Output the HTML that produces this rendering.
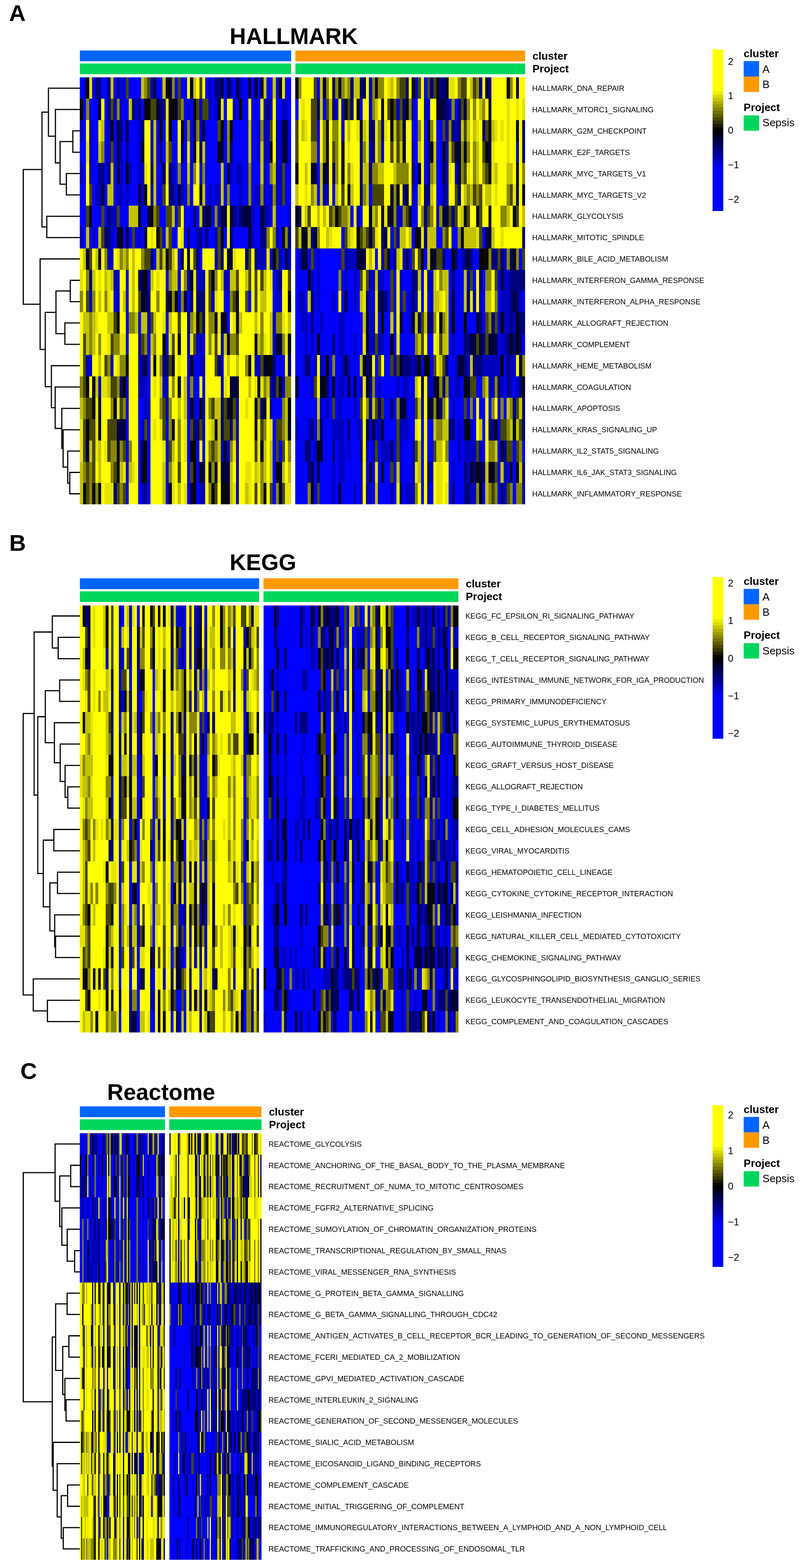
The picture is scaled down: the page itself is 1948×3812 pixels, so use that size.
<!DOCTYPE html>
<html lang="en"><head><meta charset="utf-8"><title>GSVA heatmaps: HALLMARK, KEGG, Reactome</title>
<style>
html,body{margin:0;padding:0;background:#fff}
body{width:1948px;height:3812px;overflow:hidden}
svg{display:block}
text{font-family:"Liberation Sans",Arial,Helvetica,sans-serif;fill:#000}
.big{font-size:55px;font-weight:700}
.let{font-size:56px;font-weight:700}
.ann{font-size:26px;font-weight:700}
.leg{font-size:26px}
.tick{font-size:24px}
.row{font-size:18.3px}
</style></head>
<body>
<svg width="1948" height="3812" viewBox="0 0 1948 3812">
<rect width="1948" height="3812" fill="#fff"/>
<text x="22" y="51.4" class="let">A</text>
<text x="558.5" y="107" class="big">HALLMARK</text>
<rect x="194.3" y="122.8" width="513.6" height="26.3" fill="#0066FF"/>
<rect x="194.3" y="154.3" width="513.6" height="26.1" fill="#00D65C"/>
<rect x="718.4" y="122.8" width="558.6" height="26.3" fill="#FF9900"/>
<rect x="718.4" y="154.3" width="558.6" height="26.1" fill="#00D65C"/>
<text x="1295" y="145.2" class="ann">cluster</text>
<text x="1295" y="176.2" class="ann">Project</text>
<g shape-rendering="crispEdges"><path fill="#0000FF" d="M194 188h8v52h-8zM224 188h8v52h-8zM246 188h15v52h-15zM276 188h8v52h-8zM291 188h8v52h-8zM313 188h30v52h-30zM380 188h15v52h-15zM425 188h7v52h-7zM440 188h15v52h-15zM499 188h8v52h-8zM514 188h8v52h-8zM544 188h8v52h-8zM566 188h8v52h-8zM589 188h15v52h-15zM611 188h8v52h-8zM626 188h7v52h-7zM648 188h15v52h-15zM671 188h7v52h-7zM693 188h15v52h-15zM771 188h7v52h-7zM1031 188h8v52h-8zM202 240h7v52h-7zM217 240h22v52h-22zM254 240h7v52h-7zM299 240h14v52h-14zM343 240h8v52h-8zM447 240h8v52h-8zM462 240h8v52h-8zM514 240h8v52h-8zM544 240h8v52h-8zM574 240h7v52h-7zM589 240h15v52h-15zM611 240h22v52h-22zM671 240h15v52h-15zM700 240h8v52h-8zM718 240h8v52h-8zM785 240h8v52h-8zM875 240h7v52h-7zM1009 240h7v52h-7zM1106 240h7v52h-7zM202 292h7v52h-7zM224 292h15v52h-15zM254 292h7v52h-7zM276 292h8v52h-8zM299 292h7v52h-7zM313 292h23v52h-23zM380 292h8v52h-8zM395 292h8v52h-8zM418 292h14v52h-14zM447 292h8v52h-8zM462 292h8v52h-8zM499 292h30v52h-30zM544 292h8v52h-8zM566 292h38v52h-38zM611 292h15v52h-15zM700 292h8v52h-8zM771 292h7v52h-7zM1001 292h15v52h-15zM1031 292h8v52h-8zM1061 292h15v52h-15zM194 344h15v52h-15zM224 344h15v52h-15zM254 344h7v52h-7zM276 344h8v52h-8zM299 344h7v52h-7zM313 344h23v52h-23zM380 344h8v52h-8zM395 344h8v52h-8zM418 344h14v52h-14zM447 344h8v52h-8zM462 344h8v52h-8zM499 344h30v52h-30zM544 344h8v52h-8zM566 344h38v52h-38zM611 344h15v52h-15zM700 344h8v52h-8zM771 344h7v52h-7zM1009 344h7v52h-7zM1031 344h8v52h-8zM1061 344h15v52h-15zM202 396h7v52h-7zM224 396h15v52h-15zM254 396h7v52h-7zM276 396h8v52h-8zM299 396h7v52h-7zM321 396h15v52h-15zM380 396h15v52h-15zM425 396h7v52h-7zM440 396h15v52h-15zM462 396h8v52h-8zM485 396h7v52h-7zM499 396h38v52h-38zM544 396h8v52h-8zM566 396h8v52h-8zM589 396h15v52h-15zM611 396h22v52h-22zM648 396h8v52h-8zM693 396h15v52h-15zM771 396h7v52h-7zM1009 396h7v52h-7zM1031 396h8v52h-8zM1061 396h15v52h-15zM194 448h15v52h-15zM224 448h8v52h-8zM254 448h7v52h-7zM276 448h8v52h-8zM299 448h7v52h-7zM313 448h23v52h-23zM380 448h15v52h-15zM425 448h7v52h-7zM447 448h8v52h-8zM462 448h8v52h-8zM499 448h8v52h-8zM514 448h8v52h-8zM544 448h8v52h-8zM559 448h22v52h-22zM589 448h15v52h-15zM611 448h8v52h-8zM648 448h8v52h-8zM693 448h15v52h-15zM771 448h7v52h-7zM808 448h7v52h-7zM897 448h8v52h-8zM1009 448h7v52h-7zM1061 448h15v52h-15zM194 500h15v52h-15zM224 500h22v52h-22zM254 500h7v52h-7zM291 500h22v52h-22zM343 500h15v52h-15zM388 500h15v52h-15zM425 500h7v52h-7zM447 500h23v52h-23zM477 500h8v52h-8zM514 500h8v52h-8zM619 500h14v52h-14zM656 500h7v52h-7zM671 500h29v52h-29zM852 500h8v52h-8zM875 500h7v52h-7zM1001 500h15v52h-15zM202 552h7v52h-7zM217 552h7v52h-7zM232 552h7v52h-7zM276 552h8v52h-8zM299 552h7v52h-7zM313 552h8v52h-8zM328 552h8v52h-8zM343 552h8v52h-8zM395 552h8v52h-8zM418 552h14v52h-14zM447 552h8v52h-8zM462 552h15v52h-15zM492 552h7v52h-7zM507 552h15v52h-15zM544 552h8v52h-8zM566 552h38v52h-38zM619 552h14v52h-14zM678 552h8v52h-8zM830 552h8v52h-8zM949 552h8v52h-8zM1001 552h8v52h-8zM1061 552h15v52h-15zM1098 552h15v52h-15zM1173 552h7v52h-7zM373 604h7v52h-7zM432 604h8v52h-8zM485 604h7v52h-7zM656 604h7v52h-7zM686 604h7v52h-7zM718 604h8v52h-8zM748 604h8v52h-8zM763 604h8v52h-8zM778 604h52v52h-52zM912 604h7v52h-7zM949 604h8v52h-8zM994 604h7v52h-7zM1031 604h8v52h-8zM1083 604h15v52h-15zM1113 604h8v52h-8zM1150 604h15v52h-15zM1262 604h8v52h-8zM306 656h7v51h-7zM403 656h7v51h-7zM432 656h8v51h-8zM663 656h8v51h-8zM718 656h30v51h-30zM763 656h8v51h-8zM778 656h45v51h-45zM830 656h8v51h-8zM845 656h15v51h-15zM867 656h8v51h-8zM934 656h15v51h-15zM957 656h7v51h-7zM979 656h22v51h-22zM1024 656h7v51h-7zM1091 656h7v51h-7zM1106 656h22v51h-22zM1150 656h8v51h-8zM1173 656h7v51h-7zM1210 656h7v51h-7zM276 707h8v52h-8zM306 707h7v52h-7zM432 707h8v52h-8zM455 707h7v52h-7zM544 707h8v52h-8zM604 707h7v52h-7zM663 707h8v52h-8zM718 707h8v52h-8zM741 707h7v52h-7zM763 707h8v52h-8zM778 707h30v52h-30zM815 707h8v52h-8zM830 707h8v52h-8zM845 707h15v52h-15zM867 707h8v52h-8zM905 707h7v52h-7zM942 707h7v52h-7zM957 707h7v52h-7zM972 707h7v52h-7zM987 707h7v52h-7zM1024 707h7v52h-7zM1039 707h7v52h-7zM1091 707h7v52h-7zM1106 707h22v52h-22zM1173 707h7v52h-7zM1210 707h7v52h-7zM1270 707h7v52h-7zM306 759h7v52h-7zM336 759h7v52h-7zM403 759h7v52h-7zM552 759h7v52h-7zM718 759h15v52h-15zM748 759h8v52h-8zM763 759h15v52h-15zM785 759h38v52h-38zM838 759h44v52h-44zM919 759h8v52h-8zM934 759h15v52h-15zM957 759h7v52h-7zM979 759h15v52h-15zM1091 759h7v52h-7zM1106 759h22v52h-22zM1135 759h23v52h-23zM1173 759h7v52h-7zM1210 759h7v52h-7zM306 811h7v52h-7zM358 811h8v52h-8zM403 811h7v52h-7zM492 811h7v52h-7zM718 811h23v52h-23zM748 811h8v52h-8zM763 811h8v52h-8zM778 811h30v52h-30zM815 811h8v52h-8zM838 811h22v52h-22zM867 811h15v52h-15zM934 811h15v52h-15zM957 811h7v52h-7zM972 811h37v52h-37zM1039 811h15v52h-15zM1091 811h7v52h-7zM1106 811h22v52h-22zM1210 811h7v52h-7zM1270 811h7v52h-7zM358 863h8v52h-8zM455 863h7v52h-7zM470 863h15v52h-15zM671 863h22v52h-22zM718 863h23v52h-23zM756 863h7v52h-7zM800 863h8v52h-8zM815 863h15v52h-15zM852 863h23v52h-23zM912 863h7v52h-7zM934 863h15v52h-15zM1024 863h7v52h-7zM1046 863h8v52h-8zM1091 863h15v52h-15zM1225 863h7v52h-7zM358 915h8v52h-8zM455 915h7v52h-7zM470 915h15v52h-15zM492 915h7v52h-7zM726 915h30v52h-30zM800 915h8v52h-8zM815 915h8v52h-8zM838 915h7v52h-7zM852 915h8v52h-8zM867 915h8v52h-8zM912 915h7v52h-7zM927 915h37v52h-37zM972 915h7v52h-7zM994 915h15v52h-15zM1098 915h8v52h-8zM1121 915h7v52h-7zM1158 915h15v52h-15zM1225 915h7v52h-7zM1247 915h8v52h-8zM306 967h7v52h-7zM336 967h15v52h-15zM455 967h7v52h-7zM477 967h8v52h-8zM663 967h23v52h-23zM718 967h53v52h-53zM785 967h8v52h-8zM800 967h8v52h-8zM815 967h8v52h-8zM830 967h30v52h-30zM867 967h8v52h-8zM934 967h15v52h-15zM957 967h7v52h-7zM994 967h15v52h-15zM1091 967h7v52h-7zM1106 967h22v52h-22zM1135 967h8v52h-8zM1150 967h8v52h-8zM1165 967h15v52h-15zM1188 967h7v52h-7zM1210 967h7v52h-7zM1225 967h7v52h-7zM306 1019h7v52h-7zM336 1019h7v52h-7zM358 1019h8v52h-8zM403 1019h7v52h-7zM455 1019h7v52h-7zM663 1019h8v52h-8zM726 1019h22v52h-22zM763 1019h8v52h-8zM785 1019h23v52h-23zM838 1019h7v52h-7zM852 1019h15v52h-15zM934 1019h30v52h-30zM994 1019h15v52h-15zM1024 1019h7v52h-7zM1039 1019h15v52h-15zM1106 1019h7v52h-7zM1121 1019h7v52h-7zM1150 1019h8v52h-8zM1173 1019h7v52h-7zM1210 1019h7v52h-7zM306 1071h7v52h-7zM336 1071h7v52h-7zM358 1071h8v52h-8zM403 1071h7v52h-7zM455 1071h7v52h-7zM477 1071h8v52h-8zM492 1071h7v52h-7zM663 1071h8v52h-8zM678 1071h8v52h-8zM718 1071h23v52h-23zM756 1071h7v52h-7zM785 1071h23v52h-23zM815 1071h8v52h-8zM838 1071h7v52h-7zM852 1071h23v52h-23zM897 1071h8v52h-8zM919 1071h8v52h-8zM957 1071h7v52h-7zM979 1071h22v52h-22zM1024 1071h7v52h-7zM1039 1071h15v52h-15zM1091 1071h22v52h-22zM1121 1071h7v52h-7zM1173 1071h7v52h-7zM1210 1071h7v52h-7zM1247 1071h8v52h-8zM1270 1071h7v52h-7zM306 1123h7v51h-7zM336 1123h7v51h-7zM358 1123h8v51h-8zM403 1123h7v51h-7zM455 1123h7v51h-7zM477 1123h8v51h-8zM663 1123h8v51h-8zM718 1123h30v51h-30zM763 1123h8v51h-8zM778 1123h30v51h-30zM815 1123h8v51h-8zM838 1123h37v51h-37zM890 1123h7v51h-7zM905 1123h7v51h-7zM919 1123h8v51h-8zM934 1123h15v51h-15zM957 1123h7v51h-7zM979 1123h22v51h-22zM1024 1123h7v51h-7zM1091 1123h7v51h-7zM1106 1123h22v51h-22zM1210 1123h7v51h-7zM1247 1123h8v51h-8zM306 1174h7v52h-7zM336 1174h7v52h-7zM358 1174h8v52h-8zM403 1174h7v52h-7zM455 1174h7v52h-7zM477 1174h8v52h-8zM663 1174h8v52h-8zM718 1174h30v52h-30zM763 1174h8v52h-8zM778 1174h30v52h-30zM815 1174h8v52h-8zM830 1174h30v52h-30zM867 1174h8v52h-8zM905 1174h7v52h-7zM919 1174h30v52h-30zM957 1174h7v52h-7zM979 1174h8v52h-8zM1024 1174h7v52h-7zM1046 1174h8v52h-8zM1091 1174h7v52h-7zM1106 1174h22v52h-22zM1173 1174h7v52h-7zM1210 1174h7v52h-7zM1247 1174h8v52h-8z"/>
<path fill="#0000BE" d="M202 188h7v52h-7zM299 188h7v52h-7zM366 188h7v52h-7zM507 188h7v52h-7zM559 188h7v52h-7zM581 188h8v52h-8zM897 188h8v52h-8zM1009 188h7v52h-7zM276 240h8v52h-8zM291 240h8v52h-8zM328 240h8v52h-8zM455 240h7v52h-7zM485 240h7v52h-7zM507 240h7v52h-7zM522 240h7v52h-7zM566 240h8v52h-8zM641 240h7v52h-7zM656 240h7v52h-7zM686 240h14v52h-14zM815 240h8v52h-8zM830 240h8v52h-8zM897 240h8v52h-8zM964 240h8v52h-8zM1001 240h8v52h-8zM1031 240h15v52h-15zM1091 240h7v52h-7zM194 292h8v52h-8zM217 292h7v52h-7zM261 292h8v52h-8zM336 292h7v52h-7zM366 292h7v52h-7zM485 292h7v52h-7zM626 292h7v52h-7zM641 292h15v52h-15zM671 292h15v52h-15zM830 292h8v52h-8zM1083 292h8v52h-8zM1106 292h7v52h-7zM217 344h7v52h-7zM261 344h8v52h-8zM291 344h8v52h-8zM336 344h7v52h-7zM366 344h7v52h-7zM626 344h7v52h-7zM641 344h15v52h-15zM671 344h15v52h-15zM897 344h8v52h-8zM927 344h7v52h-7zM1001 344h8v52h-8zM1083 344h8v52h-8zM1255 344h7v52h-7zM194 396h8v52h-8zM217 396h7v52h-7zM291 396h8v52h-8zM313 396h8v52h-8zM336 396h15v52h-15zM418 396h7v52h-7zM559 396h7v52h-7zM574 396h15v52h-15zM641 396h7v52h-7zM671 396h15v52h-15zM1083 396h8v52h-8zM1106 396h7v52h-7zM232 448h14v52h-14zM284 448h15v52h-15zM306 448h7v52h-7zM343 448h8v52h-8zM366 448h7v52h-7zM440 448h7v52h-7zM507 448h7v52h-7zM522 448h15v52h-15zM581 448h8v52h-8zM619 448h14v52h-14zM641 448h7v52h-7zM656 448h7v52h-7zM671 448h15v52h-15zM785 448h15v52h-15zM1001 448h8v52h-8zM1083 448h8v52h-8zM269 500h15v52h-15zM529 500h8v52h-8zM574 500h7v52h-7zM611 500h8v52h-8zM648 500h8v52h-8zM700 500h8v52h-8zM867 500h8v52h-8zM964 500h15v52h-15zM1061 500h7v52h-7zM194 552h8v52h-8zM224 552h8v52h-8zM269 552h7v52h-7zM336 552h7v52h-7zM477 552h8v52h-8zM522 552h7v52h-7zM611 552h8v52h-8zM671 552h7v52h-7zM964 552h8v52h-8zM261 604h15v52h-15zM522 604h7v52h-7zM626 604h22v52h-22zM678 604h8v52h-8zM700 604h8v52h-8zM726 604h7v52h-7zM771 604h7v52h-7zM838 604h29v52h-29zM927 604h7v52h-7zM979 604h8v52h-8zM1121 604h7v52h-7zM1225 604h7v52h-7zM276 656h15v51h-15zM358 656h8v51h-8zM455 656h7v51h-7zM477 656h22v51h-22zM544 656h15v51h-15zM671 656h7v51h-7zM756 656h7v51h-7zM771 656h7v51h-7zM838 656h7v51h-7zM860 656h7v51h-7zM897 656h15v51h-15zM919 656h15v51h-15zM972 656h7v51h-7zM1039 656h15v51h-15zM1135 656h8v51h-8zM1225 656h15v51h-15zM217 707h7v52h-7zM284 707h7v52h-7zM514 707h8v52h-8zM552 707h7v52h-7zM671 707h15v52h-15zM726 707h15v52h-15zM771 707h7v52h-7zM808 707h7v52h-7zM860 707h7v52h-7zM897 707h8v52h-8zM994 707h7v52h-7zM1009 707h7v52h-7zM1046 707h8v52h-8zM1150 707h8v52h-8zM1165 707h8v52h-8zM1217 707h23v52h-23zM1262 707h8v52h-8zM358 759h8v52h-8zM663 759h8v52h-8zM733 759h15v52h-15zM778 759h7v52h-7zM823 759h15v52h-15zM897 759h15v52h-15zM994 759h7v52h-7zM1225 759h15v52h-15zM1247 759h8v52h-8zM336 811h7v52h-7zM455 811h7v52h-7zM477 811h15v52h-15zM537 811h7v52h-7zM663 811h8v52h-8zM741 811h7v52h-7zM756 811h7v52h-7zM823 811h15v52h-15zM860 811h7v52h-7zM897 811h15v52h-15zM919 811h15v52h-15zM1098 811h8v52h-8zM1217 811h15v52h-15zM209 863h15v52h-15zM269 863h7v52h-7zM336 863h7v52h-7zM485 863h14v52h-14zM537 863h7v52h-7zM619 863h14v52h-14zM763 863h8v52h-8zM778 863h15v52h-15zM830 863h8v52h-8zM845 863h7v52h-7zM957 863h7v52h-7zM1001 863h8v52h-8zM1106 863h7v52h-7zM1135 863h8v52h-8zM1173 863h44v52h-44zM1240 863h15v52h-15zM239 915h7v52h-7zM306 915h7v52h-7zM336 915h22v52h-22zM395 915h15v52h-15zM537 915h7v52h-7zM656 915h7v52h-7zM686 915h7v52h-7zM756 915h7v52h-7zM823 915h15v52h-15zM875 915h7v52h-7zM919 915h8v52h-8zM964 915h8v52h-8zM979 915h15v52h-15zM1039 915h15v52h-15zM1091 915h7v52h-7zM1106 915h15v52h-15zM1188 915h15v52h-15zM1217 915h8v52h-8zM1240 915h7v52h-7zM1255 915h7v52h-7zM351 967h15v52h-15zM403 967h7v52h-7zM470 967h7v52h-7zM492 967h7v52h-7zM574 967h7v52h-7zM656 967h7v52h-7zM778 967h7v52h-7zM793 967h7v52h-7zM823 967h7v52h-7zM860 967h7v52h-7zM987 967h7v52h-7zM1024 967h7v52h-7zM1098 967h8v52h-8zM343 1019h8v52h-8zM492 1019h7v52h-7zM574 1019h7v52h-7zM718 1019h8v52h-8zM748 1019h8v52h-8zM808 1019h30v52h-30zM867 1019h15v52h-15zM897 1019h8v52h-8zM912 1019h15v52h-15zM972 1019h22v52h-22zM1113 1019h8v52h-8zM1143 1019h7v52h-7zM537 1071h7v52h-7zM552 1071h7v52h-7zM574 1071h7v52h-7zM763 1071h8v52h-8zM823 1071h15v52h-15zM845 1071h7v52h-7zM890 1071h7v52h-7zM905 1071h7v52h-7zM927 1071h22v52h-22zM972 1071h7v52h-7zM1001 1071h8v52h-8zM1113 1071h8v52h-8zM1128 1071h30v52h-30zM1165 1071h8v52h-8zM574 1123h7v51h-7zM808 1123h7v51h-7zM823 1123h15v51h-15zM875 1123h7v51h-7zM972 1123h7v51h-7zM1001 1123h8v51h-8zM1046 1123h8v51h-8zM1098 1123h8v51h-8zM1135 1123h8v51h-8zM1225 1123h15v51h-15zM343 1174h8v52h-8zM485 1174h14v52h-14zM574 1174h7v52h-7zM808 1174h7v52h-7zM860 1174h7v52h-7zM875 1174h7v52h-7zM890 1174h15v52h-15zM949 1174h8v52h-8zM987 1174h22v52h-22zM1039 1174h7v52h-7zM1143 1174h15v52h-15zM1225 1174h7v52h-7zM1270 1174h7v52h-7z"/>
<path fill="#080804" d="M209 188h8v52h-8zM403 188h7v52h-7zM619 188h7v52h-7zM678 188h8v52h-8zM718 188h8v52h-8zM912 188h7v52h-7zM1001 188h8v52h-8zM1061 188h7v52h-7zM1232 188h8v52h-8zM194 240h8v52h-8zM351 240h15v52h-15zM410 240h15v52h-15zM470 240h7v52h-7zM581 240h8v52h-8zM838 240h7v52h-7zM867 240h8v52h-8zM949 240h8v52h-8zM987 240h7v52h-7zM1188 240h7v52h-7zM269 292h7v52h-7zM388 292h7v52h-7zM410 292h8v52h-8zM440 292h7v52h-7zM537 292h7v52h-7zM559 292h7v52h-7zM793 292h7v52h-7zM949 292h8v52h-8zM1188 292h7v52h-7zM470 344h7v52h-7zM529 344h8v52h-8zM656 344h7v52h-7zM793 344h7v52h-7zM1046 344h8v52h-8zM1076 344h7v52h-7zM1128 344h7v52h-7zM1180 344h8v52h-8zM306 396h7v52h-7zM718 396h8v52h-8zM1188 396h7v52h-7zM1255 396h7v52h-7zM351 448h7v52h-7zM845 448h7v52h-7zM366 500h7v52h-7zM718 500h8v52h-8zM815 500h8v52h-8zM942 500h7v52h-7zM1128 500h7v52h-7zM1188 500h7v52h-7zM1247 500h8v52h-8zM291 552h8v52h-8zM380 552h8v52h-8zM686 552h7v52h-7zM741 552h7v52h-7zM867 552h8v52h-8zM1009 552h15v52h-15zM552 604h7v52h-7zM663 604h8v52h-8zM1046 604h8v52h-8zM1098 604h8v52h-8zM1165 604h23v52h-23zM1247 604h8v52h-8zM351 656h7v51h-7zM462 656h8v51h-8zM514 656h8v51h-8zM410 707h8v52h-8zM425 707h7v52h-7zM700 707h8v52h-8zM284 759h7v52h-7zM477 759h8v52h-8zM927 759h7v52h-7zM1068 759h8v52h-8zM1098 759h8v52h-8zM1128 759h7v52h-7zM1217 759h8v52h-8zM1255 759h7v52h-7zM395 811h8v52h-8zM432 811h8v52h-8zM619 811h7v52h-7zM700 811h8v52h-8zM771 811h7v52h-7zM949 811h8v52h-8zM1240 811h7v52h-7zM1255 811h7v52h-7zM373 863h7v52h-7zM462 863h8v52h-8zM604 863h7v52h-7zM648 863h15v52h-15zM793 863h7v52h-7zM882 863h8v52h-8zM897 863h8v52h-8zM1016 863h8v52h-8zM1031 863h15v52h-15zM1217 863h8v52h-8zM1262 863h8v52h-8zM209 915h8v52h-8zM224 915h8v52h-8zM299 915h7v52h-7zM432 915h8v52h-8zM785 915h8v52h-8zM808 915h7v52h-7zM1061 915h7v52h-7zM1128 915h7v52h-7zM1270 915h7v52h-7zM224 967h8v52h-8zM462 967h8v52h-8zM485 967h7v52h-7zM559 967h7v52h-7zM641 967h7v52h-7zM700 967h8v52h-8zM1061 967h7v52h-7zM209 1019h8v52h-8zM522 1019h7v52h-7zM619 1019h7v52h-7zM1135 1019h8v52h-8zM1203 1019h7v52h-7zM1247 1019h8v52h-8zM351 1071h7v52h-7zM462 1071h15v52h-15zM771 1071h7v52h-7zM284 1123h7v51h-7zM343 1123h15v51h-15zM470 1123h7v51h-7zM485 1123h7v51h-7zM507 1123h7v51h-7zM671 1123h7v51h-7zM1143 1123h7v51h-7zM1158 1123h7v51h-7zM1188 1123h7v51h-7zM1255 1123h7v51h-7zM202 1174h7v52h-7zM224 1174h8v52h-8zM239 1174h7v52h-7zM410 1174h8v52h-8zM470 1174h7v52h-7zM514 1174h8v52h-8zM537 1174h15v52h-15zM641 1174h7v52h-7zM1165 1174h8v52h-8z"/>
<path fill="#E4E400" d="M217 188h7v52h-7zM686 188h7v52h-7zM942 188h7v52h-7zM1091 188h15v52h-15zM403 240h7v52h-7zM537 240h7v52h-7zM633 240h8v52h-8zM733 240h8v52h-8zM1232 240h8v52h-8zM1255 240h7v52h-7zM1270 240h7v52h-7zM239 292h7v52h-7zM403 292h7v52h-7zM741 292h7v52h-7zM867 292h8v52h-8zM890 292h7v52h-7zM912 292h7v52h-7zM934 292h8v52h-8zM1158 292h7v52h-7zM1203 292h7v52h-7zM1217 292h8v52h-8zM1232 292h8v52h-8zM209 344h8v52h-8zM455 344h7v52h-7zM477 344h8v52h-8zM845 344h7v52h-7zM890 344h7v52h-7zM912 344h7v52h-7zM957 344h7v52h-7zM1195 344h8v52h-8zM1232 344h8v52h-8zM351 396h7v52h-7zM403 396h7v52h-7zM852 396h8v52h-8zM1091 396h7v52h-7zM1135 396h8v52h-8zM1195 396h8v52h-8zM741 448h7v52h-7zM1203 448h7v52h-7zM1247 448h8v52h-8zM934 500h8v52h-8zM1113 500h8v52h-8zM366 552h7v52h-7zM440 552h7v52h-7zM800 552h8v52h-8zM852 552h8v52h-8zM912 552h7v52h-7zM1024 552h7v52h-7zM1158 552h7v52h-7zM1217 552h8v52h-8zM284 604h7v52h-7zM566 604h8v52h-8zM648 604h8v52h-8zM972 604h7v52h-7zM194 656h8v51h-8zM239 656h7v51h-7zM261 656h8v51h-8zM380 656h8v51h-8zM470 656h7v51h-7zM656 656h7v51h-7zM882 656h8v51h-8zM261 707h8v52h-8zM522 707h7v52h-7zM882 707h8v52h-8zM912 707h7v52h-7zM1068 707h8v52h-8zM1143 707h7v52h-7zM232 759h7v52h-7zM395 759h8v52h-8zM529 759h8v52h-8zM566 759h8v52h-8zM686 759h7v52h-7zM912 759h7v52h-7zM261 811h8v52h-8zM291 811h15v52h-15zM410 811h8v52h-8zM462 811h8v52h-8zM514 811h8v52h-8zM641 811h7v52h-7zM693 811h7v52h-7zM882 811h8v52h-8zM964 811h8v52h-8zM1061 811h7v52h-7zM284 863h7v52h-7zM366 863h7v52h-7zM432 863h8v52h-8zM1061 863h7v52h-7zM246 915h15v52h-15zM373 915h7v52h-7zM544 915h8v52h-8zM619 915h7v52h-7zM633 915h8v52h-8zM882 915h8v52h-8zM232 967h7v52h-7zM284 967h7v52h-7zM596 967h8v52h-8zM1083 967h8v52h-8zM194 1019h8v52h-8zM232 1019h7v52h-7zM373 1019h7v52h-7zM388 1019h7v52h-7zM447 1019h8v52h-8zM507 1019h7v52h-7zM626 1019h7v52h-7zM656 1019h7v52h-7zM1009 1019h7v52h-7zM194 1071h8v52h-8zM232 1071h7v52h-7zM254 1071h7v52h-7zM395 1071h8v52h-8zM447 1071h8v52h-8zM566 1071h8v52h-8zM626 1071h7v52h-7zM299 1123h7v51h-7zM321 1123h7v51h-7zM418 1123h7v51h-7zM529 1123h8v51h-8zM596 1123h15v51h-15zM626 1123h7v51h-7zM912 1123h7v51h-7zM1009 1123h7v51h-7zM1061 1123h15v51h-15zM254 1174h22v52h-22zM418 1174h7v52h-7zM447 1174h8v52h-8zM566 1174h8v52h-8zM604 1174h7v52h-7zM693 1174h15v52h-15zM964 1174h8v52h-8zM1061 1174h15v52h-15zM1083 1174h8v52h-8z"/>
<path fill="#00007D" d="M232 188h14v52h-14zM261 188h8v52h-8zM284 188h7v52h-7zM522 188h15v52h-15zM808 188h7v52h-7zM852 188h8v52h-8zM875 188h7v52h-7zM987 188h7v52h-7zM1046 188h8v52h-8zM1068 188h15v52h-15zM1165 188h8v52h-8zM1188 188h7v52h-7zM1255 188h7v52h-7zM261 240h8v52h-8zM321 240h7v52h-7zM336 240h7v52h-7zM388 240h15v52h-15zM648 240h8v52h-8zM771 240h7v52h-7zM808 240h7v52h-7zM852 240h8v52h-8zM979 240h8v52h-8zM1083 240h8v52h-8zM1113 240h8v52h-8zM291 292h8v52h-8zM343 292h8v52h-8zM897 292h15v52h-15zM927 292h7v52h-7zM1098 292h8v52h-8zM1113 292h8v52h-8zM1173 292h7v52h-7zM1270 292h7v52h-7zM306 344h7v52h-7zM388 344h7v52h-7zM440 344h7v52h-7zM485 344h7v52h-7zM559 344h7v52h-7zM875 344h7v52h-7zM905 344h7v52h-7zM1039 344h7v52h-7zM1270 344h7v52h-7zM239 396h15v52h-15zM261 396h8v52h-8zM366 396h7v52h-7zM410 396h8v52h-8zM808 396h7v52h-7zM875 396h7v52h-7zM897 396h8v52h-8zM1001 396h8v52h-8zM1039 396h7v52h-7zM410 448h15v52h-15zM875 448h7v52h-7zM979 448h8v52h-8zM1031 448h15v52h-15zM1076 448h7v52h-7zM1113 448h8v52h-8zM1255 448h7v52h-7zM261 500h8v52h-8zM470 500h7v52h-7zM492 500h7v52h-7zM566 500h8v52h-8zM581 500h8v52h-8zM641 500h7v52h-7zM726 500h7v52h-7zM1031 500h8v52h-8zM1098 500h8v52h-8zM254 552h15v52h-15zM455 552h7v52h-7zM485 552h7v52h-7zM499 552h8v52h-8zM559 552h7v52h-7zM633 552h15v52h-15zM700 552h8v52h-8zM756 552h7v52h-7zM927 552h7v52h-7zM1031 552h8v52h-8zM1270 552h7v52h-7zM366 604h7v52h-7zM477 604h8v52h-8zM537 604h7v52h-7zM596 604h8v52h-8zM619 604h7v52h-7zM957 604h7v52h-7zM1076 604h7v52h-7zM1106 604h7v52h-7zM1128 604h7v52h-7zM1143 604h7v52h-7zM1195 604h15v52h-15zM1217 604h8v52h-8zM1240 604h7v52h-7zM217 656h7v51h-7zM336 656h7v51h-7zM678 656h8v51h-8zM1001 656h15v51h-15zM1098 656h8v51h-8zM1165 656h8v51h-8zM1240 656h37v51h-37zM358 707h8v52h-8zM403 707h7v52h-7zM462 707h8v52h-8zM477 707h22v52h-22zM756 707h7v52h-7zM890 707h7v52h-7zM919 707h8v52h-8zM934 707h8v52h-8zM1001 707h8v52h-8zM1135 707h8v52h-8zM1240 707h7v52h-7zM1255 707h7v52h-7zM455 759h7v52h-7zM492 759h7v52h-7zM756 759h7v52h-7zM1016 759h8v52h-8zM1039 759h15v52h-15zM1165 759h8v52h-8zM1195 759h8v52h-8zM1240 759h7v52h-7zM1262 759h15v52h-15zM808 811h7v52h-7zM1128 811h15v52h-15zM1173 811h7v52h-7zM1232 811h8v52h-8zM1247 811h8v52h-8zM1262 811h8v52h-8zM343 863h8v52h-8zM395 863h15v52h-15zM529 863h8v52h-8zM663 863h8v52h-8zM700 863h8v52h-8zM741 863h15v52h-15zM890 863h7v52h-7zM979 863h22v52h-22zM1009 863h7v52h-7zM1083 863h8v52h-8zM1128 863h7v52h-7zM1150 863h23v52h-23zM1232 863h8v52h-8zM291 915h8v52h-8zM663 915h8v52h-8zM793 915h7v52h-7zM897 915h8v52h-8zM1024 915h7v52h-7zM1076 915h7v52h-7zM1210 915h7v52h-7zM1232 915h8v52h-8zM1262 915h8v52h-8zM537 967h7v52h-7zM633 967h8v52h-8zM897 967h8v52h-8zM919 967h8v52h-8zM949 967h8v52h-8zM1068 967h8v52h-8zM1247 967h8v52h-8zM1270 967h7v52h-7zM470 1019h15v52h-15zM537 1019h7v52h-7zM559 1019h7v52h-7zM756 1019h7v52h-7zM778 1019h7v52h-7zM845 1019h7v52h-7zM1091 1019h15v52h-15zM1188 1019h15v52h-15zM1270 1019h7v52h-7zM741 1071h15v52h-15zM808 1071h7v52h-7zM875 1071h7v52h-7zM949 1071h8v52h-8zM1225 1071h7v52h-7zM492 1123h7v51h-7zM748 1123h8v51h-8zM1039 1123h7v51h-7zM1128 1123h7v51h-7zM1150 1123h8v51h-8zM1173 1123h7v51h-7zM1270 1123h7v51h-7zM276 1174h8v52h-8zM351 1174h7v52h-7zM972 1174h7v52h-7zM1098 1174h8v52h-8zM1128 1174h15v52h-15zM1217 1174h8v52h-8z"/>
<path fill="#C3C300" d="M269 188h7v52h-7zM343 188h8v52h-8zM395 188h8v52h-8zM470 188h7v52h-7zM641 188h7v52h-7zM663 188h8v52h-8zM778 188h7v52h-7zM838 188h7v52h-7zM860 188h15v52h-15zM949 188h8v52h-8zM1143 188h7v52h-7zM313 240h8v52h-8zM778 240h7v52h-7zM800 240h8v52h-8zM912 240h7v52h-7zM1165 240h8v52h-8zM246 292h8v52h-8zM373 292h7v52h-7zM604 292h7v52h-7zM733 292h8v52h-8zM845 292h7v52h-7zM882 292h8v52h-8zM957 292h7v52h-7zM1121 292h7v52h-7zM1135 292h8v52h-8zM1150 292h8v52h-8zM1195 292h8v52h-8zM239 344h7v52h-7zM373 344h7v52h-7zM403 344h7v52h-7zM492 344h7v52h-7zM604 344h7v52h-7zM633 344h8v52h-8zM972 344h7v52h-7zM1016 344h8v52h-8zM1054 344h7v52h-7zM1091 344h7v52h-7zM1158 344h7v52h-7zM269 396h7v52h-7zM373 396h7v52h-7zM455 396h7v52h-7zM537 396h7v52h-7zM633 396h8v52h-8zM663 396h8v52h-8zM741 396h7v52h-7zM778 396h7v52h-7zM882 396h15v52h-15zM919 396h15v52h-15zM957 396h7v52h-7zM1054 396h7v52h-7zM1158 396h7v52h-7zM1203 396h7v52h-7zM1232 396h15v52h-15zM261 448h15v52h-15zM373 448h7v52h-7zM492 448h7v52h-7zM537 448h7v52h-7zM718 448h8v52h-8zM763 448h8v52h-8zM778 448h7v52h-7zM815 448h8v52h-8zM852 448h8v52h-8zM890 448h7v52h-7zM1016 448h8v52h-8zM1046 448h8v52h-8zM1128 448h7v52h-7zM1143 448h7v52h-7zM1180 448h15v52h-15zM313 500h23v52h-23zM418 500h7v52h-7zM485 500h7v52h-7zM663 500h8v52h-8zM741 500h7v52h-7zM771 500h7v52h-7zM785 500h8v52h-8zM845 500h7v52h-7zM905 500h7v52h-7zM1121 500h7v52h-7zM1232 500h8v52h-8zM1270 500h7v52h-7zM209 552h8v52h-8zM239 552h7v52h-7zM403 552h7v52h-7zM726 552h7v52h-7zM748 552h8v52h-8zM793 552h7v52h-7zM845 552h7v52h-7zM972 552h15v52h-15zM994 552h7v52h-7zM1039 552h22v52h-22zM1128 552h30v52h-30zM1195 552h8v52h-8zM202 604h7v52h-7zM232 604h7v52h-7zM299 604h7v52h-7zM321 604h7v52h-7zM380 604h8v52h-8zM395 604h8v52h-8zM418 604h7v52h-7zM897 604h8v52h-8zM964 604h8v52h-8zM1039 604h7v52h-7zM224 656h8v51h-8zM254 656h7v51h-7zM269 656h7v51h-7zM321 656h7v51h-7zM366 656h7v51h-7zM418 656h14v51h-14zM537 656h7v51h-7zM559 656h15v51h-15zM596 656h8v51h-8zM641 656h7v51h-7zM912 656h7v51h-7zM1016 656h8v51h-8zM1054 656h7v51h-7zM1076 656h15v51h-15zM1128 656h7v51h-7zM239 707h7v52h-7zM299 707h7v52h-7zM321 707h7v52h-7zM633 707h15v52h-15zM748 707h8v52h-8zM875 707h7v52h-7zM1054 707h14v52h-14zM1083 707h8v52h-8zM1128 707h7v52h-7zM1180 707h15v52h-15zM202 759h15v52h-15zM224 759h8v52h-8zM261 759h15v52h-15zM328 759h8v52h-8zM343 759h15v52h-15zM373 759h7v52h-7zM410 759h8v52h-8zM470 759h7v52h-7zM581 759h8v52h-8zM619 759h7v52h-7zM656 759h7v52h-7zM700 759h8v52h-8zM882 759h8v52h-8zM949 759h8v52h-8zM1009 759h7v52h-7zM1031 759h8v52h-8zM1083 759h8v52h-8zM209 811h8v52h-8zM224 811h8v52h-8zM366 811h7v52h-7zM544 811h8v52h-8zM626 811h7v52h-7zM656 811h7v52h-7zM1016 811h8v52h-8zM1076 811h15v52h-15zM239 863h7v52h-7zM552 863h7v52h-7zM574 863h7v52h-7zM875 863h7v52h-7zM1068 863h8v52h-8zM1143 863h7v52h-7zM232 915h7v52h-7zM261 915h8v52h-8zM388 915h7v52h-7zM447 915h8v52h-8zM604 915h7v52h-7zM648 915h8v52h-8zM1009 915h7v52h-7zM1180 915h8v52h-8zM194 967h8v52h-8zM432 967h8v52h-8zM447 967h8v52h-8zM522 967h15v52h-15zM693 967h7v52h-7zM771 967h7v52h-7zM905 967h7v52h-7zM1016 967h8v52h-8zM1232 967h8v52h-8zM1262 967h8v52h-8zM514 1019h8v52h-8zM529 1019h8v52h-8zM693 1019h7v52h-7zM1054 1019h7v52h-7zM1076 1019h15v52h-15zM1165 1019h8v52h-8zM1240 1019h7v52h-7zM1255 1019h7v52h-7zM217 1071h7v52h-7zM239 1071h7v52h-7zM418 1071h7v52h-7zM529 1071h8v52h-8zM641 1071h7v52h-7zM656 1071h7v52h-7zM1016 1071h8v52h-8zM1061 1071h15v52h-15zM1203 1071h7v52h-7zM194 1123h8v51h-8zM239 1123h7v51h-7zM291 1123h8v51h-8zM313 1123h8v51h-8zM395 1123h8v51h-8zM559 1123h7v51h-7zM619 1123h7v51h-7zM641 1123h7v51h-7zM656 1123h7v51h-7zM686 1123h7v51h-7zM700 1123h8v51h-8zM964 1123h8v51h-8zM1016 1123h8v51h-8zM1180 1123h8v51h-8zM1217 1123h8v51h-8zM1262 1123h8v51h-8zM194 1174h8v52h-8zM395 1174h8v52h-8zM432 1174h8v52h-8zM559 1174h7v52h-7zM596 1174h8v52h-8zM912 1174h7v52h-7zM1180 1174h8v52h-8z"/>
<path fill="#464600" d="M306 188h7v52h-7zM358 188h8v52h-8zM432 188h8v52h-8zM485 188h7v52h-7zM763 188h8v52h-8zM972 188h15v52h-15zM1016 188h8v52h-8zM1039 188h7v52h-7zM1054 188h7v52h-7zM1121 188h14v52h-14zM1150 188h8v52h-8zM269 240h7v52h-7zM366 240h14v52h-14zM432 240h8v52h-8zM477 240h8v52h-8zM492 240h15v52h-15zM756 240h15v52h-15zM793 240h7v52h-7zM845 240h7v52h-7zM942 240h7v52h-7zM957 240h7v52h-7zM972 240h7v52h-7zM1121 240h7v52h-7zM529 292h8v52h-8zM656 292h7v52h-7zM718 292h8v52h-8zM756 292h15v52h-15zM964 292h8v52h-8zM1076 292h7v52h-7zM1128 292h7v52h-7zM1180 292h8v52h-8zM269 344h7v52h-7zM410 344h8v52h-8zM718 344h8v52h-8zM808 344h7v52h-7zM949 344h8v52h-8zM964 344h8v52h-8zM1098 344h8v52h-8zM1173 344h7v52h-7zM686 396h7v52h-7zM1128 396h7v52h-7zM1180 396h8v52h-8zM217 448h7v52h-7zM395 448h8v52h-8zM686 448h7v52h-7zM830 448h8v52h-8zM905 448h29v52h-29zM1106 448h7v52h-7zM1150 448h8v52h-8zM1165 448h8v52h-8zM1240 448h7v52h-7zM209 500h8v52h-8zM246 500h8v52h-8zM284 500h7v52h-7zM380 500h8v52h-8zM403 500h15v52h-15zM432 500h8v52h-8zM748 500h8v52h-8zM800 500h8v52h-8zM823 500h7v52h-7zM987 500h7v52h-7zM1039 500h7v52h-7zM1091 500h7v52h-7zM1106 500h7v52h-7zM1135 500h8v52h-8zM1165 500h8v52h-8zM1255 500h7v52h-7zM246 552h8v52h-8zM321 552h7v52h-7zM388 552h7v52h-7zM410 552h8v52h-8zM529 552h8v52h-8zM718 552h8v52h-8zM838 552h7v52h-7zM875 552h7v52h-7zM890 552h7v52h-7zM905 552h7v52h-7zM957 552h7v52h-7zM1083 552h8v52h-8zM1165 552h8v52h-8zM217 604h7v52h-7zM351 604h15v52h-15zM388 604h7v52h-7zM410 604h8v52h-8zM470 604h7v52h-7zM529 604h8v52h-8zM604 604h7v52h-7zM671 604h7v52h-7zM756 604h7v52h-7zM830 604h8v52h-8zM934 604h8v52h-8zM1001 604h8v52h-8zM1016 604h8v52h-8zM1061 604h15v52h-15zM1210 604h7v52h-7zM1270 604h7v52h-7zM507 656h7v51h-7zM574 656h7v51h-7zM604 656h7v51h-7zM619 656h7v51h-7zM633 656h8v51h-8zM700 656h8v51h-8zM875 656h7v51h-7zM890 656h7v51h-7zM949 656h8v51h-8zM1143 656h7v51h-7zM1203 656h7v51h-7zM209 707h8v52h-8zM336 707h7v52h-7zM507 707h7v52h-7zM566 707h8v52h-8zM596 707h8v52h-8zM619 707h7v52h-7zM949 707h8v52h-8zM979 707h8v52h-8zM276 759h8v52h-8zM366 759h7v52h-7zM432 759h8v52h-8zM485 759h7v52h-7zM1024 759h7v52h-7zM1180 759h8v52h-8zM1203 759h7v52h-7zM202 811h7v52h-7zM269 811h7v52h-7zM343 811h8v52h-8zM418 811h7v52h-7zM470 811h7v52h-7zM522 811h7v52h-7zM574 811h7v52h-7zM912 811h7v52h-7zM1024 811h7v52h-7zM1068 811h8v52h-8zM1158 811h7v52h-7zM1180 811h8v52h-8zM202 863h7v52h-7zM254 863h7v52h-7zM410 863h8v52h-8zM522 863h7v52h-7zM633 863h8v52h-8zM919 863h8v52h-8zM949 863h8v52h-8zM964 863h8v52h-8zM1054 863h7v52h-7zM1076 863h7v52h-7zM202 915h7v52h-7zM269 915h15v52h-15zM671 915h7v52h-7zM763 915h8v52h-8zM1143 915h15v52h-15zM209 967h15v52h-15zM291 967h8v52h-8zM395 967h8v52h-8zM514 967h8v52h-8zM544 967h8v52h-8zM566 967h8v52h-8zM808 967h7v52h-7zM875 967h7v52h-7zM912 967h7v52h-7zM927 967h7v52h-7zM1009 967h7v52h-7zM1128 967h7v52h-7zM1255 967h7v52h-7zM202 1019h7v52h-7zM217 1019h15v52h-15zM261 1019h23v52h-23zM351 1019h7v52h-7zM395 1019h8v52h-8zM462 1019h8v52h-8zM485 1019h7v52h-7zM544 1019h15v52h-15zM633 1019h8v52h-8zM671 1019h15v52h-15zM964 1019h8v52h-8zM1217 1019h15v52h-15zM1262 1019h8v52h-8zM202 1071h7v52h-7zM224 1071h8v52h-8zM261 1071h8v52h-8zM299 1071h7v52h-7zM410 1071h8v52h-8zM514 1071h8v52h-8zM619 1071h7v52h-7zM671 1071h7v52h-7zM686 1071h7v52h-7zM912 1071h7v52h-7zM964 1071h8v52h-8zM1009 1071h7v52h-7zM1054 1071h7v52h-7zM1158 1071h7v52h-7zM1232 1071h15v52h-15zM1255 1071h7v52h-7zM209 1123h8v51h-8zM224 1123h8v51h-8zM276 1123h8v51h-8zM432 1123h8v51h-8zM462 1123h8v51h-8zM949 1123h8v51h-8zM1203 1123h7v51h-7zM209 1174h8v52h-8zM284 1174h7v52h-7zM299 1174h7v52h-7zM522 1174h7v52h-7zM619 1174h7v52h-7zM656 1174h7v52h-7zM686 1174h7v52h-7zM771 1174h7v52h-7zM1195 1174h8v52h-8zM1232 1174h8v52h-8z"/>
<path fill="#878700" d="M351 188h7v52h-7zM418 188h7v52h-7zM726 188h7v52h-7zM793 188h7v52h-7zM815 188h8v52h-8zM830 188h8v52h-8zM845 188h7v52h-7zM905 188h7v52h-7zM919 188h15v52h-15zM964 188h8v52h-8zM1113 188h8v52h-8zM1158 188h7v52h-7zM1240 188h7v52h-7zM209 240h8v52h-8zM284 240h7v52h-7zM440 240h7v52h-7zM905 240h7v52h-7zM994 240h7v52h-7zM1098 240h8v52h-8zM1135 240h8v52h-8zM1150 240h8v52h-8zM1173 240h7v52h-7zM455 292h7v52h-7zM477 292h8v52h-8zM552 292h7v52h-7zM633 292h8v52h-8zM785 292h8v52h-8zM808 292h15v52h-15zM919 292h8v52h-8zM972 292h7v52h-7zM1016 292h8v52h-8zM1046 292h8v52h-8zM1091 292h7v52h-7zM246 344h8v52h-8zM552 344h7v52h-7zM756 344h15v52h-15zM785 344h8v52h-8zM815 344h8v52h-8zM882 344h8v52h-8zM919 344h8v52h-8zM1121 344h7v52h-7zM1135 344h8v52h-8zM1150 344h8v52h-8zM432 396h8v52h-8zM470 396h7v52h-7zM492 396h7v52h-7zM604 396h7v52h-7zM656 396h7v52h-7zM815 396h8v52h-8zM845 396h7v52h-7zM905 396h14v52h-14zM964 396h30v52h-30zM1046 396h8v52h-8zM1121 396h7v52h-7zM1150 396h8v52h-8zM1173 396h7v52h-7zM1270 396h7v52h-7zM455 448h7v52h-7zM552 448h7v52h-7zM604 448h7v52h-7zM633 448h8v52h-8zM663 448h8v52h-8zM756 448h7v52h-7zM882 448h8v52h-8zM957 448h7v52h-7zM1135 448h8v52h-8zM1158 448h7v52h-7zM1232 448h8v52h-8zM373 500h7v52h-7zM522 500h7v52h-7zM808 500h7v52h-7zM830 500h15v52h-15zM912 500h7v52h-7zM957 500h7v52h-7zM979 500h8v52h-8zM1024 500h7v52h-7zM1046 500h8v52h-8zM1068 500h8v52h-8zM1217 500h15v52h-15zM648 552h8v52h-8zM663 552h8v52h-8zM693 552h7v52h-7zM771 552h7v52h-7zM882 552h8v52h-8zM1076 552h7v52h-7zM1113 552h8v52h-8zM254 604h7v52h-7zM291 604h8v52h-8zM306 604h7v52h-7zM343 604h8v52h-8zM1188 604h7v52h-7zM1232 604h8v52h-8zM1255 604h7v52h-7zM209 656h8v51h-8zM410 656h8v51h-8zM447 656h8v51h-8zM522 656h7v51h-7zM823 656h7v51h-7zM1068 656h8v51h-8zM1180 656h15v51h-15zM194 707h8v52h-8zM224 707h8v52h-8zM254 707h7v52h-7zM380 707h8v52h-8zM418 707h7v52h-7zM440 707h7v52h-7zM559 707h7v52h-7zM1203 707h7v52h-7zM217 759h7v52h-7zM313 759h15v52h-15zM462 759h8v52h-8zM507 759h15v52h-15zM633 759h8v52h-8zM671 759h15v52h-15zM1054 759h7v52h-7zM1076 759h7v52h-7zM1188 759h7v52h-7zM217 811h7v52h-7zM239 811h7v52h-7zM276 811h15v52h-15zM351 811h7v52h-7zM373 811h7v52h-7zM507 811h7v52h-7zM559 811h15v52h-15zM633 811h8v52h-8zM686 811h7v52h-7zM1009 811h7v52h-7zM261 863h8v52h-8zM291 863h15v52h-15zM388 863h7v52h-7zM596 863h8v52h-8zM808 863h7v52h-7zM1270 863h7v52h-7zM194 915h8v52h-8zM284 915h7v52h-7zM418 915h7v52h-7zM462 915h8v52h-8zM641 915h7v52h-7zM693 915h15v52h-15zM905 915h7v52h-7zM1068 915h8v52h-8zM1083 915h8v52h-8zM1173 915h7v52h-7zM1203 915h7v52h-7zM202 967h7v52h-7zM269 967h7v52h-7zM299 967h7v52h-7zM388 967h7v52h-7zM410 967h8v52h-8zM507 967h7v52h-7zM626 967h7v52h-7zM686 967h7v52h-7zM890 967h7v52h-7zM964 967h8v52h-8zM1054 967h7v52h-7zM1076 967h7v52h-7zM1143 967h7v52h-7zM1195 967h8v52h-8zM1217 967h8v52h-8zM1240 967h7v52h-7zM410 1019h8v52h-8zM432 1019h8v52h-8zM566 1019h8v52h-8zM641 1019h7v52h-7zM686 1019h7v52h-7zM771 1019h7v52h-7zM1061 1019h15v52h-15zM1232 1019h8v52h-8zM269 1071h15v52h-15zM291 1071h8v52h-8zM313 1071h8v52h-8zM432 1071h8v52h-8zM507 1071h7v52h-7zM522 1071h7v52h-7zM559 1071h7v52h-7zM700 1071h8v52h-8zM1083 1071h8v52h-8zM1188 1071h15v52h-15zM1262 1071h8v52h-8zM202 1123h7v51h-7zM217 1123h7v51h-7zM269 1123h7v51h-7zM410 1123h8v51h-8zM514 1123h8v51h-8zM633 1123h8v51h-8zM217 1174h7v52h-7zM232 1174h7v52h-7zM291 1174h8v52h-8zM507 1174h7v52h-7zM633 1174h8v52h-8zM671 1174h7v52h-7zM748 1174h8v52h-8zM1009 1174h7v52h-7zM1158 1174h7v52h-7zM1188 1174h7v52h-7zM1203 1174h7v52h-7zM1240 1174h7v52h-7zM1255 1174h15v52h-15z"/>
<path fill="#00003C" d="M373 188h7v52h-7zM410 188h8v52h-8zM462 188h8v52h-8zM537 188h7v52h-7zM552 188h7v52h-7zM574 188h7v52h-7zM604 188h7v52h-7zM633 188h8v52h-8zM785 188h8v52h-8zM823 188h7v52h-7zM882 188h8v52h-8zM1083 188h8v52h-8zM1180 188h8v52h-8zM239 240h7v52h-7zM380 240h8v52h-8zM425 240h7v52h-7zM529 240h8v52h-8zM927 240h7v52h-7zM1061 240h22v52h-22zM1128 240h7v52h-7zM284 292h7v52h-7zM306 292h7v52h-7zM470 292h7v52h-7zM492 292h7v52h-7zM686 292h14v52h-14zM875 292h7v52h-7zM979 292h8v52h-8zM1039 292h7v52h-7zM1255 292h7v52h-7zM284 344h7v52h-7zM343 344h8v52h-8zM537 344h7v52h-7zM686 344h14v52h-14zM830 344h8v52h-8zM979 344h8v52h-8zM1106 344h15v52h-15zM1188 344h7v52h-7zM284 396h7v52h-7zM395 396h8v52h-8zM552 396h7v52h-7zM756 396h15v52h-15zM785 396h15v52h-15zM830 396h8v52h-8zM1016 396h8v52h-8zM1076 396h7v52h-7zM1113 396h8v52h-8zM246 448h8v52h-8zM336 448h7v52h-7zM432 448h8v52h-8zM485 448h7v52h-7zM949 448h8v52h-8zM964 448h8v52h-8zM987 448h7v52h-7zM1270 448h7v52h-7zM217 500h7v52h-7zM336 500h7v52h-7zM358 500h8v52h-8zM499 500h15v52h-15zM537 500h15v52h-15zM559 500h7v52h-7zM589 500h22v52h-22zM633 500h8v52h-8zM897 500h8v52h-8zM927 500h7v52h-7zM949 500h8v52h-8zM994 500h7v52h-7zM1076 500h15v52h-15zM1158 500h7v52h-7zM284 552h7v52h-7zM306 552h7v52h-7zM351 552h7v52h-7zM537 552h7v52h-7zM604 552h7v52h-7zM733 552h8v52h-8zM763 552h8v52h-8zM897 552h8v52h-8zM934 552h8v52h-8zM1121 552h7v52h-7zM1180 552h15v52h-15zM209 604h8v52h-8zM239 604h7v52h-7zM403 604h7v52h-7zM440 604h7v52h-7zM455 604h7v52h-7zM559 604h7v52h-7zM693 604h7v52h-7zM733 604h15v52h-15zM867 604h23v52h-23zM942 604h7v52h-7zM987 604h7v52h-7zM1024 604h7v52h-7zM1054 604h7v52h-7zM1135 604h8v52h-8zM343 656h8v51h-8zM748 656h8v51h-8zM1217 656h8v51h-8zM343 707h15v52h-15zM447 707h8v52h-8zM574 707h7v52h-7zM838 707h7v52h-7zM927 707h7v52h-7zM1098 707h8v52h-8zM1247 707h8v52h-8zM522 759h7v52h-7zM537 759h15v52h-15zM574 759h7v52h-7zM890 759h7v52h-7zM972 759h7v52h-7zM1001 759h8v52h-8zM1158 759h7v52h-7zM552 811h7v52h-7zM671 811h15v52h-15zM890 811h7v52h-7zM1143 811h15v52h-15zM1165 811h8v52h-8zM1188 811h22v52h-22zM306 863h7v52h-7zM351 863h7v52h-7zM418 863h7v52h-7zM641 863h7v52h-7zM838 863h7v52h-7zM972 863h7v52h-7zM1113 863h15v52h-15zM559 915h22v52h-22zM626 915h7v52h-7zM678 915h8v52h-8zM718 915h8v52h-8zM778 915h7v52h-7zM845 915h7v52h-7zM860 915h7v52h-7zM890 915h7v52h-7zM1054 915h7v52h-7zM1135 915h8v52h-8zM239 967h7v52h-7zM276 967h8v52h-8zM552 967h7v52h-7zM619 967h7v52h-7zM972 967h15v52h-15zM1039 967h15v52h-15zM239 1019h7v52h-7zM284 1019h22v52h-22zM418 1019h7v52h-7zM700 1019h8v52h-8zM890 1019h7v52h-7zM905 1019h7v52h-7zM927 1019h7v52h-7zM1128 1019h7v52h-7zM209 1071h8v52h-8zM284 1071h7v52h-7zM343 1071h8v52h-8zM544 1071h8v52h-8zM633 1071h8v52h-8zM778 1071h7v52h-7zM1217 1071h8v52h-8zM522 1123h7v51h-7zM537 1123h22v51h-22zM678 1123h8v51h-8zM756 1123h7v51h-7zM771 1123h7v51h-7zM897 1123h8v51h-8zM927 1123h7v51h-7zM1165 1123h8v51h-8zM1195 1123h8v51h-8zM1240 1123h7v51h-7zM462 1174h8v52h-8zM552 1174h7v52h-7zM678 1174h8v52h-8zM756 1174h7v52h-7zM823 1174h7v52h-7z"/>
<path fill="#FFFF00" d="M455 188h7v52h-7zM477 188h8v52h-8zM492 188h7v52h-7zM733 188h30v52h-30zM800 188h8v52h-8zM890 188h7v52h-7zM934 188h8v52h-8zM957 188h7v52h-7zM994 188h7v52h-7zM1024 188h7v52h-7zM1106 188h7v52h-7zM1135 188h8v52h-8zM1173 188h7v52h-7zM1195 188h37v52h-37zM1247 188h8v52h-8zM1262 188h15v52h-15zM246 240h8v52h-8zM552 240h14v52h-14zM604 240h7v52h-7zM663 240h8v52h-8zM726 240h7v52h-7zM741 240h15v52h-15zM823 240h7v52h-7zM860 240h7v52h-7zM882 240h15v52h-15zM919 240h8v52h-8zM934 240h8v52h-8zM1016 240h15v52h-15zM1046 240h15v52h-15zM1143 240h7v52h-7zM1158 240h7v52h-7zM1180 240h8v52h-8zM1195 240h37v52h-37zM1240 240h15v52h-15zM1262 240h8v52h-8zM209 292h8v52h-8zM351 292h15v52h-15zM432 292h8v52h-8zM663 292h8v52h-8zM726 292h7v52h-7zM748 292h8v52h-8zM778 292h7v52h-7zM800 292h8v52h-8zM823 292h7v52h-7zM838 292h7v52h-7zM852 292h15v52h-15zM942 292h7v52h-7zM987 292h14v52h-14zM1024 292h7v52h-7zM1054 292h7v52h-7zM1143 292h7v52h-7zM1165 292h8v52h-8zM1210 292h7v52h-7zM1225 292h7v52h-7zM1240 292h15v52h-15zM1262 292h8v52h-8zM351 344h15v52h-15zM432 344h8v52h-8zM663 344h8v52h-8zM726 344h30v52h-30zM778 344h7v52h-7zM800 344h8v52h-8zM823 344h7v52h-7zM838 344h7v52h-7zM852 344h23v52h-23zM934 344h15v52h-15zM987 344h14v52h-14zM1024 344h7v52h-7zM1143 344h7v52h-7zM1165 344h8v52h-8zM1203 344h29v52h-29zM1240 344h15v52h-15zM1262 344h8v52h-8zM209 396h8v52h-8zM358 396h8v52h-8zM477 396h8v52h-8zM726 396h15v52h-15zM748 396h8v52h-8zM800 396h8v52h-8zM823 396h7v52h-7zM838 396h7v52h-7zM860 396h15v52h-15zM934 396h23v52h-23zM994 396h7v52h-7zM1024 396h7v52h-7zM1098 396h8v52h-8zM1143 396h7v52h-7zM1165 396h8v52h-8zM1210 396h22v52h-22zM1247 396h8v52h-8zM1262 396h8v52h-8zM209 448h8v52h-8zM358 448h8v52h-8zM403 448h7v52h-7zM470 448h15v52h-15zM726 448h15v52h-15zM748 448h8v52h-8zM800 448h8v52h-8zM823 448h7v52h-7zM838 448h7v52h-7zM860 448h15v52h-15zM934 448h15v52h-15zM972 448h7v52h-7zM994 448h7v52h-7zM1024 448h7v52h-7zM1054 448h7v52h-7zM1091 448h15v52h-15zM1121 448h7v52h-7zM1173 448h7v52h-7zM1195 448h8v52h-8zM1210 448h22v52h-22zM1262 448h8v52h-8zM440 500h7v52h-7zM552 500h7v52h-7zM733 500h8v52h-8zM756 500h15v52h-15zM778 500h7v52h-7zM793 500h7v52h-7zM860 500h7v52h-7zM882 500h15v52h-15zM919 500h8v52h-8zM1016 500h8v52h-8zM1054 500h7v52h-7zM1143 500h15v52h-15zM1173 500h15v52h-15zM1195 500h22v52h-22zM1240 500h7v52h-7zM1262 500h8v52h-8zM358 552h8v52h-8zM373 552h7v52h-7zM432 552h8v52h-8zM552 552h7v52h-7zM656 552h7v52h-7zM778 552h15v52h-15zM808 552h22v52h-22zM860 552h7v52h-7zM919 552h8v52h-8zM942 552h7v52h-7zM987 552h7v52h-7zM1091 552h7v52h-7zM1203 552h14v52h-14zM1225 552h45v52h-45zM194 604h8v52h-8zM224 604h8v52h-8zM246 604h8v52h-8zM276 604h8v52h-8zM313 604h8v52h-8zM328 604h15v52h-15zM425 604h7v52h-7zM447 604h8v52h-8zM462 604h8v52h-8zM492 604h30v52h-30zM544 604h8v52h-8zM574 604h22v52h-22zM611 604h8v52h-8zM890 604h7v52h-7zM905 604h7v52h-7zM919 604h8v52h-8zM1009 604h7v52h-7zM202 656h7v51h-7zM232 656h7v51h-7zM246 656h8v51h-8zM291 656h15v51h-15zM313 656h8v51h-8zM328 656h8v51h-8zM373 656h7v51h-7zM388 656h15v51h-15zM440 656h7v51h-7zM499 656h8v51h-8zM529 656h8v51h-8zM581 656h15v51h-15zM611 656h8v51h-8zM626 656h7v51h-7zM648 656h8v51h-8zM686 656h14v51h-14zM964 656h8v51h-8zM1031 656h8v51h-8zM1061 656h7v51h-7zM1158 656h7v51h-7zM1195 656h8v51h-8zM202 707h7v52h-7zM232 707h7v52h-7zM246 707h8v52h-8zM269 707h7v52h-7zM291 707h8v52h-8zM313 707h8v52h-8zM328 707h8v52h-8zM366 707h14v52h-14zM388 707h15v52h-15zM470 707h7v52h-7zM499 707h8v52h-8zM529 707h15v52h-15zM581 707h15v52h-15zM611 707h8v52h-8zM626 707h7v52h-7zM648 707h15v52h-15zM686 707h14v52h-14zM823 707h7v52h-7zM964 707h8v52h-8zM1016 707h8v52h-8zM1031 707h8v52h-8zM1076 707h7v52h-7zM1158 707h7v52h-7zM1195 707h8v52h-8zM194 759h8v52h-8zM239 759h22v52h-22zM291 759h15v52h-15zM380 759h15v52h-15zM418 759h14v52h-14zM440 759h15v52h-15zM499 759h8v52h-8zM559 759h7v52h-7zM589 759h30v52h-30zM626 759h7v52h-7zM641 759h15v52h-15zM693 759h7v52h-7zM964 759h8v52h-8zM1061 759h7v52h-7zM194 811h8v52h-8zM232 811h7v52h-7zM246 811h15v52h-15zM313 811h23v52h-23zM380 811h15v52h-15zM425 811h7v52h-7zM440 811h15v52h-15zM499 811h8v52h-8zM529 811h8v52h-8zM581 811h38v52h-38zM648 811h8v52h-8zM1031 811h8v52h-8zM1054 811h7v52h-7zM194 863h8v52h-8zM224 863h15v52h-15zM246 863h8v52h-8zM276 863h8v52h-8zM313 863h23v52h-23zM380 863h8v52h-8zM425 863h7v52h-7zM440 863h15v52h-15zM499 863h23v52h-23zM544 863h8v52h-8zM559 863h15v52h-15zM581 863h15v52h-15zM611 863h8v52h-8zM693 863h7v52h-7zM771 863h7v52h-7zM905 863h7v52h-7zM927 863h7v52h-7zM1255 863h7v52h-7zM217 915h7v52h-7zM313 915h23v52h-23zM366 915h7v52h-7zM380 915h8v52h-8zM410 915h8v52h-8zM425 915h7v52h-7zM440 915h7v52h-7zM485 915h7v52h-7zM499 915h38v52h-38zM552 915h7v52h-7zM581 915h23v52h-23zM611 915h8v52h-8zM771 915h7v52h-7zM1016 915h8v52h-8zM1031 915h8v52h-8zM246 967h23v52h-23zM313 967h23v52h-23zM366 967h22v52h-22zM418 967h14v52h-14zM440 967h7v52h-7zM499 967h8v52h-8zM581 967h15v52h-15zM604 967h15v52h-15zM648 967h8v52h-8zM882 967h8v52h-8zM1031 967h8v52h-8zM1158 967h7v52h-7zM1180 967h8v52h-8zM1203 967h7v52h-7zM246 1019h15v52h-15zM313 1019h23v52h-23zM366 1019h7v52h-7zM380 1019h8v52h-8zM425 1019h7v52h-7zM440 1019h7v52h-7zM499 1019h8v52h-8zM581 1019h38v52h-38zM648 1019h8v52h-8zM882 1019h8v52h-8zM1016 1019h8v52h-8zM1031 1019h8v52h-8zM1158 1019h7v52h-7zM1180 1019h8v52h-8zM246 1071h8v52h-8zM321 1071h15v52h-15zM366 1071h29v52h-29zM425 1071h7v52h-7zM440 1071h7v52h-7zM485 1071h7v52h-7zM499 1071h8v52h-8zM581 1071h38v52h-38zM648 1071h8v52h-8zM693 1071h7v52h-7zM882 1071h8v52h-8zM1031 1071h8v52h-8zM1076 1071h7v52h-7zM1180 1071h8v52h-8zM232 1123h7v51h-7zM246 1123h23v51h-23zM328 1123h8v51h-8zM366 1123h29v51h-29zM425 1123h7v51h-7zM440 1123h15v51h-15zM499 1123h8v51h-8zM566 1123h8v51h-8zM581 1123h15v51h-15zM611 1123h8v51h-8zM648 1123h8v51h-8zM693 1123h7v51h-7zM882 1123h8v51h-8zM1031 1123h8v51h-8zM1054 1123h7v51h-7zM1076 1123h15v51h-15zM246 1174h8v52h-8zM313 1174h23v52h-23zM366 1174h29v52h-29zM425 1174h7v52h-7zM440 1174h7v52h-7zM499 1174h8v52h-8zM529 1174h8v52h-8zM581 1174h15v52h-15zM611 1174h8v52h-8zM626 1174h7v52h-7zM648 1174h8v52h-8zM882 1174h8v52h-8zM1016 1174h8v52h-8zM1031 1174h8v52h-8zM1054 1174h7v52h-7zM1076 1174h7v52h-7z"/></g>
<text x="1294.2" y="220.9" class="row">HALLMARK_DNA_REPAIR</text>
<text x="1294.2" y="272.9" class="row">HALLMARK_MTORC1_SIGNALING</text>
<text x="1294.2" y="324.8" class="row">HALLMARK_G2M_CHECKPOINT</text>
<text x="1294.2" y="376.7" class="row">HALLMARK_E2F_TARGETS</text>
<text x="1294.2" y="428.6" class="row">HALLMARK_MYC_TARGETS_V1</text>
<text x="1294.2" y="480.5" class="row">HALLMARK_MYC_TARGETS_V2</text>
<text x="1294.2" y="532.4" class="row">HALLMARK_GLYCOLYSIS</text>
<text x="1294.2" y="584.2" class="row">HALLMARK_MITOTIC_SPINDLE</text>
<text x="1294.2" y="636.1" class="row">HALLMARK_BILE_ACID_METABOLISM</text>
<text x="1294.2" y="688.1" class="row">HALLMARK_INTERFERON_GAMMA_RESPONSE</text>
<text x="1294.2" y="739.9" class="row">HALLMARK_INTERFERON_ALPHA_RESPONSE</text>
<text x="1294.2" y="791.9" class="row">HALLMARK_ALLOGRAFT_REJECTION</text>
<text x="1294.2" y="843.8" class="row">HALLMARK_COMPLEMENT</text>
<text x="1294.2" y="895.6" class="row">HALLMARK_HEME_METABOLISM</text>
<text x="1294.2" y="947.5" class="row">HALLMARK_COAGULATION</text>
<text x="1294.2" y="999.4" class="row">HALLMARK_APOPTOSIS</text>
<text x="1294.2" y="1051.3" class="row">HALLMARK_KRAS_SIGNALING_UP</text>
<text x="1294.2" y="1103.2" class="row">HALLMARK_IL2_STAT5_SIGNALING</text>
<text x="1294.2" y="1155.1" class="row">HALLMARK_IL6_JAK_STAT3_SIGNALING</text>
<text x="1294.2" y="1207" class="row">HALLMARK_INFLAMMATORY_RESPONSE</text>
<path d="M194.3 318.1H177.1V370.1H194.3M194.3 421.9H161.4V473.9H194.3M177.1 344.1H146.1V447.9H161.4M194.3 266.2H134.8V396H146.1M194.3 214.3H117.8V331.1H134.8M194.3 525.8H113.8V577.6H194.3M117.8 272.7H102.1V551.7H113.8M194.3 681.5H170.9V733.3H194.3M194.3 785.2H157.8V837.1H194.3M170.9 707.4H136.1V811.2H157.8M194.3 1148.5H169.7V1200.5H194.3M194.3 1096.7H164.7V1174.5H169.7M194.3 1044.8H153.5V1135.6H164.7M194.3 992.8H150.3V1090.2H153.5M194.3 940.9H134.2V1041.5H150.3M194.3 889H125V991.2H134.2M136.1 759.3H110.1V940.1H125M194.3 629.5H97.6V849.7H110.1M102.1 412.2H56.6V739.6H97.6" fill="none" stroke="#000" stroke-width="2.8" stroke-linejoin="miter" stroke-linecap="butt"/>
<g shape-rendering="crispEdges"><rect x="1733" y="505" width="26" height="8" fill="#0000FF"/><rect x="1733" y="497" width="26" height="8" fill="#0000FF"/><rect x="1733" y="489" width="26" height="8" fill="#0000FF"/><rect x="1733" y="482" width="26" height="7" fill="#0000FF"/><rect x="1733" y="474" width="26" height="8" fill="#0000FF"/><rect x="1733" y="466" width="26" height="8" fill="#0000FF"/><rect x="1733" y="458" width="26" height="8" fill="#0000FF"/><rect x="1733" y="450" width="26" height="8" fill="#0000FF"/><rect x="1733" y="442" width="26" height="8" fill="#0000FF"/><rect x="1733" y="434" width="26" height="8" fill="#0000FF"/><rect x="1733" y="426" width="26" height="8" fill="#0000FF"/><rect x="1733" y="419" width="26" height="7" fill="#0000FF"/><rect x="1733" y="411" width="26" height="8" fill="#0000FF"/><rect x="1733" y="403" width="26" height="8" fill="#0000EF"/><rect x="1733" y="395" width="26" height="8" fill="#0000DB"/><rect x="1733" y="387" width="26" height="8" fill="#0000C6"/><rect x="1733" y="379" width="26" height="8" fill="#0000B1"/><rect x="1733" y="371" width="26" height="8" fill="#00009C"/><rect x="1733" y="364" width="26" height="7" fill="#000087"/><rect x="1733" y="356" width="26" height="8" fill="#000072"/><rect x="1733" y="348" width="26" height="8" fill="#00005E"/><rect x="1733" y="340" width="26" height="8" fill="#000049"/><rect x="1733" y="332" width="26" height="8" fill="#000034"/><rect x="1733" y="324" width="26" height="8" fill="#00001F"/><rect x="1733" y="316" width="26" height="8" fill="#00000A"/><rect x="1733" y="309" width="26" height="7" fill="#0A0A00"/><rect x="1733" y="301" width="26" height="8" fill="#1F1F00"/><rect x="1733" y="293" width="26" height="8" fill="#343400"/><rect x="1733" y="285" width="26" height="8" fill="#494900"/><rect x="1733" y="277" width="26" height="8" fill="#5E5E00"/><rect x="1733" y="269" width="26" height="8" fill="#727200"/><rect x="1733" y="261" width="26" height="8" fill="#878700"/><rect x="1733" y="253" width="26" height="8" fill="#9C9C00"/><rect x="1733" y="246" width="26" height="7" fill="#B1B100"/><rect x="1733" y="238" width="26" height="8" fill="#C6C600"/><rect x="1733" y="230" width="26" height="8" fill="#DBDB00"/><rect x="1733" y="222" width="26" height="8" fill="#EFEF00"/><rect x="1733" y="214" width="26" height="8" fill="#FFFF00"/><rect x="1733" y="206" width="26" height="8" fill="#FFFF00"/><rect x="1733" y="198" width="26" height="8" fill="#FFFF00"/><rect x="1733" y="191" width="26" height="7" fill="#FFFF00"/><rect x="1733" y="183" width="26" height="8" fill="#FFFF00"/><rect x="1733" y="175" width="26" height="8" fill="#FFFF00"/><rect x="1733" y="167" width="26" height="8" fill="#FFFF00"/><rect x="1733" y="159" width="26" height="8" fill="#FFFF00"/><rect x="1733" y="151" width="26" height="8" fill="#FFFF00"/><rect x="1733" y="143" width="26" height="8" fill="#FFFF00"/><rect x="1733" y="136" width="26" height="7" fill="#FFFF00"/><rect x="1733" y="128" width="26" height="8" fill="#FFFF00"/><rect x="1733" y="120" width="26" height="8" fill="#FFFF00"/></g>
<text x="1770.3" y="157.5" class="tick">2</text>
<text x="1770.3" y="241.4" class="tick">1</text>
<text x="1770.3" y="325.3" class="tick">0</text>
<text x="1770.3" y="409.2" class="tick">−1</text>
<text x="1770.3" y="493.1" class="tick">−2</text>
<text x="1808.6" y="138.6" class="ann">cluster</text>
<rect x="1808.6" y="148.5" width="37.5" height="37.5" fill="#0066FF"/>
<rect x="1808.6" y="186" width="37.5" height="37.5" fill="#FF9900"/>
<text x="1854.3" y="176.6" class="leg">A</text>
<text x="1854.3" y="214" class="leg">B</text>
<text x="1808.6" y="269.6" class="ann">Project</text>
<rect x="1808.6" y="280.5" width="37.5" height="37.2" fill="#00D65C"/>
<text x="1854.3" y="307.4" class="leg">Sepsis</text>
<text x="22.6" y="1339.4" class="let">B</text>
<text x="558.5" y="1386" class="big">KEGG</text>
<rect x="194.3" y="1406" width="435.8" height="26.3" fill="#0066FF"/>
<rect x="194.3" y="1437.5" width="435.8" height="26.1" fill="#00D65C"/>
<rect x="640.8" y="1406" width="473.9" height="26.3" fill="#FF9900"/>
<rect x="640.8" y="1437.5" width="473.9" height="26.1" fill="#00D65C"/>
<text x="1132.7" y="1428.4" class="ann">cluster</text>
<text x="1132.7" y="1459.4" class="ann">Project</text>
<g shape-rendering="crispEdges"><path fill="#FFFF00" d="M194 1472h7v52h-7zM220 1472h6v52h-6zM232 1472h19v52h-19zM264 1472h6v52h-6zM276 1472h13v52h-13zM302 1472h6v52h-6zM327 1472h6v52h-6zM340 1472h6v52h-6zM352 1472h13v52h-13zM377 1472h7v52h-7zM390 1472h6v52h-6zM403 1472h6v52h-6zM453 1472h7v52h-7zM466 1472h6v52h-6zM491 1472h6v52h-6zM504 1472h12v52h-12zM523 1472h12v52h-12zM548 1472h6v52h-6zM573 1472h13v52h-13zM599 1472h6v52h-6zM887 1472h7v52h-7zM925 1472h6v52h-6zM194 1524h13v51h-13zM220 1524h6v51h-6zM232 1524h19v51h-19zM264 1524h6v51h-6zM276 1524h13v51h-13zM302 1524h6v51h-6zM321 1524h12v51h-12zM352 1524h13v51h-13zM377 1524h7v51h-7zM390 1524h6v51h-6zM403 1524h12v51h-12zM453 1524h7v51h-7zM466 1524h6v51h-6zM491 1524h6v51h-6zM504 1524h6v51h-6zM523 1524h12v51h-12zM548 1524h6v51h-6zM561 1524h6v51h-6zM573 1524h19v51h-19zM849 1524h7v51h-7zM931 1524h7v51h-7zM194 1575h7v52h-7zM220 1575h31v52h-31zM264 1575h6v52h-6zM276 1575h13v52h-13zM302 1575h6v52h-6zM321 1575h12v52h-12zM352 1575h13v52h-13zM377 1575h7v52h-7zM390 1575h6v52h-6zM403 1575h12v52h-12zM453 1575h7v52h-7zM466 1575h6v52h-6zM504 1575h6v52h-6zM523 1575h12v52h-12zM548 1575h6v52h-6zM573 1575h19v52h-19zM617 1575h7v52h-7zM849 1575h7v52h-7zM931 1575h7v52h-7zM1096 1575h6v52h-6zM194 1627h7v52h-7zM220 1627h6v52h-6zM232 1627h25v52h-25zM276 1627h13v52h-13zM308 1627h6v52h-6zM321 1627h12v52h-12zM352 1627h19v52h-19zM390 1627h6v52h-6zM403 1627h12v52h-12zM453 1627h7v52h-7zM466 1627h6v52h-6zM510 1627h6v52h-6zM523 1627h31v52h-31zM573 1627h13v52h-13zM605 1627h6v52h-6zM849 1627h7v52h-7zM931 1627h7v52h-7zM194 1679h13v52h-13zM220 1679h6v52h-6zM232 1679h7v52h-7zM245 1679h6v52h-6zM264 1679h6v52h-6zM276 1679h13v52h-13zM321 1679h12v52h-12zM359 1679h12v52h-12zM377 1679h13v52h-13zM403 1679h12v52h-12zM422 1679h6v52h-6zM466 1679h6v52h-6zM485 1679h6v52h-6zM504 1679h12v52h-12zM523 1679h12v52h-12zM548 1679h6v52h-6zM561 1679h6v52h-6zM573 1679h13v52h-13zM611 1679h13v52h-13zM837 1679h6v52h-6zM849 1679h7v52h-7zM931 1679h7v52h-7zM194 1731h7v52h-7zM226 1731h31v52h-31zM276 1731h13v52h-13zM308 1731h6v52h-6zM352 1731h13v52h-13zM390 1731h6v52h-6zM403 1731h12v52h-12zM422 1731h6v52h-6zM453 1731h7v52h-7zM479 1731h6v52h-6zM510 1731h6v52h-6zM523 1731h38v52h-38zM573 1731h19v52h-19zM617 1731h7v52h-7zM805 1731h6v52h-6zM849 1731h7v52h-7zM906 1731h7v52h-7zM931 1731h7v52h-7zM194 1783h13v52h-13zM226 1783h31v52h-31zM276 1783h13v52h-13zM308 1783h6v52h-6zM321 1783h12v52h-12zM352 1783h19v52h-19zM390 1783h6v52h-6zM403 1783h12v52h-12zM428 1783h6v52h-6zM453 1783h7v52h-7zM466 1783h6v52h-6zM479 1783h6v52h-6zM510 1783h6v52h-6zM529 1783h6v52h-6zM542 1783h12v52h-12zM580 1783h12v52h-12zM617 1783h7v52h-7zM805 1783h6v52h-6zM849 1783h7v52h-7zM931 1783h7v52h-7zM988 1783h7v52h-7zM226 1835h31v52h-31zM276 1835h13v52h-13zM352 1835h19v52h-19zM384 1835h12v52h-12zM403 1835h12v52h-12zM428 1835h6v52h-6zM453 1835h7v52h-7zM510 1835h6v52h-6zM535 1835h26v52h-26zM573 1835h13v52h-13zM611 1835h13v52h-13zM805 1835h6v52h-6zM849 1835h7v52h-7zM931 1835h7v52h-7zM1039 1835h6v52h-6zM226 1887h31v52h-31zM276 1887h13v52h-13zM352 1887h19v52h-19zM390 1887h6v52h-6zM403 1887h12v52h-12zM422 1887h12v52h-12zM453 1887h7v52h-7zM510 1887h6v52h-6zM529 1887h25v52h-25zM573 1887h19v52h-19zM805 1887h6v52h-6zM849 1887h7v52h-7zM931 1887h7v52h-7zM988 1887h7v52h-7zM1039 1887h6v52h-6zM194 1939h7v52h-7zM226 1939h31v52h-31zM276 1939h13v52h-13zM308 1939h6v52h-6zM352 1939h19v52h-19zM390 1939h6v52h-6zM403 1939h12v52h-12zM428 1939h6v52h-6zM453 1939h7v52h-7zM479 1939h6v52h-6zM510 1939h6v52h-6zM523 1939h31v52h-31zM561 1939h6v52h-6zM573 1939h13v52h-13zM805 1939h6v52h-6zM931 1939h7v52h-7zM194 1991h7v51h-7zM220 1991h6v51h-6zM239 1991h6v51h-6zM251 1991h6v51h-6zM302 1991h12v51h-12zM340 1991h6v51h-6zM352 1991h13v51h-13zM390 1991h6v51h-6zM403 1991h12v51h-12zM453 1991h19v51h-19zM510 1991h6v51h-6zM523 1991h19v51h-19zM548 1991h6v51h-6zM561 1991h6v51h-6zM573 1991h13v51h-13zM605 1991h6v51h-6zM617 1991h7v51h-7zM887 1991h7v51h-7zM931 1991h7v51h-7zM1033 1991h6v51h-6zM194 2042h7v52h-7zM220 2042h6v52h-6zM232 2042h32v52h-32zM276 2042h13v52h-13zM302 2042h6v52h-6zM346 2042h19v52h-19zM390 2042h6v52h-6zM403 2042h6v52h-6zM453 2042h7v52h-7zM529 2042h25v52h-25zM573 2042h13v52h-13zM617 2042h7v52h-7zM950 2042h7v52h-7zM988 2042h7v52h-7zM194 2094h7v52h-7zM213 2094h38v52h-38zM264 2094h6v52h-6zM283 2094h6v52h-6zM302 2094h12v52h-12zM352 2094h13v52h-13zM384 2094h12v52h-12zM403 2094h12v52h-12zM453 2094h7v52h-7zM466 2094h6v52h-6zM523 2094h31v52h-31zM580 2094h6v52h-6zM605 2094h6v52h-6zM194 2146h7v52h-7zM226 2146h6v52h-6zM239 2146h18v52h-18zM283 2146h6v52h-6zM302 2146h12v52h-12zM340 2146h19v52h-19zM384 2146h12v52h-12zM403 2146h6v52h-6zM453 2146h7v52h-7zM479 2146h6v52h-6zM510 2146h6v52h-6zM523 2146h44v52h-44zM580 2146h6v52h-6zM617 2146h7v52h-7zM780 2146h6v52h-6zM906 2146h7v52h-7zM925 2146h6v52h-6zM194 2198h7v52h-7zM220 2198h6v52h-6zM232 2198h25v52h-25zM276 2198h13v52h-13zM308 2198h6v52h-6zM340 2198h6v52h-6zM352 2198h13v52h-13zM390 2198h6v52h-6zM403 2198h12v52h-12zM453 2198h7v52h-7zM510 2198h6v52h-6zM523 2198h19v52h-19zM548 2198h6v52h-6zM561 2198h6v52h-6zM573 2198h13v52h-13zM617 2198h7v52h-7zM906 2198h7v52h-7zM931 2198h7v52h-7zM944 2198h6v52h-6zM220 2250h37v52h-37zM276 2250h13v52h-13zM302 2250h6v52h-6zM352 2250h13v52h-13zM384 2250h12v52h-12zM403 2250h12v52h-12zM422 2250h6v52h-6zM453 2250h7v52h-7zM466 2250h6v52h-6zM504 2250h12v52h-12zM529 2250h6v52h-6zM542 2250h12v52h-12zM580 2250h12v52h-12zM617 2250h7v52h-7zM849 2250h7v52h-7zM931 2250h7v52h-7zM194 2302h7v52h-7zM220 2302h31v52h-31zM276 2302h13v52h-13zM302 2302h12v52h-12zM352 2302h13v52h-13zM377 2302h7v52h-7zM390 2302h6v52h-6zM403 2302h6v52h-6zM453 2302h7v52h-7zM466 2302h6v52h-6zM491 2302h6v52h-6zM504 2302h6v52h-6zM523 2302h12v52h-12zM542 2302h12v52h-12zM573 2302h13v52h-13zM617 2302h7v52h-7zM849 2302h7v52h-7zM906 2302h7v52h-7zM194 2354h7v52h-7zM220 2354h6v52h-6zM245 2354h6v52h-6zM264 2354h6v52h-6zM276 2354h13v52h-13zM295 2354h19v52h-19zM321 2354h12v52h-12zM352 2354h13v52h-13zM377 2354h7v52h-7zM390 2354h6v52h-6zM403 2354h12v52h-12zM453 2354h7v52h-7zM466 2354h19v52h-19zM504 2354h6v52h-6zM529 2354h25v52h-25zM561 2354h6v52h-6zM573 2354h19v52h-19zM617 2354h7v52h-7zM1096 2354h6v52h-6zM194 2406h13v52h-13zM220 2406h19v52h-19zM245 2406h6v52h-6zM264 2406h6v52h-6zM276 2406h13v52h-13zM295 2406h19v52h-19zM340 2406h25v52h-25zM377 2406h7v52h-7zM390 2406h6v52h-6zM403 2406h6v52h-6zM453 2406h7v52h-7zM466 2406h6v52h-6zM491 2406h6v52h-6zM523 2406h19v52h-19zM548 2406h6v52h-6zM580 2406h6v52h-6zM617 2406h7v52h-7zM887 2406h7v52h-7zM194 2458h7v52h-7zM226 2458h6v52h-6zM239 2458h18v52h-18zM295 2458h19v52h-19zM352 2458h7v52h-7zM377 2458h7v52h-7zM390 2458h6v52h-6zM403 2458h12v52h-12zM422 2458h6v52h-6zM453 2458h7v52h-7zM466 2458h19v52h-19zM491 2458h6v52h-6zM523 2458h19v52h-19zM548 2458h13v52h-13zM894 2458h6v52h-6zM906 2458h7v52h-7z"/>
<path fill="#080804" d="M201 1472h6v52h-6zM257 1472h7v52h-7zM346 1472h6v52h-6zM365 1472h6v52h-6zM384 1472h6v52h-6zM396 1472h7v52h-7zM535 1472h7v52h-7zM773 1472h7v52h-7zM792 1472h7v52h-7zM818 1472h6v52h-6zM919 1472h6v52h-6zM938 1472h6v52h-6zM1102 1472h13v52h-13zM257 1524h7v51h-7zM371 1524h6v51h-6zM415 1524h7v51h-7zM428 1524h6v51h-6zM485 1524h6v51h-6zM535 1524h7v51h-7zM599 1524h6v51h-6zM938 1524h12v51h-12zM207 1575h6v52h-6zM479 1575h12v52h-12zM605 1575h6v52h-6zM773 1575h7v52h-7zM805 1575h6v52h-6zM919 1575h6v52h-6zM988 1575h7v52h-7zM1039 1575h6v52h-6zM1083 1575h6v52h-6zM1102 1575h13v52h-13zM270 1627h6v52h-6zM340 1627h6v52h-6zM396 1627h7v52h-7zM567 1627h6v52h-6zM786 1627h6v52h-6zM950 1627h7v52h-7zM963 1627h6v52h-6zM1014 1627h6v52h-6zM1039 1627h6v52h-6zM1064 1627h6v52h-6zM1083 1627h6v52h-6zM302 1679h6v52h-6zM396 1679h7v52h-7zM447 1679h6v52h-6zM672 1679h7v52h-7zM818 1679h6v52h-6zM856 1679h6v52h-6zM913 1679h6v52h-6zM950 1679h7v52h-7zM1064 1679h6v52h-6zM201 1731h6v52h-6zM624 1731h6v52h-6zM786 1731h6v52h-6zM894 1731h12v52h-12zM938 1731h6v52h-6zM988 1731h7v52h-7zM1026 1731h13v52h-13zM302 1783h6v52h-6zM340 1783h6v52h-6zM396 1783h7v52h-7zM472 1783h7v52h-7zM605 1783h12v52h-12zM653 1783h7v52h-7zM773 1783h7v52h-7zM900 1783h6v52h-6zM950 1783h7v52h-7zM1020 1783h6v52h-6zM1033 1783h6v52h-6zM264 1835h6v52h-6zM377 1835h7v52h-7zM460 1835h6v52h-6zM516 1835h7v52h-7zM780 1835h6v52h-6zM792 1835h7v52h-7zM1014 1835h6v52h-6zM1064 1835h6v52h-6zM1102 1835h6v52h-6zM302 1887h6v52h-6zM441 1887h6v52h-6zM472 1887h7v52h-7zM653 1887h7v52h-7zM780 1887h6v52h-6zM1033 1887h6v52h-6zM1052 1887h6v52h-6zM264 1939h6v52h-6zM447 1939h6v52h-6zM504 1939h6v52h-6zM672 1939h7v52h-7zM786 1939h6v52h-6zM913 1939h6v52h-6zM963 1939h6v52h-6zM1102 1939h13v52h-13zM270 1991h6v51h-6zM327 1991h6v51h-6zM396 1991h7v51h-7zM428 1991h13v51h-13zM780 1991h6v51h-6zM849 1991h7v51h-7zM913 1991h6v51h-6zM314 2042h7v52h-7zM396 2042h7v52h-7zM415 2042h7v52h-7zM434 2042h13v52h-13zM691 2042h7v52h-7zM786 2042h6v52h-6zM811 2042h7v52h-7zM837 2042h6v52h-6zM938 2042h6v52h-6zM1052 2042h6v52h-6zM434 2094h7v52h-7zM460 2094h6v52h-6zM611 2094h6v52h-6zM818 2094h6v52h-6zM1083 2094h6v52h-6zM327 2146h6v52h-6zM422 2146h6v52h-6zM491 2146h6v52h-6zM786 2146h6v52h-6zM1014 2146h6v52h-6zM1045 2146h13v52h-13zM1064 2146h6v52h-6zM1083 2146h6v52h-6zM213 2198h7v52h-7zM270 2198h6v52h-6zM491 2198h6v52h-6zM672 2198h7v52h-7zM691 2198h7v52h-7zM818 2198h6v52h-6zM1039 2198h6v52h-6zM1102 2198h6v52h-6zM257 2250h7v52h-7zM346 2250h6v52h-6zM592 2250h7v52h-7zM773 2250h7v52h-7zM925 2250h6v52h-6zM944 2250h6v52h-6zM988 2250h7v52h-7zM1014 2250h6v52h-6zM257 2302h7v52h-7zM270 2302h6v52h-6zM365 2302h6v52h-6zM428 2302h6v52h-6zM818 2302h6v52h-6zM837 2302h6v52h-6zM900 2302h6v52h-6zM950 2302h7v52h-7zM1033 2302h6v52h-6zM1045 2302h7v52h-7zM1083 2302h6v52h-6zM201 2354h12v52h-12zM226 2354h6v52h-6zM523 2354h6v52h-6zM641 2354h6v52h-6zM805 2354h6v52h-6zM894 2354h6v52h-6zM913 2354h6v52h-6zM213 2406h7v52h-7zM257 2406h7v52h-7zM270 2406h6v52h-6zM497 2406h7v52h-7zM586 2406h6v52h-6zM624 2406h6v52h-6zM691 2406h7v52h-7zM1033 2406h6v52h-6zM396 2458h7v52h-7zM573 2458h7v52h-7zM900 2458h6v52h-6zM950 2458h7v52h-7zM1020 2458h6v52h-6zM1052 2458h6v52h-6z"/>
<path fill="#00007D" d="M207 1472h6v52h-6zM415 1472h7v52h-7zM479 1472h6v52h-6zM672 1472h7v52h-7zM729 1472h7v52h-7zM761 1472h6v52h-6zM786 1472h6v52h-6zM799 1472h19v52h-19zM913 1472h6v52h-6zM1033 1472h6v52h-6zM1064 1472h6v52h-6zM1077 1472h6v52h-6zM460 1524h6v51h-6zM479 1524h6v51h-6zM666 1524h6v51h-6zM729 1524h7v51h-7zM755 1524h6v51h-6zM780 1524h12v51h-12zM988 1524h7v51h-7zM1033 1524h6v51h-6zM1064 1524h6v51h-6zM1083 1524h6v51h-6zM333 1575h7v52h-7zM415 1575h7v52h-7zM441 1575h6v52h-6zM460 1575h6v52h-6zM567 1575h6v52h-6zM691 1575h7v52h-7zM786 1575h6v52h-6zM799 1575h6v52h-6zM868 1575h13v52h-13zM963 1575h6v52h-6zM1033 1575h6v52h-6zM1064 1575h6v52h-6zM1077 1575h6v52h-6zM472 1627h7v52h-7zM736 1627h6v52h-6zM856 1627h6v52h-6zM894 1627h6v52h-6zM913 1627h12v52h-12zM1045 1627h13v52h-13zM270 1679h6v52h-6zM289 1679h6v52h-6zM314 1679h7v52h-7zM460 1679h6v52h-6zM567 1679h6v52h-6zM691 1679h7v52h-7zM786 1679h6v52h-6zM919 1679h6v52h-6zM938 1679h6v52h-6zM963 1679h13v52h-13zM1020 1679h6v52h-6zM1083 1679h6v52h-6zM270 1731h6v52h-6zM314 1731h7v52h-7zM415 1731h7v52h-7zM447 1731h6v52h-6zM516 1731h7v52h-7zM641 1731h6v52h-6zM653 1731h13v52h-13zM717 1731h6v52h-6zM729 1731h19v52h-19zM837 1731h6v52h-6zM913 1731h6v52h-6zM925 1731h6v52h-6zM1001 1731h6v52h-6zM1014 1731h6v52h-6zM1045 1731h7v52h-7zM270 1783h6v52h-6zM289 1783h6v52h-6zM314 1783h7v52h-7zM415 1783h7v52h-7zM447 1783h6v52h-6zM599 1783h6v52h-6zM691 1783h7v52h-7zM894 1783h6v52h-6zM963 1783h6v52h-6zM1007 1783h7v52h-7zM1039 1783h19v52h-19zM314 1835h7v52h-7zM340 1835h6v52h-6zM441 1835h6v52h-6zM472 1835h7v52h-7zM894 1835h6v52h-6zM963 1835h6v52h-6zM1020 1835h6v52h-6zM289 1887h6v52h-6zM415 1887h7v52h-7zM660 1887h6v52h-6zM672 1887h7v52h-7zM736 1887h6v52h-6zM811 1887h7v52h-7zM894 1887h6v52h-6zM938 1887h6v52h-6zM1102 1887h13v52h-13zM289 1939h6v52h-6zM415 1939h7v52h-7zM660 1939h6v52h-6zM691 1939h7v52h-7zM767 1939h6v52h-6zM818 1939h6v52h-6zM881 1939h6v52h-6zM1020 1939h6v52h-6zM1045 1939h7v52h-7zM384 1991h6v51h-6zM672 1991h7v51h-7zM736 1991h6v51h-6zM748 1991h7v51h-7zM799 1991h6v51h-6zM818 1991h6v51h-6zM868 1991h7v51h-7zM881 1991h6v51h-6zM976 1991h6v51h-6zM1064 1991h6v51h-6zM1077 1991h6v51h-6zM1108 1991h7v51h-7zM264 2042h12v52h-12zM365 2042h6v52h-6zM497 2042h7v52h-7zM653 2042h7v52h-7zM729 2042h7v52h-7zM856 2042h6v52h-6zM919 2042h6v52h-6zM1045 2042h7v52h-7zM1077 2042h6v52h-6zM1102 2042h6v52h-6zM472 2094h7v52h-7zM691 2094h7v52h-7zM786 2094h13v52h-13zM881 2094h6v52h-6zM1014 2094h6v52h-6zM1064 2094h6v52h-6zM1108 2094h7v52h-7zM485 2146h6v52h-6zM497 2146h7v52h-7zM516 2146h7v52h-7zM672 2146h7v52h-7zM685 2146h13v52h-13zM773 2146h7v52h-7zM856 2146h6v52h-6zM881 2146h6v52h-6zM976 2146h6v52h-6zM1070 2146h7v52h-7zM415 2198h7v52h-7zM447 2198h6v52h-6zM516 2198h7v52h-7zM666 2198h6v52h-6zM729 2198h7v52h-7zM742 2198h6v52h-6zM786 2198h6v52h-6zM811 2198h7v52h-7zM824 2198h6v52h-6zM868 2198h7v52h-7zM1020 2198h6v52h-6zM1033 2198h6v52h-6zM1089 2198h7v52h-7zM314 2250h7v52h-7zM434 2250h7v52h-7zM460 2250h6v52h-6zM666 2250h13v52h-13zM881 2250h6v52h-6zM900 2250h6v52h-6zM1001 2250h6v52h-6zM1033 2250h12v52h-12zM1064 2250h6v52h-6zM371 2302h6v52h-6zM434 2302h7v52h-7zM485 2302h6v52h-6zM761 2302h6v52h-6zM773 2302h7v52h-7zM894 2302h6v52h-6zM1039 2302h6v52h-6zM1070 2302h7v52h-7zM1108 2302h7v52h-7zM257 2354h7v52h-7zM415 2354h7v52h-7zM460 2354h6v52h-6zM516 2354h7v52h-7zM624 2354h6v52h-6zM736 2354h6v52h-6zM811 2354h13v52h-13zM837 2354h19v52h-19zM862 2354h13v52h-13zM906 2354h7v52h-7zM919 2354h6v52h-6zM969 2354h13v52h-13zM988 2354h7v52h-7zM1045 2354h7v52h-7zM485 2406h6v52h-6zM611 2406h6v52h-6zM666 2406h13v52h-13zM792 2406h7v52h-7zM811 2406h7v52h-7zM856 2406h6v52h-6zM913 2406h12v52h-12zM1064 2406h19v52h-19zM1089 2406h7v52h-7zM314 2458h7v52h-7zM428 2458h6v52h-6zM485 2458h6v52h-6zM611 2458h6v52h-6zM691 2458h7v52h-7zM729 2458h7v52h-7zM995 2458h19v52h-19zM1089 2458h7v52h-7zM1102 2458h6v52h-6z"/>
<path fill="#00003C" d="M213 1472h7v52h-7zM485 1472h6v52h-6zM611 1472h6v52h-6zM666 1472h6v52h-6zM755 1472h6v52h-6zM988 1472h7v52h-7zM1014 1472h6v52h-6zM1052 1472h6v52h-6zM213 1524h7v51h-7zM333 1524h7v51h-7zM799 1524h12v51h-12zM913 1524h6v51h-6zM1077 1524h6v51h-6zM213 1575h7v52h-7zM371 1575h6v52h-6zM592 1575h7v52h-7zM672 1575h7v52h-7zM792 1575h7v52h-7zM818 1575h6v52h-6zM856 1575h6v52h-6zM881 1575h6v52h-6zM913 1575h6v52h-6zM944 1575h6v52h-6zM1014 1575h6v52h-6zM1052 1575h6v52h-6zM346 1627h6v52h-6zM415 1627h7v52h-7zM447 1627h6v52h-6zM660 1627h6v52h-6zM925 1627h6v52h-6zM1020 1627h6v52h-6zM773 1679h7v52h-7zM925 1679h6v52h-6zM1014 1679h6v52h-6zM1045 1679h13v52h-13zM1096 1679h6v52h-6zM340 1731h6v52h-6zM434 1731h7v52h-7zM504 1731h6v52h-6zM599 1731h6v52h-6zM881 1731h6v52h-6zM1083 1731h13v52h-13zM1102 1731h6v52h-6zM491 1783h6v52h-6zM672 1783h7v52h-7zM811 1783h7v52h-7zM270 1835h6v52h-6zM396 1835h7v52h-7zM447 1835h6v52h-6zM653 1835h7v52h-7zM314 1887h7v52h-7zM447 1887h6v52h-6zM963 1887h6v52h-6zM1064 1887h6v52h-6zM314 1939h7v52h-7zM340 1939h6v52h-6zM441 1939h6v52h-6zM811 1939h7v52h-7zM894 1939h6v52h-6zM919 1939h6v52h-6zM685 1991h13v51h-13zM837 1991h6v51h-6zM900 1991h6v51h-6zM919 1991h6v51h-6zM599 2042h6v52h-6zM672 2042h7v52h-7zM773 2042h7v52h-7zM868 2042h7v52h-7zM257 2094h7v52h-7zM856 2094h6v52h-6zM894 2094h12v52h-12zM963 2094h6v52h-6zM988 2094h7v52h-7zM1020 2094h6v52h-6zM321 2146h6v52h-6zM434 2146h7v52h-7zM472 2146h7v52h-7zM963 2146h6v52h-6zM1039 2146h6v52h-6zM1077 2146h6v52h-6zM1096 2146h6v52h-6zM460 2198h6v52h-6zM472 2198h7v52h-7zM792 2198h7v52h-7zM894 2198h12v52h-12zM938 2198h6v52h-6zM1014 2198h6v52h-6zM1045 2198h7v52h-7zM1083 2198h6v52h-6zM472 2250h7v52h-7zM485 2250h6v52h-6zM516 2250h7v52h-7zM567 2250h6v52h-6zM605 2250h6v52h-6zM856 2250h6v52h-6zM938 2250h6v52h-6zM1045 2250h7v52h-7zM592 2302h7v52h-7zM666 2302h13v52h-13zM786 2302h6v52h-6zM856 2302h6v52h-6zM938 2302h6v52h-6zM988 2302h7v52h-7zM1007 2302h19v52h-19zM1052 2302h6v52h-6zM1064 2302h6v52h-6zM239 2354h6v52h-6zM340 2354h12v52h-12zM428 2354h13v52h-13zM592 2354h7v52h-7zM672 2354h13v52h-13zM995 2354h6v52h-6zM1083 2354h6v52h-6zM289 2406h6v52h-6zM384 2406h6v52h-6zM415 2406h7v52h-7zM460 2406h6v52h-6zM472 2406h7v52h-7zM761 2406h6v52h-6zM805 2406h6v52h-6zM818 2406h6v52h-6zM849 2406h7v52h-7zM868 2406h7v52h-7zM931 2406h7v52h-7zM1026 2406h7v52h-7zM1096 2406h19v52h-19zM232 2458h7v52h-7zM321 2458h12v52h-12zM384 2458h6v52h-6zM504 2458h6v52h-6zM586 2458h6v52h-6zM717 2458h6v52h-6zM773 2458h7v52h-7zM786 2458h6v52h-6zM811 2458h7v52h-7zM944 2458h6v52h-6zM1039 2458h6v52h-6z"/>
<path fill="#E4E400" d="M226 1472h6v52h-6zM321 1472h6v52h-6zM409 1472h6v52h-6zM617 1472h13v52h-13zM931 1472h7v52h-7zM226 1524h6v51h-6zM308 1524h6v51h-6zM384 1524h6v51h-6zM422 1524h6v51h-6zM617 1524h7v51h-7zM1096 1524h6v51h-6zM251 1575h6v52h-6zM384 1575h6v52h-6zM510 1575h6v52h-6zM900 1575h13v52h-13zM925 1575h6v52h-6zM201 1627h6v52h-6zM226 1627h6v52h-6zM264 1627h6v52h-6zM384 1627h6v52h-6zM422 1627h6v52h-6zM561 1627h6v52h-6zM611 1627h6v52h-6zM1033 1627h6v52h-6zM207 1679h6v52h-6zM226 1679h6v52h-6zM352 1679h7v52h-7zM390 1679h6v52h-6zM542 1679h6v52h-6zM586 1679h6v52h-6zM605 1679h6v52h-6zM887 1679h7v52h-7zM220 1731h6v52h-6zM321 1731h6v52h-6zM944 1731h6v52h-6zM220 1783h6v52h-6zM295 1783h7v52h-7zM346 1783h6v52h-6zM384 1783h6v52h-6zM422 1783h6v52h-6zM535 1783h7v52h-7zM561 1783h6v52h-6zM906 1783h7v52h-7zM194 1835h7v52h-7zM257 1835h7v52h-7zM308 1835h6v52h-6zM529 1835h6v52h-6zM561 1835h6v52h-6zM887 1835h7v52h-7zM988 1835h7v52h-7zM194 1887h7v52h-7zM220 1887h6v52h-6zM321 1887h12v52h-12zM384 1887h6v52h-6zM466 1887h6v52h-6zM561 1887h6v52h-6zM611 1887h13v52h-13zM201 1939h6v52h-6zM346 1939h6v52h-6zM586 1939h6v52h-6zM611 1939h13v52h-13zM988 1939h7v52h-7zM232 1991h7v51h-7zM245 1991h6v51h-6zM276 1991h13v51h-13zM542 1991h6v51h-6zM624 1991h6v51h-6zM938 1991h6v51h-6zM295 2042h7v52h-7zM340 2042h6v52h-6zM409 2042h6v52h-6zM422 2042h6v52h-6zM466 2042h6v52h-6zM479 2042h6v52h-6zM523 2042h6v52h-6zM561 2042h6v52h-6zM605 2042h6v52h-6zM849 2042h7v52h-7zM906 2042h7v52h-7zM251 2094h6v52h-6zM270 2094h13v52h-13zM321 2094h12v52h-12zM377 2094h7v52h-7zM479 2094h6v52h-6zM510 2094h6v52h-6zM561 2094h6v52h-6zM573 2094h7v52h-7zM887 2094h7v52h-7zM925 2094h6v52h-6zM213 2146h7v52h-7zM359 2146h12v52h-12zM409 2146h6v52h-6zM441 2146h6v52h-6zM849 2146h7v52h-7zM302 2198h6v52h-6zM567 2198h6v52h-6zM586 2198h6v52h-6zM194 2250h13v52h-13zM377 2250h7v52h-7zM554 2250h7v52h-7zM573 2250h7v52h-7zM611 2250h6v52h-6zM805 2250h6v52h-6zM251 2302h6v52h-6zM327 2302h6v52h-6zM340 2302h12v52h-12zM409 2302h6v52h-6zM479 2302h6v52h-6zM510 2302h6v52h-6zM554 2302h7v52h-7zM586 2302h6v52h-6zM624 2302h6v52h-6zM887 2302h7v52h-7zM931 2302h7v52h-7zM232 2354h7v52h-7zM384 2354h6v52h-6zM422 2354h6v52h-6zM491 2354h6v52h-6zM510 2354h6v52h-6zM605 2354h6v52h-6zM1026 2354h7v52h-7zM239 2406h6v52h-6zM251 2406h6v52h-6zM504 2406h6v52h-6zM573 2406h7v52h-7zM894 2406h6v52h-6zM950 2406h7v52h-7zM207 2458h13v52h-13zM283 2458h6v52h-6zM359 2458h6v52h-6zM567 2458h6v52h-6zM1033 2458h6v52h-6z"/>
<path fill="#C3C300" d="M251 1472h6v52h-6zM308 1472h6v52h-6zM422 1472h6v52h-6zM561 1472h6v52h-6zM849 1472h13v52h-13zM900 1472h6v52h-6zM251 1524h6v51h-6zM295 1524h7v51h-7zM340 1524h6v51h-6zM396 1524h7v51h-7zM510 1524h13v51h-13zM611 1524h6v51h-6zM906 1524h7v51h-7zM201 1575h6v52h-6zM422 1575h6v52h-6zM491 1575h6v52h-6zM561 1575h6v52h-6zM599 1575h6v52h-6zM837 1575h6v52h-6zM257 1627h7v52h-7zM377 1627h7v52h-7zM434 1627h7v52h-7zM479 1627h6v52h-6zM504 1627h6v52h-6zM516 1627h7v52h-7zM554 1627h7v52h-7zM617 1627h7v52h-7zM805 1627h6v52h-6zM906 1627h7v52h-7zM988 1627h7v52h-7zM251 1679h13v52h-13zM308 1679h6v52h-6zM415 1679h7v52h-7zM428 1679h13v52h-13zM453 1679h7v52h-7zM491 1679h6v52h-6zM599 1679h6v52h-6zM624 1679h6v52h-6zM881 1679h6v52h-6zM207 1731h13v52h-13zM257 1731h7v52h-7zM295 1731h7v52h-7zM327 1731h6v52h-6zM377 1731h7v52h-7zM561 1731h12v52h-12zM611 1731h6v52h-6zM1064 1731h6v52h-6zM207 1783h6v52h-6zM257 1783h7v52h-7zM377 1783h7v52h-7zM523 1783h6v52h-6zM1064 1783h6v52h-6zM207 1835h19v52h-19zM295 1835h13v52h-13zM321 1835h12v52h-12zM346 1835h6v52h-6zM422 1835h6v52h-6zM479 1835h6v52h-6zM504 1835h6v52h-6zM567 1835h6v52h-6zM586 1835h6v52h-6zM624 1835h6v52h-6zM906 1835h7v52h-7zM944 1835h6v52h-6zM201 1887h12v52h-12zM308 1887h6v52h-6zM479 1887h6v52h-6zM523 1887h6v52h-6zM605 1887h6v52h-6zM837 1887h6v52h-6zM887 1887h7v52h-7zM906 1887h7v52h-7zM950 1887h7v52h-7zM213 1939h13v52h-13zM257 1939h7v52h-7zM321 1939h12v52h-12zM384 1939h6v52h-6zM434 1939h7v52h-7zM466 1939h6v52h-6zM554 1939h7v52h-7zM605 1939h6v52h-6zM849 1939h7v52h-7zM906 1939h7v52h-7zM944 1939h6v52h-6zM264 1991h6v51h-6zM377 1991h7v51h-7zM441 1991h6v51h-6zM479 1991h6v51h-6zM554 1991h7v51h-7zM894 1991h6v51h-6zM906 1991h7v51h-7zM950 1991h7v51h-7zM201 2042h6v52h-6zM226 2042h6v52h-6zM308 2042h6v52h-6zM377 2042h7v52h-7zM460 2042h6v52h-6zM472 2042h7v52h-7zM504 2042h12v52h-12zM567 2042h6v52h-6zM611 2042h6v52h-6zM624 2042h6v52h-6zM887 2042h7v52h-7zM931 2042h7v52h-7zM944 2042h6v52h-6zM1033 2042h6v52h-6zM201 2094h6v52h-6zM340 2094h6v52h-6zM491 2094h6v52h-6zM504 2094h6v52h-6zM554 2094h7v52h-7zM599 2094h6v52h-6zM617 2094h7v52h-7zM780 2094h6v52h-6zM849 2094h7v52h-7zM931 2094h7v52h-7zM950 2094h7v52h-7zM1033 2094h6v52h-6zM201 2146h6v52h-6zM295 2146h7v52h-7zM428 2146h6v52h-6zM460 2146h12v52h-12zM504 2146h6v52h-6zM805 2146h6v52h-6zM887 2146h7v52h-7zM931 2146h7v52h-7zM1033 2146h6v52h-6zM1102 2146h6v52h-6zM226 2198h6v52h-6zM321 2198h6v52h-6zM365 2198h6v52h-6zM377 2198h13v52h-13zM504 2198h6v52h-6zM542 2198h6v52h-6zM624 2198h6v52h-6zM780 2198h6v52h-6zM849 2198h7v52h-7zM887 2198h7v52h-7zM925 2198h6v52h-6zM950 2198h7v52h-7zM1064 2198h6v52h-6zM270 2250h6v52h-6zM308 2250h6v52h-6zM321 2250h12v52h-12zM535 2250h7v52h-7zM561 2250h6v52h-6zM887 2250h7v52h-7zM906 2250h7v52h-7zM264 2302h6v52h-6zM535 2302h7v52h-7zM561 2302h6v52h-6zM611 2302h6v52h-6zM780 2302h6v52h-6zM925 2302h6v52h-6zM497 2354h7v52h-7zM931 2354h13v52h-13zM1033 2354h6v52h-6zM409 2406h6v52h-6zM479 2406h6v52h-6zM510 2406h6v52h-6zM567 2406h6v52h-6zM906 2406h7v52h-7zM201 2458h6v52h-6zM264 2458h6v52h-6zM340 2458h12v52h-12zM441 2458h6v52h-6zM460 2458h6v52h-6zM497 2458h7v52h-7zM542 2458h6v52h-6zM580 2458h6v52h-6zM617 2458h7v52h-7zM685 2458h6v52h-6zM938 2458h6v52h-6z"/>
<path fill="#464600" d="M270 1472h6v52h-6zM371 1472h6v52h-6zM460 1472h6v52h-6zM567 1472h6v52h-6zM586 1472h13v52h-13zM837 1472h6v52h-6zM868 1472h7v52h-7zM950 1472h7v52h-7zM1083 1472h6v52h-6zM207 1524h6v51h-6zM270 1524h6v51h-6zM346 1524h6v51h-6zM434 1524h7v51h-7zM554 1524h7v51h-7zM605 1524h6v51h-6zM624 1524h6v51h-6zM837 1524h6v51h-6zM887 1524h7v51h-7zM950 1524h7v51h-7zM1052 1524h6v51h-6zM270 1575h6v52h-6zM308 1575h6v52h-6zM365 1575h6v52h-6zM428 1575h6v52h-6zM780 1575h6v52h-6zM950 1575h7v52h-7zM213 1627h7v52h-7zM295 1627h13v52h-13zM599 1627h6v52h-6zM780 1627h6v52h-6zM818 1627h6v52h-6zM213 1679h7v52h-7zM346 1679h6v52h-6zM535 1679h7v52h-7zM660 1679h6v52h-6zM944 1679h6v52h-6zM988 1679h7v52h-7zM1039 1679h6v52h-6zM264 1731h6v52h-6zM346 1731h6v52h-6zM491 1731h6v52h-6zM887 1731h7v52h-7zM1039 1731h6v52h-6zM1070 1731h7v52h-7zM434 1783h13v52h-13zM567 1783h13v52h-13zM624 1783h6v52h-6zM780 1783h12v52h-12zM913 1783h12v52h-12zM1108 1783h7v52h-7zM523 1835h6v52h-6zM881 1835h6v52h-6zM919 1835h6v52h-6zM1052 1835h6v52h-6zM1108 1835h7v52h-7zM295 1887h7v52h-7zM346 1887h6v52h-6zM786 1887h6v52h-6zM881 1887h6v52h-6zM919 1887h6v52h-6zM1014 1887h6v52h-6zM295 1939h13v52h-13zM377 1939h7v52h-7zM472 1939h7v52h-7zM516 1939h7v52h-7zM599 1939h6v52h-6zM653 1939h7v52h-7zM837 1939h6v52h-6zM1014 1939h6v52h-6zM1064 1939h6v52h-6zM207 1991h6v51h-6zM321 1991h6v51h-6zM365 1991h6v51h-6zM944 1991h6v51h-6zM1052 1991h6v51h-6zM213 2042h7v52h-7zM321 2042h6v52h-6zM384 2042h6v52h-6zM428 2042h6v52h-6zM491 2042h6v52h-6zM516 2042h7v52h-7zM805 2042h6v52h-6zM894 2042h6v52h-6zM1039 2042h6v52h-6zM1064 2042h6v52h-6zM207 2094h6v52h-6zM295 2094h7v52h-7zM516 2094h7v52h-7zM567 2094h6v52h-6zM586 2094h6v52h-6zM938 2094h6v52h-6zM1039 2094h6v52h-6zM1052 2094h6v52h-6zM1096 2094h12v52h-12zM207 2146h6v52h-6zM264 2146h12v52h-12zM573 2146h7v52h-7zM599 2146h6v52h-6zM611 2146h6v52h-6zM837 2146h6v52h-6zM988 2146h7v52h-7zM1020 2146h6v52h-6zM207 2198h6v52h-6zM257 2198h13v52h-13zM346 2198h6v52h-6zM599 2198h12v52h-12zM988 2198h7v52h-7zM1096 2198h6v52h-6zM213 2250h7v52h-7zM340 2250h6v52h-6zM396 2250h7v52h-7zM441 2250h6v52h-6zM599 2250h6v52h-6zM624 2250h6v52h-6zM780 2250h6v52h-6zM913 2250h6v52h-6zM1052 2250h6v52h-6zM1102 2250h6v52h-6zM201 2302h6v52h-6zM213 2302h7v52h-7zM295 2302h7v52h-7zM321 2302h6v52h-6zM384 2302h6v52h-6zM396 2302h7v52h-7zM460 2302h6v52h-6zM516 2302h7v52h-7zM567 2302h6v52h-6zM605 2302h6v52h-6zM805 2302h6v52h-6zM1096 2302h12v52h-12zM251 2354h6v52h-6zM441 2354h6v52h-6zM611 2354h6v52h-6zM685 2354h6v52h-6zM856 2354h6v52h-6zM900 2354h6v52h-6zM944 2354h13v52h-13zM207 2406h6v52h-6zM422 2406h6v52h-6zM441 2406h6v52h-6zM561 2406h6v52h-6zM685 2406h6v52h-6zM780 2406h6v52h-6zM799 2406h6v52h-6zM988 2406h7v52h-7zM1083 2406h6v52h-6zM510 2458h13v52h-13zM624 2458h6v52h-6zM792 2458h7v52h-7zM925 2458h13v52h-13zM988 2458h7v52h-7zM1026 2458h7v52h-7z"/>
<path fill="#0000BE" d="M289 1472h6v52h-6zM314 1472h7v52h-7zM434 1472h13v52h-13zM472 1472h7v52h-7zM736 1472h6v52h-6zM875 1472h6v52h-6zM894 1472h6v52h-6zM1001 1472h13v52h-13zM1020 1472h13v52h-13zM1039 1472h13v52h-13zM1089 1472h7v52h-7zM289 1524h6v51h-6zM314 1524h7v51h-7zM441 1524h6v51h-6zM472 1524h7v51h-7zM497 1524h7v51h-7zM567 1524h6v51h-6zM592 1524h7v51h-7zM672 1524h7v51h-7zM742 1524h6v51h-6zM761 1524h6v51h-6zM811 1524h7v51h-7zM824 1524h6v51h-6zM868 1524h19v51h-19zM919 1524h6v51h-6zM1020 1524h13v51h-13zM1039 1524h13v51h-13zM1070 1524h7v51h-7zM1102 1524h13v51h-13zM257 1575h7v52h-7zM289 1575h13v52h-13zM314 1575h7v52h-7zM472 1575h7v52h-7zM497 1575h7v52h-7zM755 1575h12v52h-12zM1045 1575h7v52h-7zM333 1627h7v52h-7zM485 1627h6v52h-6zM653 1627h7v52h-7zM672 1627h7v52h-7zM742 1627h6v52h-6zM811 1627h7v52h-7zM969 1627h13v52h-13zM995 1627h6v52h-6zM1058 1627h6v52h-6zM1070 1627h7v52h-7zM1089 1627h26v52h-26zM295 1679h7v52h-7zM333 1679h7v52h-7zM472 1679h7v52h-7zM592 1679h7v52h-7zM792 1679h13v52h-13zM976 1679h6v52h-6zM995 1679h6v52h-6zM1026 1679h7v52h-7zM1058 1679h6v52h-6zM1070 1679h13v52h-13zM1089 1679h7v52h-7zM1102 1679h13v52h-13zM333 1731h7v52h-7zM672 1731h7v52h-7zM811 1731h19v52h-19zM862 1731h6v52h-6zM919 1731h6v52h-6zM963 1731h6v52h-6zM995 1731h6v52h-6zM1007 1731h7v52h-7zM1020 1731h6v52h-6zM1108 1731h7v52h-7zM333 1783h7v52h-7zM485 1783h6v52h-6zM592 1783h7v52h-7zM660 1783h6v52h-6zM736 1783h6v52h-6zM767 1783h6v52h-6zM818 1783h6v52h-6zM868 1783h7v52h-7zM925 1783h6v52h-6zM1001 1783h6v52h-6zM1014 1783h6v52h-6zM1026 1783h7v52h-7zM1058 1783h6v52h-6zM1070 1783h13v52h-13zM1089 1783h13v52h-13zM289 1835h6v52h-6zM415 1835h7v52h-7zM485 1835h12v52h-12zM592 1835h7v52h-7zM660 1835h6v52h-6zM672 1835h7v52h-7zM691 1835h7v52h-7zM729 1835h7v52h-7zM767 1835h13v52h-13zM811 1835h13v52h-13zM868 1835h7v52h-7zM995 1835h12v52h-12zM1045 1835h7v52h-7zM1083 1835h6v52h-6zM270 1887h6v52h-6zM340 1887h6v52h-6zM396 1887h7v52h-7zM485 1887h12v52h-12zM691 1887h7v52h-7zM773 1887h7v52h-7zM818 1887h6v52h-6zM925 1887h6v52h-6zM995 1887h6v52h-6zM1020 1887h6v52h-6zM1045 1887h7v52h-7zM1083 1887h6v52h-6zM1096 1887h6v52h-6zM270 1939h6v52h-6zM396 1939h7v52h-7zM485 1939h12v52h-12zM729 1939h13v52h-13zM773 1939h7v52h-7zM856 1939h6v52h-6zM938 1939h6v52h-6zM995 1939h12v52h-12zM1083 1939h6v52h-6zM1096 1939h6v52h-6zM415 1991h7v51h-7zM447 1991h6v51h-6zM485 1991h6v51h-6zM660 1991h6v51h-6zM717 1991h12v51h-12zM805 1991h13v51h-13zM856 1991h12v51h-12zM1001 1991h6v51h-6zM1020 1991h6v51h-6zM1096 1991h12v51h-12zM647 2042h6v52h-6zM660 2042h6v52h-6zM685 2042h6v52h-6zM717 2042h6v52h-6zM925 2042h6v52h-6zM976 2042h6v52h-6zM1001 2042h6v52h-6zM1014 2042h6v52h-6zM1070 2042h7v52h-7zM1083 2042h19v52h-19zM333 2094h7v52h-7zM447 2094h6v52h-6zM497 2094h7v52h-7zM660 2094h6v52h-6zM685 2094h6v52h-6zM875 2094h6v52h-6zM919 2094h6v52h-6zM969 2094h7v52h-7zM995 2094h12v52h-12zM1026 2094h7v52h-7zM447 2146h6v52h-6zM666 2146h6v52h-6zM818 2146h6v52h-6zM875 2146h6v52h-6zM900 2146h6v52h-6zM913 2146h6v52h-6zM969 2146h7v52h-7zM995 2146h19v52h-19zM1026 2146h7v52h-7zM1108 2146h7v52h-7zM434 2198h13v52h-13zM485 2198h6v52h-6zM497 2198h7v52h-7zM592 2198h7v52h-7zM660 2198h6v52h-6zM995 2198h6v52h-6zM1026 2198h7v52h-7zM1070 2198h13v52h-13zM1108 2198h7v52h-7zM289 2250h6v52h-6zM333 2250h7v52h-7zM415 2250h7v52h-7zM497 2250h7v52h-7zM729 2250h7v52h-7zM818 2250h6v52h-6zM875 2250h6v52h-6zM894 2250h6v52h-6zM919 2250h6v52h-6zM963 2250h13v52h-13zM1020 2250h6v52h-6zM1077 2250h12v52h-12zM314 2302h7v52h-7zM441 2302h6v52h-6zM472 2302h7v52h-7zM497 2302h7v52h-7zM685 2302h13v52h-13zM704 2302h6v52h-6zM717 2302h6v52h-6zM875 2302h6v52h-6zM976 2302h6v52h-6zM1026 2302h7v52h-7zM1077 2302h6v52h-6zM365 2354h6v52h-6zM396 2354h7v52h-7zM567 2354h6v52h-6zM717 2354h12v52h-12zM748 2354h7v52h-7zM786 2354h19v52h-19zM830 2354h7v52h-7zM925 2354h6v52h-6zM957 2354h6v52h-6zM1014 2354h12v52h-12zM1077 2354h6v52h-6zM1108 2354h7v52h-7zM314 2406h7v52h-7zM365 2406h12v52h-12zM698 2406h6v52h-6zM976 2406h6v52h-6zM1007 2406h7v52h-7zM434 2458h7v52h-7zM641 2458h6v52h-6zM748 2458h7v52h-7zM976 2458h6v52h-6zM1014 2458h6v52h-6zM1045 2458h7v52h-7zM1064 2458h6v52h-6z"/>
<path fill="#0000FF" d="M295 1472h7v52h-7zM333 1472h7v52h-7zM428 1472h6v52h-6zM447 1472h6v52h-6zM497 1472h7v52h-7zM641 1472h25v52h-25zM679 1472h50v52h-50zM742 1472h13v52h-13zM767 1472h6v52h-6zM824 1472h13v52h-13zM843 1472h6v52h-6zM862 1472h6v52h-6zM881 1472h6v52h-6zM957 1472h31v52h-31zM995 1472h6v52h-6zM1058 1472h6v52h-6zM1070 1472h7v52h-7zM447 1524h6v51h-6zM641 1524h25v51h-25zM679 1524h50v51h-50zM736 1524h6v51h-6zM748 1524h7v51h-7zM767 1524h6v51h-6zM792 1524h7v51h-7zM830 1524h7v51h-7zM843 1524h6v51h-6zM856 1524h12v51h-12zM894 1524h6v51h-6zM957 1524h31v51h-31zM995 1524h19v51h-19zM1058 1524h6v51h-6zM1089 1524h7v51h-7zM434 1575h7v52h-7zM447 1575h6v52h-6zM641 1575h31v52h-31zM679 1575h12v52h-12zM698 1575h57v52h-57zM767 1575h6v52h-6zM811 1575h7v52h-7zM824 1575h13v52h-13zM843 1575h6v52h-6zM862 1575h6v52h-6zM894 1575h6v52h-6zM957 1575h6v52h-6zM969 1575h19v52h-19zM995 1575h19v52h-19zM1020 1575h13v52h-13zM1058 1575h6v52h-6zM1070 1575h7v52h-7zM1089 1575h7v52h-7zM289 1627h6v52h-6zM314 1627h7v52h-7zM371 1627h6v52h-6zM497 1627h7v52h-7zM592 1627h7v52h-7zM641 1627h12v52h-12zM666 1627h6v52h-6zM679 1627h57v52h-57zM748 1627h32v52h-32zM792 1627h13v52h-13zM824 1627h13v52h-13zM843 1627h6v52h-6zM862 1627h19v52h-19zM938 1627h6v52h-6zM957 1627h6v52h-6zM982 1627h6v52h-6zM1001 1627h13v52h-13zM1026 1627h7v52h-7zM1077 1627h6v52h-6zM340 1679h6v52h-6zM371 1679h6v52h-6zM497 1679h7v52h-7zM641 1679h19v52h-19zM666 1679h6v52h-6zM679 1679h12v52h-12zM698 1679h75v52h-75zM780 1679h6v52h-6zM811 1679h7v52h-7zM824 1679h13v52h-13zM843 1679h6v52h-6zM862 1679h19v52h-19zM894 1679h6v52h-6zM957 1679h6v52h-6zM982 1679h6v52h-6zM1001 1679h13v52h-13zM289 1731h6v52h-6zM371 1731h6v52h-6zM485 1731h6v52h-6zM497 1731h7v52h-7zM592 1731h7v52h-7zM647 1731h6v52h-6zM666 1731h6v52h-6zM679 1731h38v52h-38zM723 1731h6v52h-6zM748 1731h32v52h-32zM792 1731h13v52h-13zM830 1731h7v52h-7zM843 1731h6v52h-6zM856 1731h6v52h-6zM868 1731h13v52h-13zM957 1731h6v52h-6zM969 1731h19v52h-19zM1058 1731h6v52h-6zM1077 1731h6v52h-6zM1096 1731h6v52h-6zM371 1783h6v52h-6zM497 1783h7v52h-7zM641 1783h12v52h-12zM666 1783h6v52h-6zM679 1783h12v52h-12zM698 1783h38v52h-38zM742 1783h25v52h-25zM792 1783h13v52h-13zM824 1783h13v52h-13zM843 1783h6v52h-6zM856 1783h12v52h-12zM875 1783h6v52h-6zM938 1783h6v52h-6zM957 1783h6v52h-6zM969 1783h19v52h-19zM995 1783h6v52h-6zM1083 1783h6v52h-6zM333 1835h7v52h-7zM371 1835h6v52h-6zM497 1835h7v52h-7zM641 1835h12v52h-12zM666 1835h6v52h-6zM679 1835h12v52h-12zM698 1835h31v52h-31zM736 1835h31v52h-31zM799 1835h6v52h-6zM824 1835h13v52h-13zM843 1835h6v52h-6zM856 1835h12v52h-12zM875 1835h6v52h-6zM925 1835h6v52h-6zM938 1835h6v52h-6zM957 1835h6v52h-6zM969 1835h19v52h-19zM1007 1835h7v52h-7zM1026 1835h7v52h-7zM1058 1835h6v52h-6zM1070 1835h13v52h-13zM1089 1835h13v52h-13zM333 1887h7v52h-7zM371 1887h6v52h-6zM497 1887h7v52h-7zM592 1887h7v52h-7zM641 1887h12v52h-12zM666 1887h6v52h-6zM679 1887h12v52h-12zM698 1887h38v52h-38zM742 1887h31v52h-31zM792 1887h13v52h-13zM824 1887h13v52h-13zM843 1887h6v52h-6zM856 1887h25v52h-25zM957 1887h6v52h-6zM969 1887h19v52h-19zM1001 1887h13v52h-13zM1026 1887h7v52h-7zM1058 1887h6v52h-6zM1070 1887h13v52h-13zM1089 1887h7v52h-7zM333 1939h7v52h-7zM371 1939h6v52h-6zM497 1939h7v52h-7zM592 1939h7v52h-7zM641 1939h12v52h-12zM666 1939h6v52h-6zM679 1939h12v52h-12zM698 1939h31v52h-31zM742 1939h25v52h-25zM792 1939h13v52h-13zM824 1939h13v52h-13zM843 1939h6v52h-6zM862 1939h19v52h-19zM925 1939h6v52h-6zM957 1939h6v52h-6zM969 1939h19v52h-19zM1007 1939h7v52h-7zM1026 1939h7v52h-7zM1058 1939h6v52h-6zM1070 1939h13v52h-13zM1089 1939h7v52h-7zM289 1991h6v51h-6zM314 1991h7v51h-7zM333 1991h7v51h-7zM371 1991h6v51h-6zM497 1991h7v51h-7zM592 1991h7v51h-7zM641 1991h19v51h-19zM666 1991h6v51h-6zM679 1991h6v51h-6zM698 1991h19v51h-19zM729 1991h7v51h-7zM742 1991h6v51h-6zM755 1991h25v51h-25zM792 1991h7v51h-7zM824 1991h13v51h-13zM843 1991h6v51h-6zM875 1991h6v51h-6zM925 1991h6v51h-6zM957 1991h19v51h-19zM982 1991h6v51h-6zM995 1991h6v51h-6zM1007 1991h13v51h-13zM1026 1991h7v51h-7zM1045 1991h7v51h-7zM1058 1991h6v51h-6zM1070 1991h7v51h-7zM1089 1991h7v51h-7zM289 2042h6v52h-6zM333 2042h7v52h-7zM371 2042h6v52h-6zM447 2042h6v52h-6zM485 2042h6v52h-6zM592 2042h7v52h-7zM641 2042h6v52h-6zM666 2042h6v52h-6zM679 2042h6v52h-6zM698 2042h19v52h-19zM723 2042h6v52h-6zM736 2042h37v52h-37zM792 2042h13v52h-13zM818 2042h19v52h-19zM843 2042h6v52h-6zM862 2042h6v52h-6zM875 2042h12v52h-12zM957 2042h19v52h-19zM982 2042h6v52h-6zM995 2042h6v52h-6zM1007 2042h7v52h-7zM1020 2042h13v52h-13zM1058 2042h6v52h-6zM1108 2042h7v52h-7zM289 2094h6v52h-6zM314 2094h7v52h-7zM371 2094h6v52h-6zM415 2094h7v52h-7zM485 2094h6v52h-6zM592 2094h7v52h-7zM641 2094h19v52h-19zM666 2094h19v52h-19zM698 2094h82v52h-82zM799 2094h6v52h-6zM811 2094h7v52h-7zM824 2094h13v52h-13zM843 2094h6v52h-6zM862 2094h13v52h-13zM913 2094h6v52h-6zM957 2094h6v52h-6zM976 2094h12v52h-12zM1007 2094h7v52h-7zM1045 2094h7v52h-7zM1058 2094h6v52h-6zM1070 2094h13v52h-13zM1089 2094h7v52h-7zM289 2146h6v52h-6zM314 2146h7v52h-7zM333 2146h7v52h-7zM371 2146h6v52h-6zM415 2146h7v52h-7zM592 2146h7v52h-7zM641 2146h25v52h-25zM679 2146h6v52h-6zM698 2146h75v52h-75zM792 2146h13v52h-13zM811 2146h7v52h-7zM824 2146h13v52h-13zM843 2146h6v52h-6zM862 2146h13v52h-13zM919 2146h6v52h-6zM957 2146h6v52h-6zM982 2146h6v52h-6zM1058 2146h6v52h-6zM1089 2146h7v52h-7zM289 2198h6v52h-6zM314 2198h7v52h-7zM333 2198h7v52h-7zM371 2198h6v52h-6zM641 2198h19v52h-19zM679 2198h12v52h-12zM698 2198h31v52h-31zM736 2198h6v52h-6zM748 2198h32v52h-32zM799 2198h6v52h-6zM830 2198h7v52h-7zM843 2198h6v52h-6zM856 2198h12v52h-12zM875 2198h12v52h-12zM919 2198h6v52h-6zM957 2198h31v52h-31zM1001 2198h13v52h-13zM1058 2198h6v52h-6zM371 2250h6v52h-6zM447 2250h6v52h-6zM641 2250h25v52h-25zM679 2250h50v52h-50zM736 2250h37v52h-37zM799 2250h6v52h-6zM811 2250h7v52h-7zM824 2250h13v52h-13zM843 2250h6v52h-6zM862 2250h13v52h-13zM957 2250h6v52h-6zM976 2250h12v52h-12zM995 2250h6v52h-6zM1007 2250h7v52h-7zM1026 2250h7v52h-7zM1058 2250h6v52h-6zM1070 2250h7v52h-7zM1089 2250h7v52h-7zM289 2302h6v52h-6zM333 2302h7v52h-7zM415 2302h7v52h-7zM447 2302h6v52h-6zM641 2302h25v52h-25zM679 2302h6v52h-6zM698 2302h6v52h-6zM710 2302h7v52h-7zM723 2302h38v52h-38zM767 2302h6v52h-6zM792 2302h13v52h-13zM811 2302h7v52h-7zM824 2302h13v52h-13zM843 2302h6v52h-6zM862 2302h13v52h-13zM881 2302h6v52h-6zM913 2302h12v52h-12zM957 2302h19v52h-19zM982 2302h6v52h-6zM995 2302h12v52h-12zM1058 2302h6v52h-6zM1089 2302h7v52h-7zM289 2354h6v52h-6zM314 2354h7v52h-7zM333 2354h7v52h-7zM371 2354h6v52h-6zM485 2354h6v52h-6zM647 2354h25v52h-25zM691 2354h13v52h-13zM710 2354h7v52h-7zM729 2354h7v52h-7zM742 2354h6v52h-6zM755 2354h31v52h-31zM824 2354h6v52h-6zM875 2354h12v52h-12zM963 2354h6v52h-6zM982 2354h6v52h-6zM1001 2354h6v52h-6zM1058 2354h19v52h-19zM1089 2354h7v52h-7zM1102 2354h6v52h-6zM333 2406h7v52h-7zM428 2406h13v52h-13zM447 2406h6v52h-6zM592 2406h7v52h-7zM641 2406h25v52h-25zM679 2406h6v52h-6zM704 2406h57v52h-57zM767 2406h13v52h-13zM824 2406h25v52h-25zM862 2406h6v52h-6zM875 2406h12v52h-12zM957 2406h19v52h-19zM982 2406h6v52h-6zM995 2406h12v52h-12zM1014 2406h12v52h-12zM1039 2406h13v52h-13zM1058 2406h6v52h-6zM289 2458h6v52h-6zM333 2458h7v52h-7zM365 2458h12v52h-12zM415 2458h7v52h-7zM447 2458h6v52h-6zM592 2458h7v52h-7zM647 2458h38v52h-38zM698 2458h19v52h-19zM723 2458h6v52h-6zM736 2458h12v52h-12zM755 2458h18v52h-18zM805 2458h6v52h-6zM818 2458h31v52h-31zM856 2458h31v52h-31zM913 2458h12v52h-12zM957 2458h19v52h-19zM982 2458h6v52h-6zM1058 2458h6v52h-6zM1070 2458h13v52h-13zM1096 2458h6v52h-6z"/>
<path fill="#878700" d="M516 1472h7v52h-7zM542 1472h6v52h-6zM554 1472h7v52h-7zM605 1472h6v52h-6zM780 1472h6v52h-6zM906 1472h7v52h-7zM944 1472h6v52h-6zM1096 1472h6v52h-6zM365 1524h6v51h-6zM542 1524h6v51h-6zM773 1524h7v51h-7zM818 1524h6v51h-6zM900 1524h6v51h-6zM925 1524h6v51h-6zM1014 1524h6v51h-6zM340 1575h12v52h-12zM396 1575h7v52h-7zM516 1575h7v52h-7zM535 1575h13v52h-13zM554 1575h7v52h-7zM611 1575h6v52h-6zM624 1575h6v52h-6zM887 1575h7v52h-7zM938 1575h6v52h-6zM207 1627h6v52h-6zM428 1627h6v52h-6zM441 1627h6v52h-6zM460 1627h6v52h-6zM491 1627h6v52h-6zM586 1627h6v52h-6zM624 1627h6v52h-6zM837 1627h6v52h-6zM881 1627h13v52h-13zM900 1627h6v52h-6zM944 1627h6v52h-6zM239 1679h6v52h-6zM441 1679h6v52h-6zM479 1679h6v52h-6zM516 1679h7v52h-7zM554 1679h7v52h-7zM805 1679h6v52h-6zM900 1679h13v52h-13zM1033 1679h6v52h-6zM302 1731h6v52h-6zM365 1731h6v52h-6zM384 1731h6v52h-6zM396 1731h7v52h-7zM428 1731h6v52h-6zM441 1731h6v52h-6zM460 1731h19v52h-19zM605 1731h6v52h-6zM780 1731h6v52h-6zM950 1731h7v52h-7zM1052 1731h6v52h-6zM213 1783h7v52h-7zM264 1783h6v52h-6zM460 1783h6v52h-6zM504 1783h6v52h-6zM516 1783h7v52h-7zM554 1783h7v52h-7zM837 1783h6v52h-6zM881 1783h13v52h-13zM944 1783h6v52h-6zM1102 1783h6v52h-6zM201 1835h6v52h-6zM434 1835h7v52h-7zM466 1835h6v52h-6zM599 1835h12v52h-12zM786 1835h6v52h-6zM837 1835h6v52h-6zM900 1835h6v52h-6zM913 1835h6v52h-6zM950 1835h7v52h-7zM1033 1835h6v52h-6zM213 1887h7v52h-7zM257 1887h13v52h-13zM377 1887h7v52h-7zM434 1887h7v52h-7zM460 1887h6v52h-6zM504 1887h6v52h-6zM516 1887h7v52h-7zM554 1887h7v52h-7zM567 1887h6v52h-6zM599 1887h6v52h-6zM624 1887h6v52h-6zM900 1887h6v52h-6zM913 1887h6v52h-6zM944 1887h6v52h-6zM207 1939h6v52h-6zM422 1939h6v52h-6zM460 1939h6v52h-6zM567 1939h6v52h-6zM624 1939h6v52h-6zM780 1939h6v52h-6zM887 1939h7v52h-7zM900 1939h6v52h-6zM950 1939h7v52h-7zM1033 1939h12v52h-12zM1052 1939h6v52h-6zM201 1991h6v51h-6zM213 1991h7v51h-7zM226 1991h6v51h-6zM257 1991h7v51h-7zM295 1991h7v51h-7zM346 1991h6v51h-6zM422 1991h6v51h-6zM472 1991h7v51h-7zM491 1991h6v51h-6zM504 1991h6v51h-6zM516 1991h7v51h-7zM567 1991h6v51h-6zM586 1991h6v51h-6zM599 1991h6v51h-6zM611 1991h6v51h-6zM786 1991h6v51h-6zM988 1991h7v51h-7zM1039 1991h6v51h-6zM1083 1991h6v51h-6zM207 2042h6v52h-6zM327 2042h6v52h-6zM554 2042h7v52h-7zM586 2042h6v52h-6zM780 2042h6v52h-6zM900 2042h6v52h-6zM913 2042h6v52h-6zM346 2094h6v52h-6zM365 2094h6v52h-6zM396 2094h7v52h-7zM422 2094h12v52h-12zM441 2094h6v52h-6zM624 2094h6v52h-6zM805 2094h6v52h-6zM837 2094h6v52h-6zM906 2094h7v52h-7zM944 2094h6v52h-6zM220 2146h6v52h-6zM232 2146h7v52h-7zM257 2146h7v52h-7zM276 2146h7v52h-7zM377 2146h7v52h-7zM396 2146h7v52h-7zM567 2146h6v52h-6zM586 2146h6v52h-6zM605 2146h6v52h-6zM624 2146h6v52h-6zM894 2146h6v52h-6zM938 2146h19v52h-19zM201 2198h6v52h-6zM295 2198h7v52h-7zM327 2198h6v52h-6zM396 2198h7v52h-7zM422 2198h12v52h-12zM466 2198h6v52h-6zM479 2198h6v52h-6zM554 2198h7v52h-7zM611 2198h6v52h-6zM805 2198h6v52h-6zM837 2198h6v52h-6zM913 2198h6v52h-6zM1052 2198h6v52h-6zM207 2250h6v52h-6zM264 2250h6v52h-6zM295 2250h7v52h-7zM365 2250h6v52h-6zM428 2250h6v52h-6zM479 2250h6v52h-6zM491 2250h6v52h-6zM523 2250h6v52h-6zM786 2250h13v52h-13zM837 2250h6v52h-6zM950 2250h7v52h-7zM1096 2250h6v52h-6zM1108 2250h7v52h-7zM207 2302h6v52h-6zM422 2302h6v52h-6zM599 2302h6v52h-6zM944 2302h6v52h-6zM213 2354h7v52h-7zM270 2354h6v52h-6zM447 2354h6v52h-6zM554 2354h7v52h-7zM599 2354h6v52h-6zM704 2354h6v52h-6zM887 2354h7v52h-7zM1007 2354h7v52h-7zM1039 2354h6v52h-6zM1052 2354h6v52h-6zM321 2406h12v52h-12zM396 2406h7v52h-7zM516 2406h7v52h-7zM542 2406h6v52h-6zM554 2406h7v52h-7zM599 2406h12v52h-12zM786 2406h6v52h-6zM900 2406h6v52h-6zM925 2406h6v52h-6zM938 2406h12v52h-12zM1052 2406h6v52h-6zM220 2458h6v52h-6zM257 2458h7v52h-7zM270 2458h13v52h-13zM561 2458h6v52h-6zM599 2458h12v52h-12zM780 2458h6v52h-6zM799 2458h6v52h-6zM849 2458h7v52h-7zM887 2458h7v52h-7zM1083 2458h6v52h-6zM1108 2458h7v52h-7z"/></g>
<text x="1131.9" y="1504.1" class="row">KEGG_FC_EPSILON_RI_SIGNALING_PATHWAY</text>
<text x="1131.9" y="1556" class="row">KEGG_B_CELL_RECEPTOR_SIGNALING_PATHWAY</text>
<text x="1131.9" y="1607.9" class="row">KEGG_T_CELL_RECEPTOR_SIGNALING_PATHWAY</text>
<text x="1131.9" y="1659.8" class="row">KEGG_INTESTINAL_IMMUNE_NETWORK_FOR_IGA_PRODUCTION</text>
<text x="1131.9" y="1711.7" class="row">KEGG_PRIMARY_IMMUNODEFICIENCY</text>
<text x="1131.9" y="1763.6" class="row">KEGG_SYSTEMIC_LUPUS_ERYTHEMATOSUS</text>
<text x="1131.9" y="1815.5" class="row">KEGG_AUTOIMMUNE_THYROID_DISEASE</text>
<text x="1131.9" y="1867.4" class="row">KEGG_GRAFT_VERSUS_HOST_DISEASE</text>
<text x="1131.9" y="1919.3" class="row">KEGG_ALLOGRAFT_REJECTION</text>
<text x="1131.9" y="1971.2" class="row">KEGG_TYPE_I_DIABETES_MELLITUS</text>
<text x="1131.9" y="2023.1" class="row">KEGG_CELL_ADHESION_MOLECULES_CAMS</text>
<text x="1131.9" y="2075" class="row">KEGG_VIRAL_MYOCARDITIS</text>
<text x="1131.9" y="2126.9" class="row">KEGG_HEMATOPOIETIC_CELL_LINEAGE</text>
<text x="1131.9" y="2178.8" class="row">KEGG_CYTOKINE_CYTOKINE_RECEPTOR_INTERACTION</text>
<text x="1131.9" y="2230.7" class="row">KEGG_LEISHMANIA_INFECTION</text>
<text x="1131.9" y="2282.6" class="row">KEGG_NATURAL_KILLER_CELL_MEDIATED_CYTOTOXICITY</text>
<text x="1131.9" y="2334.5" class="row">KEGG_CHEMOKINE_SIGNALING_PATHWAY</text>
<text x="1131.9" y="2386.4" class="row">KEGG_GLYCOSPHINGOLIPID_BIOSYNTHESIS_GANGLIO_SERIES</text>
<text x="1131.9" y="2438.3" class="row">KEGG_LEUKOCYTE_TRANSENDOTHELIAL_MIGRATION</text>
<text x="1131.9" y="2490.2" class="row">KEGG_COMPLEMENT_AND_COAGULATION_CASCADES</text>
<path d="M194.3 1549.4H141.5V1601.3H194.3M194.3 1497.5H127.2V1575.4H141.5M194.3 1653.2H145.1V1705.1H194.3M194.3 1912.8H164.9V1964.6H194.3M194.3 1860.8H158.3V1938.7H164.9M194.3 1808.9H146.4V1899.8H158.3M194.3 1757H132.3V1854.4H146.4M145.1 1679.2H110.2V1805.7H132.3M194.3 2016.5H130.9V2068.4H194.3M194.3 2120.3H139.8V2172.2H194.3M194.3 2276H135.1V2327.9H194.3M194.3 2224.1H133V2302H135.1M139.8 2146.3H121.3V2263.1H133M130.9 2042.5H105.3V2204.7H121.3M110.2 1742.5H91.9V2123.6H105.3M127.2 1536.5H83V1933H91.9M194.3 2431.8H115.3V2483.6H194.3M194.3 2379.8H80.9V2457.7H115.3M83 1734.7H56.4V2418.8H80.9" fill="none" stroke="#000" stroke-width="2.8" stroke-linejoin="miter" stroke-linecap="butt"/>
<g shape-rendering="crispEdges"><rect x="1733" y="1788" width="26" height="8" fill="#0000FF"/><rect x="1733" y="1780" width="26" height="8" fill="#0000FF"/><rect x="1733" y="1773" width="26" height="7" fill="#0000FF"/><rect x="1733" y="1765" width="26" height="8" fill="#0000FF"/><rect x="1733" y="1757" width="26" height="8" fill="#0000FF"/><rect x="1733" y="1749" width="26" height="8" fill="#0000FF"/><rect x="1733" y="1741" width="26" height="8" fill="#0000FF"/><rect x="1733" y="1733" width="26" height="8" fill="#0000FF"/><rect x="1733" y="1725" width="26" height="8" fill="#0000FF"/><rect x="1733" y="1718" width="26" height="7" fill="#0000FF"/><rect x="1733" y="1710" width="26" height="8" fill="#0000FF"/><rect x="1733" y="1702" width="26" height="8" fill="#0000FF"/><rect x="1733" y="1694" width="26" height="8" fill="#0000FF"/><rect x="1733" y="1686" width="26" height="8" fill="#0000EF"/><rect x="1733" y="1678" width="26" height="8" fill="#0000DB"/><rect x="1733" y="1670" width="26" height="8" fill="#0000C6"/><rect x="1733" y="1663" width="26" height="7" fill="#0000B1"/><rect x="1733" y="1655" width="26" height="8" fill="#00009C"/><rect x="1733" y="1647" width="26" height="8" fill="#000087"/><rect x="1733" y="1639" width="26" height="8" fill="#000072"/><rect x="1733" y="1631" width="26" height="8" fill="#00005E"/><rect x="1733" y="1623" width="26" height="8" fill="#000049"/><rect x="1733" y="1615" width="26" height="8" fill="#000034"/><rect x="1733" y="1607" width="26" height="8" fill="#00001F"/><rect x="1733" y="1600" width="26" height="7" fill="#00000A"/><rect x="1733" y="1592" width="26" height="8" fill="#0A0A00"/><rect x="1733" y="1584" width="26" height="8" fill="#1F1F00"/><rect x="1733" y="1576" width="26" height="8" fill="#343400"/><rect x="1733" y="1568" width="26" height="8" fill="#494900"/><rect x="1733" y="1560" width="26" height="8" fill="#5E5E00"/><rect x="1733" y="1552" width="26" height="8" fill="#727200"/><rect x="1733" y="1545" width="26" height="7" fill="#878700"/><rect x="1733" y="1537" width="26" height="8" fill="#9C9C00"/><rect x="1733" y="1529" width="26" height="8" fill="#B1B100"/><rect x="1733" y="1521" width="26" height="8" fill="#C6C600"/><rect x="1733" y="1513" width="26" height="8" fill="#DBDB00"/><rect x="1733" y="1505" width="26" height="8" fill="#EFEF00"/><rect x="1733" y="1497" width="26" height="8" fill="#FFFF00"/><rect x="1733" y="1490" width="26" height="7" fill="#FFFF00"/><rect x="1733" y="1482" width="26" height="8" fill="#FFFF00"/><rect x="1733" y="1474" width="26" height="8" fill="#FFFF00"/><rect x="1733" y="1466" width="26" height="8" fill="#FFFF00"/><rect x="1733" y="1458" width="26" height="8" fill="#FFFF00"/><rect x="1733" y="1450" width="26" height="8" fill="#FFFF00"/><rect x="1733" y="1442" width="26" height="8" fill="#FFFF00"/><rect x="1733" y="1434" width="26" height="8" fill="#FFFF00"/><rect x="1733" y="1427" width="26" height="7" fill="#FFFF00"/><rect x="1733" y="1419" width="26" height="8" fill="#FFFF00"/><rect x="1733" y="1411" width="26" height="8" fill="#FFFF00"/><rect x="1733" y="1403" width="26" height="8" fill="#FFFF00"/></g>
<text x="1770.3" y="1425.9" class="tick">2</text>
<text x="1770.3" y="1517.2" class="tick">1</text>
<text x="1770.3" y="1608.5" class="tick">0</text>
<text x="1770.3" y="1699.8" class="tick">−1</text>
<text x="1770.3" y="1791.1" class="tick">−2</text>
<text x="1808.6" y="1421.8" class="ann">cluster</text>
<rect x="1808.6" y="1431.7" width="37.5" height="37.5" fill="#0066FF"/>
<rect x="1808.6" y="1469.2" width="37.5" height="37.5" fill="#FF9900"/>
<text x="1854.3" y="1459.8" class="leg">A</text>
<text x="1854.3" y="1497.2" class="leg">B</text>
<text x="1808.6" y="1552.8" class="ann">Project</text>
<rect x="1808.6" y="1563.7" width="37.5" height="37.2" fill="#00D65C"/>
<text x="1854.3" y="1590.6" class="leg">Sepsis</text>
<text x="49.4" y="2623.2" class="let">C</text>
<text x="260.5" y="2673.5" class="big">Reactome</text>
<rect x="194.3" y="2689.7" width="206.9" height="26.3" fill="#0066FF"/>
<rect x="194.3" y="2721.2" width="206.9" height="26.1" fill="#00D65C"/>
<rect x="411.6" y="2689.7" width="224.3" height="26.3" fill="#FF9900"/>
<rect x="411.6" y="2721.2" width="224.3" height="26.1" fill="#00D65C"/>
<text x="653.9" y="2712.1" class="ann">cluster</text>
<text x="653.9" y="2743.1" class="ann">Project</text>
<g shape-rendering="crispEdges"><path fill="#0000FF" d="M194 2755h6v52h-6zM203 2755h9v52h-9zM218 2755h3v52h-3zM236 2755h12v52h-12zM254 2755h3v52h-3zM275 2755h3v52h-3zM287 2755h3v52h-3zM296 2755h9v52h-9zM314 2755h12v52h-12zM335 2755h3v52h-3zM353 2755h6v52h-6zM386 2755h6v52h-6zM200 2807h6v52h-6zM215 2807h9v52h-9zM233 2807h6v52h-6zM251 2807h6v52h-6zM269 2807h9v52h-9zM287 2807h3v52h-3zM302 2807h3v52h-3zM317 2807h6v52h-6zM326 2807h6v52h-6zM341 2807h3v52h-3zM350 2807h9v52h-9zM362 2807h12v52h-12zM215 2859h3v52h-3zM221 2859h3v52h-3zM227 2859h3v52h-3zM233 2859h6v52h-6zM242 2859h3v52h-3zM251 2859h9v52h-9zM269 2859h3v52h-3zM284 2859h6v52h-6zM293 2859h3v52h-3zM302 2859h3v52h-3zM317 2859h12v52h-12zM341 2859h3v52h-3zM350 2859h9v52h-9zM362 2859h6v52h-6zM371 2859h9v52h-9zM194 2911h3v52h-3zM203 2911h9v52h-9zM215 2911h9v52h-9zM227 2911h3v52h-3zM233 2911h3v52h-3zM242 2911h9v52h-9zM257 2911h3v52h-3zM272 2911h3v52h-3zM281 2911h9v52h-9zM293 2911h6v52h-6zM302 2911h3v52h-3zM314 2911h15v52h-15zM335 2911h3v52h-3zM341 2911h6v52h-6zM350 2911h9v52h-9zM365 2911h3v52h-3zM377 2911h3v52h-3zM395 2911h6v52h-6zM194 2963h6v51h-6zM203 2963h9v51h-9zM215 2963h3v51h-3zM224 2963h3v51h-3zM233 2963h3v51h-3zM242 2963h9v51h-9zM254 2963h3v51h-3zM281 2963h9v51h-9zM293 2963h3v51h-3zM302 2963h3v51h-3zM317 2963h15v51h-15zM335 2963h3v51h-3zM341 2963h6v51h-6zM350 2963h9v51h-9zM362 2963h6v51h-6zM386 2963h3v51h-3zM564 2963h6v51h-6zM194 3014h6v52h-6zM203 3014h9v52h-9zM218 3014h6v52h-6zM236 3014h3v52h-3zM242 3014h6v52h-6zM251 3014h3v52h-3zM263 3014h3v52h-3zM269 3014h6v52h-6zM281 3014h9v52h-9zM293 3014h3v52h-3zM302 3014h3v52h-3zM317 3014h15v52h-15zM335 3014h3v52h-3zM344 3014h3v52h-3zM350 3014h9v52h-9zM368 3014h3v52h-3zM389 3014h3v52h-3zM395 3014h6v52h-6zM194 3066h6v52h-6zM203 3066h9v52h-9zM218 3066h3v52h-3zM227 3066h3v52h-3zM236 3066h3v52h-3zM242 3066h9v52h-9zM263 3066h3v52h-3zM269 3066h6v52h-6zM293 3066h6v52h-6zM302 3066h3v52h-3zM317 3066h15v52h-15zM341 3066h3v52h-3zM350 3066h9v52h-9zM368 3066h3v52h-3zM389 3066h3v52h-3zM395 3066h6v52h-6zM415 3118h6v52h-6zM424 3118h9v52h-9zM442 3118h14v52h-14zM462 3118h6v52h-6zM471 3118h3v52h-3zM492 3118h3v52h-3zM498 3118h6v52h-6zM507 3118h3v52h-3zM513 3118h6v52h-6zM522 3118h3v52h-3zM540 3118h3v52h-3zM224 3170h3v52h-3zM415 3170h6v52h-6zM424 3170h3v52h-3zM430 3170h3v52h-3zM444 3170h12v52h-12zM459 3170h9v52h-9zM483 3170h3v52h-3zM492 3170h3v52h-3zM498 3170h6v52h-6zM513 3170h12v52h-12zM540 3170h6v52h-6zM412 3222h9v51h-9zM427 3222h35v51h-35zM483 3222h3v51h-3zM492 3222h3v51h-3zM498 3222h6v51h-6zM507 3222h3v51h-3zM513 3222h12v51h-12zM567 3222h6v51h-6zM582 3222h3v51h-3zM606 3222h6v51h-6zM630 3222h6v51h-6zM412 3273h35v52h-35zM450 3273h15v52h-15zM471 3273h3v52h-3zM492 3273h3v52h-3zM498 3273h6v52h-6zM507 3273h3v52h-3zM513 3273h6v52h-6zM561 3273h3v52h-3zM567 3273h6v52h-6zM609 3273h6v52h-6zM618 3273h3v52h-3zM630 3273h3v52h-3zM311 3325h6v52h-6zM412 3325h15v52h-15zM430 3325h6v52h-6zM439 3325h29v52h-29zM471 3325h6v52h-6zM480 3325h6v52h-6zM492 3325h3v52h-3zM498 3325h6v52h-6zM507 3325h3v52h-3zM513 3325h6v52h-6zM522 3325h6v52h-6zM561 3325h12v52h-12zM579 3325h6v52h-6zM591 3325h6v52h-6zM606 3325h3v52h-3zM412 3377h15v52h-15zM430 3377h26v52h-26zM459 3377h18v52h-18zM480 3377h9v52h-9zM492 3377h3v52h-3zM498 3377h6v52h-6zM507 3377h3v52h-3zM516 3377h6v52h-6zM543 3377h3v52h-3zM561 3377h12v52h-12zM579 3377h6v52h-6zM412 3429h9v52h-9zM424 3429h3v52h-3zM430 3429h6v52h-6zM439 3429h35v52h-35zM483 3429h6v52h-6zM492 3429h3v52h-3zM498 3429h6v52h-6zM507 3429h3v52h-3zM513 3429h3v52h-3zM531 3429h3v52h-3zM561 3429h3v52h-3zM573 3429h3v52h-3zM594 3429h3v52h-3zM615 3429h6v52h-6zM412 3481h21v51h-21zM436 3481h6v51h-6zM444 3481h6v51h-6zM453 3481h9v51h-9zM465 3481h15v51h-15zM498 3481h18v51h-18zM519 3481h9v51h-9zM537 3481h3v51h-3zM543 3481h3v51h-3zM564 3481h3v51h-3zM573 3481h3v51h-3zM588 3481h3v51h-3zM609 3481h6v51h-6zM630 3481h6v51h-6zM412 3532h12v52h-12zM427 3532h6v52h-6zM436 3532h8v52h-8zM450 3532h3v52h-3zM456 3532h3v52h-3zM462 3532h3v52h-3zM471 3532h3v52h-3zM477 3532h6v52h-6zM486 3532h18v52h-18zM507 3532h3v52h-3zM513 3532h9v52h-9zM540 3532h3v52h-3zM561 3532h3v52h-3zM567 3532h9v52h-9zM582 3532h3v52h-3zM588 3532h3v52h-3zM618 3532h3v52h-3zM624 3532h3v52h-3zM630 3532h6v52h-6zM260 3584h3v52h-3zM383 3584h3v52h-3zM412 3584h9v52h-9zM424 3584h9v52h-9zM436 3584h11v52h-11zM450 3584h3v52h-3zM456 3584h12v52h-12zM471 3584h6v52h-6zM483 3584h3v52h-3zM489 3584h15v52h-15zM507 3584h3v52h-3zM513 3584h15v52h-15zM543 3584h3v52h-3zM561 3584h3v52h-3zM570 3584h3v52h-3zM585 3584h6v52h-6zM627 3584h6v52h-6zM239 3636h3v52h-3zM260 3636h3v52h-3zM412 3636h9v52h-9zM424 3636h3v52h-3zM430 3636h3v52h-3zM439 3636h35v52h-35zM477 3636h3v52h-3zM483 3636h3v52h-3zM489 3636h9v52h-9zM501 3636h3v52h-3zM507 3636h3v52h-3zM516 3636h12v52h-12zM543 3636h3v52h-3zM561 3636h3v52h-3zM570 3636h6v52h-6zM582 3636h3v52h-3zM588 3636h3v52h-3zM603 3636h15v52h-15zM627 3636h9v52h-9zM239 3688h3v52h-3zM412 3688h44v52h-44zM459 3688h18v52h-18zM483 3688h6v52h-6zM492 3688h12v52h-12zM507 3688h3v52h-3zM513 3688h12v52h-12zM543 3688h3v52h-3zM567 3688h9v52h-9zM579 3688h6v52h-6zM609 3688h3v52h-3zM624 3688h3v52h-3zM260 3740h3v52h-3zM412 3740h18v52h-18zM433 3740h3v52h-3zM439 3740h14v52h-14zM456 3740h12v52h-12zM471 3740h6v52h-6zM480 3740h6v52h-6zM489 3740h6v52h-6zM498 3740h6v52h-6zM507 3740h3v52h-3zM513 3740h12v52h-12zM540 3740h6v52h-6zM561 3740h12v52h-12zM618 3740h3v52h-3zM630 3740h6v52h-6z"/>
<path fill="#0000BE" d="M200 2755h3v52h-3zM230 2755h3v52h-3zM248 2755h3v52h-3zM263 2755h3v52h-3zM329 2755h3v52h-3zM344 2755h9v52h-9zM377 2755h3v52h-3zM433 2755h3v52h-3zM483 2755h3v52h-3zM525 2755h6v52h-6zM552 2755h3v52h-3zM567 2755h3v52h-3zM197 2807h3v52h-3zM227 2807h3v52h-3zM242 2807h6v52h-6zM257 2807h3v52h-3zM284 2807h3v52h-3zM293 2807h6v52h-6zM305 2807h3v52h-3zM323 2807h3v52h-3zM374 2807h6v52h-6zM389 2807h3v52h-3zM433 2807h3v52h-3zM483 2807h3v52h-3zM528 2807h3v52h-3zM537 2807h3v52h-3zM594 2807h6v52h-6zM194 2859h3v52h-3zM209 2859h3v52h-3zM224 2859h3v52h-3zM239 2859h3v52h-3zM245 2859h6v52h-6zM272 2859h6v52h-6zM305 2859h3v52h-3zM329 2859h3v52h-3zM368 2859h3v52h-3zM386 2859h6v52h-6zM433 2859h3v52h-3zM483 2859h3v52h-3zM525 2859h6v52h-6zM564 2859h3v52h-3zM197 2911h3v52h-3zM251 2911h6v52h-6zM269 2911h3v52h-3zM275 2911h3v52h-3zM329 2911h3v52h-3zM338 2911h3v52h-3zM362 2911h3v52h-3zM368 2911h3v52h-3zM386 2911h3v52h-3zM433 2911h3v52h-3zM531 2911h3v52h-3zM546 2911h6v52h-6zM218 2963h6v51h-6zM227 2963h3v51h-3zM236 2963h3v51h-3zM296 2963h3v51h-3zM305 2963h3v51h-3zM338 2963h3v51h-3zM347 2963h3v51h-3zM368 2963h3v51h-3zM389 2963h3v51h-3zM433 2963h3v51h-3zM480 2963h6v51h-6zM537 2963h3v51h-3zM594 2963h6v51h-6zM227 3014h6v52h-6zM248 3014h3v52h-3zM266 3014h3v52h-3zM296 3014h3v52h-3zM338 3014h6v52h-6zM347 3014h3v52h-3zM365 3014h3v52h-3zM386 3014h3v52h-3zM433 3014h3v52h-3zM483 3014h3v52h-3zM537 3014h3v52h-3zM552 3014h3v52h-3zM567 3014h3v52h-3zM224 3066h3v52h-3zM230 3066h3v52h-3zM251 3066h3v52h-3zM266 3066h3v52h-3zM281 3066h9v52h-9zM335 3066h6v52h-6zM344 3066h6v52h-6zM362 3066h6v52h-6zM386 3066h3v52h-3zM433 3066h3v52h-3zM483 3066h6v52h-6zM537 3066h3v52h-3zM567 3066h3v52h-3zM260 3118h3v52h-3zM275 3118h6v52h-6zM314 3118h3v52h-3zM386 3118h3v52h-3zM421 3118h3v52h-3zM456 3118h3v52h-3zM519 3118h3v52h-3zM525 3118h3v52h-3zM531 3118h3v52h-3zM543 3118h3v52h-3zM561 3118h9v52h-9zM579 3118h3v52h-3zM588 3118h6v52h-6zM600 3118h6v52h-6zM615 3118h3v52h-3zM624 3118h3v52h-3zM308 3170h3v52h-3zM314 3170h3v52h-3zM338 3170h3v52h-3zM386 3170h3v52h-3zM398 3170h3v52h-3zM421 3170h3v52h-3zM456 3170h3v52h-3zM468 3170h6v52h-6zM525 3170h3v52h-3zM531 3170h6v52h-6zM552 3170h9v52h-9zM573 3170h9v52h-9zM588 3170h6v52h-6zM597 3170h6v52h-6zM615 3170h3v52h-3zM624 3170h3v52h-3zM260 3222h3v51h-3zM278 3222h3v51h-3zM311 3222h6v51h-6zM338 3222h3v51h-3zM383 3222h6v51h-6zM424 3222h3v51h-3zM462 3222h3v51h-3zM471 3222h3v51h-3zM480 3222h3v51h-3zM525 3222h3v51h-3zM531 3222h3v51h-3zM561 3222h3v51h-3zM573 3222h9v51h-9zM585 3222h3v51h-3zM591 3222h3v51h-3zM600 3222h6v51h-6zM612 3222h12v51h-12zM224 3273h3v52h-3zM278 3273h3v52h-3zM311 3273h6v52h-6zM447 3273h3v52h-3zM525 3273h3v52h-3zM531 3273h3v52h-3zM564 3273h3v52h-3zM573 3273h3v52h-3zM579 3273h9v52h-9zM591 3273h6v52h-6zM615 3273h3v52h-3zM621 3273h6v52h-6zM633 3273h3v52h-3zM239 3325h3v52h-3zM251 3325h3v52h-3zM260 3325h3v52h-3zM305 3325h3v52h-3zM338 3325h3v52h-3zM383 3325h3v52h-3zM531 3325h3v52h-3zM573 3325h3v52h-3zM585 3325h3v52h-3zM597 3325h3v52h-3zM603 3325h3v52h-3zM609 3325h3v52h-3zM624 3325h3v52h-3zM633 3325h3v52h-3zM239 3377h6v52h-6zM251 3377h3v52h-3zM278 3377h3v52h-3zM299 3377h3v52h-3zM308 3377h3v52h-3zM314 3377h3v52h-3zM338 3377h3v52h-3zM383 3377h3v52h-3zM573 3377h3v52h-3zM585 3377h3v52h-3zM609 3377h3v52h-3zM624 3377h3v52h-3zM633 3377h3v52h-3zM242 3429h3v52h-3zM278 3429h3v52h-3zM338 3429h3v52h-3zM421 3429h3v52h-3zM516 3429h3v52h-3zM522 3429h6v52h-6zM546 3429h3v52h-3zM564 3429h9v52h-9zM579 3429h9v52h-9zM597 3429h3v52h-3zM603 3429h3v52h-3zM609 3429h3v52h-3zM621 3429h6v52h-6zM260 3481h6v51h-6zM278 3481h3v51h-3zM299 3481h3v51h-3zM305 3481h6v51h-6zM332 3481h3v51h-3zM462 3481h3v51h-3zM516 3481h3v51h-3zM534 3481h3v51h-3zM555 3481h3v51h-3zM576 3481h3v51h-3zM591 3481h3v51h-3zM624 3481h3v51h-3zM239 3532h3v52h-3zM338 3532h6v52h-6zM453 3532h3v52h-3zM474 3532h3v52h-3zM504 3532h3v52h-3zM543 3532h3v52h-3zM552 3532h3v52h-3zM564 3532h3v52h-3zM576 3532h6v52h-6zM591 3532h3v52h-3zM609 3532h3v52h-3zM615 3532h3v52h-3zM239 3584h3v52h-3zM468 3584h3v52h-3zM564 3584h6v52h-6zM573 3584h3v52h-3zM579 3584h3v52h-3zM591 3584h3v52h-3zM603 3584h18v52h-18zM263 3636h3v52h-3zM368 3636h3v52h-3zM421 3636h3v52h-3zM427 3636h3v52h-3zM564 3636h6v52h-6zM591 3636h3v52h-3zM618 3636h3v52h-3zM278 3688h3v52h-3zM299 3688h3v52h-3zM338 3688h3v52h-3zM561 3688h6v52h-6zM585 3688h3v52h-3zM612 3688h6v52h-6zM299 3740h3v52h-3zM453 3740h3v52h-3zM504 3740h3v52h-3zM525 3740h3v52h-3zM573 3740h6v52h-6zM591 3740h6v52h-6zM621 3740h3v52h-3z"/>
<path fill="#878700" d="M212 2755h3v52h-3zM260 2755h3v52h-3zM332 2755h3v52h-3zM436 2755h3v52h-3zM456 2755h3v52h-3zM471 2755h3v52h-3zM495 2755h3v52h-3zM555 2755h3v52h-3zM561 2755h3v52h-3zM576 2755h3v52h-3zM594 2755h3v52h-3zM612 2755h3v52h-3zM212 2807h3v52h-3zM230 2807h3v52h-3zM290 2807h3v52h-3zM308 2807h3v52h-3zM498 2807h3v52h-3zM516 2807h3v52h-3zM522 2807h3v52h-3zM540 2807h3v52h-3zM558 2807h3v52h-3zM576 2807h3v52h-3zM591 2807h3v52h-3zM606 2807h3v52h-3zM618 2807h3v52h-3zM230 2859h3v52h-3zM263 2859h3v52h-3zM308 2859h3v52h-3zM383 2859h3v52h-3zM424 2859h3v52h-3zM534 2859h3v52h-3zM558 2859h3v52h-3zM576 2859h3v52h-3zM582 2859h3v52h-3zM618 2859h3v52h-3zM332 2911h3v52h-3zM421 2911h3v52h-3zM474 2911h3v52h-3zM489 2911h3v52h-3zM504 2911h3v52h-3zM540 2911h6v52h-6zM552 2911h3v52h-3zM576 2911h3v52h-3zM594 2911h3v52h-3zM200 2963h3v51h-3zM212 2963h3v51h-3zM332 2963h3v51h-3zM383 2963h3v51h-3zM540 2963h3v51h-3zM555 2963h6v51h-6zM600 2963h3v51h-3zM200 3014h3v52h-3zM278 3014h3v52h-3zM314 3014h3v52h-3zM332 3014h3v52h-3zM392 3014h3v52h-3zM447 3014h3v52h-3zM477 3014h6v52h-6zM489 3014h9v52h-9zM510 3014h3v52h-3zM516 3014h3v52h-3zM531 3014h3v52h-3zM555 3014h3v52h-3zM570 3014h3v52h-3zM600 3014h3v52h-3zM618 3014h3v52h-3zM627 3014h3v52h-3zM200 3066h3v52h-3zM257 3066h3v52h-3zM278 3066h3v52h-3zM290 3066h3v52h-3zM314 3066h3v52h-3zM332 3066h3v52h-3zM427 3066h3v52h-3zM447 3066h3v52h-3zM480 3066h3v52h-3zM495 3066h3v52h-3zM504 3066h3v52h-3zM543 3066h3v52h-3zM555 3066h3v52h-3zM594 3066h3v52h-3zM618 3066h3v52h-3zM627 3066h3v52h-3zM200 3118h6v52h-6zM248 3118h3v52h-3zM510 3118h3v52h-3zM546 3118h6v52h-6zM221 3170h3v52h-3zM230 3170h3v52h-3zM242 3170h3v52h-3zM248 3170h3v52h-3zM263 3170h6v52h-6zM311 3170h3v52h-3zM347 3170h3v52h-3zM412 3170h3v52h-3zM433 3170h3v52h-3zM439 3170h3v52h-3zM486 3170h3v52h-3zM537 3170h3v52h-3zM582 3170h3v52h-3zM200 3222h3v51h-3zM299 3222h3v51h-3zM308 3222h3v51h-3zM549 3222h3v51h-3zM221 3273h3v52h-3zM242 3273h3v52h-3zM386 3273h6v52h-6zM398 3273h3v52h-3zM489 3273h3v52h-3zM510 3273h3v52h-3zM546 3273h3v52h-3zM588 3273h3v52h-3zM224 3325h3v52h-3zM230 3325h3v52h-3zM329 3325h3v52h-3zM347 3325h3v52h-3zM365 3325h9v52h-9zM386 3325h3v52h-3zM477 3325h3v52h-3zM489 3325h3v52h-3zM510 3325h3v52h-3zM537 3325h3v52h-3zM558 3325h3v52h-3zM576 3325h3v52h-3zM588 3325h3v52h-3zM627 3325h3v52h-3zM248 3377h3v52h-3zM302 3377h6v52h-6zM347 3377h3v52h-3zM389 3377h3v52h-3zM546 3377h3v52h-3zM558 3377h3v52h-3zM197 3429h3v52h-3zM248 3429h3v52h-3zM275 3429h3v52h-3zM284 3429h3v52h-3zM335 3429h3v52h-3zM347 3429h3v52h-3zM495 3429h3v52h-3zM600 3429h3v52h-3zM203 3481h3v51h-3zM209 3481h3v51h-3zM230 3481h6v51h-6zM275 3481h3v51h-3zM395 3481h3v51h-3zM433 3481h3v51h-3zM495 3481h3v51h-3zM540 3481h3v51h-3zM585 3481h3v51h-3zM242 3532h3v52h-3zM257 3532h3v52h-3zM263 3532h3v52h-3zM386 3532h3v52h-3zM392 3532h3v52h-3zM558 3532h3v52h-3zM600 3532h3v52h-3zM254 3584h6v52h-6zM266 3584h3v52h-3zM374 3584h3v52h-3zM395 3584h3v52h-3zM528 3584h9v52h-9zM549 3584h6v52h-6zM597 3584h3v52h-3zM275 3636h3v52h-3zM326 3636h3v52h-3zM344 3636h3v52h-3zM398 3636h3v52h-3zM621 3636h3v52h-3zM254 3688h6v52h-6zM263 3688h3v52h-3zM290 3688h3v52h-3zM326 3688h3v52h-3zM335 3688h3v52h-3zM392 3688h3v52h-3zM477 3688h3v52h-3zM528 3688h6v52h-6zM552 3688h3v52h-3zM597 3688h6v52h-6zM203 3740h3v52h-3zM209 3740h3v52h-3zM221 3740h6v52h-6zM257 3740h3v52h-3zM275 3740h9v52h-9zM495 3740h3v52h-3zM603 3740h3v52h-3zM627 3740h3v52h-3z"/>
<path fill="#C3C300" d="M215 2755h3v52h-3zM266 2755h3v52h-3zM290 2755h3v52h-3zM359 2755h3v52h-3zM371 2755h3v52h-3zM462 2755h3v52h-3zM513 2755h3v52h-3zM522 2755h3v52h-3zM531 2755h6v52h-6zM347 2807h3v52h-3zM380 2807h3v52h-3zM424 2807h3v52h-3zM480 2807h3v52h-3zM489 2807h3v52h-3zM501 2807h3v52h-3zM555 2807h3v52h-3zM588 2807h3v52h-3zM415 2859h3v52h-3zM501 2859h3v52h-3zM513 2859h6v52h-6zM540 2859h3v52h-3zM555 2859h3v52h-3zM609 2859h3v52h-3zM290 2911h3v52h-3zM392 2911h3v52h-3zM418 2911h3v52h-3zM427 2911h3v52h-3zM442 2911h2v52h-2zM492 2911h6v52h-6zM510 2911h3v52h-3zM519 2911h3v52h-3zM570 2911h3v52h-3zM579 2911h6v52h-6zM588 2911h3v52h-3zM618 2911h3v52h-3zM260 2963h3v51h-3zM290 2963h3v51h-3zM308 2963h3v51h-3zM421 2963h3v51h-3zM427 2963h3v51h-3zM436 2963h3v51h-3zM477 2963h3v51h-3zM489 2963h3v51h-3zM498 2963h3v51h-3zM510 2963h3v51h-3zM543 2963h3v51h-3zM573 2963h3v51h-3zM591 2963h3v51h-3zM627 2963h3v51h-3zM257 3014h6v52h-6zM299 3014h3v52h-3zM380 3014h3v52h-3zM418 3014h3v52h-3zM424 3014h3v52h-3zM436 3014h3v52h-3zM442 3014h2v52h-2zM498 3014h3v52h-3zM504 3014h3v52h-3zM546 3014h3v52h-3zM573 3014h3v52h-3zM585 3014h6v52h-6zM603 3014h3v52h-3zM299 3066h3v52h-3zM392 3066h3v52h-3zM424 3066h3v52h-3zM430 3066h3v52h-3zM436 3066h3v52h-3zM489 3066h6v52h-6zM498 3066h3v52h-3zM510 3066h3v52h-3zM531 3066h3v52h-3zM546 3066h3v52h-3zM570 3066h3v52h-3zM588 3066h6v52h-6zM606 3066h3v52h-3zM209 3118h3v52h-3zM302 3118h3v52h-3zM356 3118h3v52h-3zM362 3118h6v52h-6zM392 3118h6v52h-6zM504 3118h3v52h-3zM528 3118h3v52h-3zM534 3118h6v52h-6zM302 3170h3v52h-3zM332 3170h3v52h-3zM344 3170h3v52h-3zM362 3170h3v52h-3zM383 3170h3v52h-3zM209 3222h3v51h-3zM230 3222h3v51h-3zM242 3222h3v51h-3zM275 3222h3v51h-3zM302 3222h3v51h-3zM362 3222h3v51h-3zM389 3222h3v51h-3zM395 3222h3v51h-3zM495 3222h3v51h-3zM510 3222h3v51h-3zM534 3222h3v51h-3zM200 3273h3v52h-3zM209 3273h3v52h-3zM284 3273h3v52h-3zM356 3273h6v52h-6zM504 3273h3v52h-3zM528 3273h3v52h-3zM549 3273h3v52h-3zM197 3325h3v52h-3zM227 3325h3v52h-3zM254 3325h3v52h-3zM284 3325h3v52h-3zM302 3325h3v52h-3zM320 3325h3v52h-3zM392 3325h3v52h-3zM528 3325h3v52h-3zM534 3325h3v52h-3zM221 3377h6v52h-6zM245 3377h3v52h-3zM275 3377h3v52h-3zM311 3377h3v52h-3zM386 3377h3v52h-3zM537 3377h3v52h-3zM576 3377h3v52h-3zM203 3429h3v52h-3zM227 3429h3v52h-3zM257 3429h3v52h-3zM281 3429h3v52h-3zM305 3429h3v52h-3zM320 3429h3v52h-3zM329 3429h3v52h-3zM386 3429h9v52h-9zM398 3429h3v52h-3zM212 3481h6v51h-6zM227 3481h3v51h-3zM257 3481h3v51h-3zM311 3481h3v51h-3zM356 3481h3v51h-3zM203 3532h3v52h-3zM209 3532h3v52h-3zM215 3532h3v52h-3zM224 3532h6v52h-6zM335 3532h3v52h-3zM359 3532h3v52h-3zM365 3532h3v52h-3zM389 3532h3v52h-3zM537 3532h3v52h-3zM594 3532h3v52h-3zM612 3532h3v52h-3zM203 3584h3v52h-3zM221 3584h3v52h-3zM230 3584h3v52h-3zM305 3584h3v52h-3zM320 3584h3v52h-3zM326 3584h3v52h-3zM344 3584h3v52h-3zM359 3584h3v52h-3zM371 3584h3v52h-3zM197 3636h3v52h-3zM203 3636h12v52h-12zM236 3636h3v52h-3zM245 3636h3v52h-3zM281 3636h3v52h-3zM365 3636h3v52h-3zM371 3636h3v52h-3zM380 3636h3v52h-3zM480 3636h3v52h-3zM528 3636h9v52h-9zM206 3688h3v52h-3zM224 3688h3v52h-3zM320 3688h3v52h-3zM380 3688h3v52h-3zM389 3688h3v52h-3zM504 3688h3v52h-3zM555 3688h6v52h-6zM200 3740h3v52h-3zM212 3740h9v52h-9zM263 3740h6v52h-6zM305 3740h3v52h-3zM320 3740h3v52h-3zM365 3740h9v52h-9zM528 3740h6v52h-6zM552 3740h3v52h-3zM597 3740h3v52h-3zM624 3740h3v52h-3z"/>
<path fill="#00007D" d="M221 2755h3v52h-3zM227 2755h3v52h-3zM281 2755h3v52h-3zM311 2755h3v52h-3zM326 2755h3v52h-3zM341 2755h3v52h-3zM362 2755h9v52h-9zM380 2755h3v52h-3zM392 2755h9v52h-9zM412 2755h3v52h-3zM474 2755h3v52h-3zM486 2755h3v52h-3zM537 2755h6v52h-6zM564 2755h3v52h-3zM206 2807h3v52h-3zM224 2807h3v52h-3zM239 2807h3v52h-3zM278 2807h3v52h-3zM311 2807h6v52h-6zM344 2807h3v52h-3zM386 2807h3v52h-3zM398 2807h3v52h-3zM504 2807h3v52h-3zM564 2807h3v52h-3zM633 2807h3v52h-3zM197 2859h12v52h-12zM218 2859h3v52h-3zM296 2859h3v52h-3zM314 2859h3v52h-3zM335 2859h6v52h-6zM344 2859h3v52h-3zM359 2859h3v52h-3zM395 2859h6v52h-6zM504 2859h3v52h-3zM537 2859h3v52h-3zM549 2859h6v52h-6zM594 2859h9v52h-9zM200 2911h3v52h-3zM212 2911h3v52h-3zM230 2911h3v52h-3zM236 2911h3v52h-3zM311 2911h3v52h-3zM347 2911h3v52h-3zM371 2911h3v52h-3zM380 2911h3v52h-3zM477 2911h3v52h-3zM537 2911h3v52h-3zM555 2911h6v52h-6zM600 2911h3v52h-3zM251 2963h3v51h-3zM257 2963h3v51h-3zM269 2963h9v51h-9zM377 2963h3v51h-3zM398 2963h3v51h-3zM456 2963h3v51h-3zM486 2963h3v51h-3zM525 2963h3v51h-3zM549 2963h6v51h-6zM585 2963h3v51h-3zM215 3014h3v52h-3zM224 3014h3v52h-3zM233 3014h3v52h-3zM254 3014h3v52h-3zM275 3014h3v52h-3zM311 3014h3v52h-3zM362 3014h3v52h-3zM377 3014h3v52h-3zM456 3014h3v52h-3zM486 3014h3v52h-3zM549 3014h3v52h-3zM558 3014h3v52h-3zM215 3066h3v52h-3zM221 3066h3v52h-3zM233 3066h3v52h-3zM254 3066h3v52h-3zM275 3066h3v52h-3zM311 3066h3v52h-3zM377 3066h3v52h-3zM456 3066h3v52h-3zM474 3066h3v52h-3zM540 3066h3v52h-3zM224 3118h3v52h-3zM308 3118h3v52h-3zM338 3118h3v52h-3zM389 3118h3v52h-3zM436 3118h6v52h-6zM468 3118h3v52h-3zM474 3118h3v52h-3zM483 3118h3v52h-3zM552 3118h9v52h-9zM573 3118h6v52h-6zM582 3118h6v52h-6zM597 3118h3v52h-3zM606 3118h6v52h-6zM633 3118h3v52h-3zM251 3170h3v52h-3zM260 3170h3v52h-3zM278 3170h3v52h-3zM290 3170h3v52h-3zM299 3170h3v52h-3zM389 3170h3v52h-3zM427 3170h3v52h-3zM442 3170h2v52h-2zM477 3170h3v52h-3zM504 3170h9v52h-9zM561 3170h3v52h-3zM585 3170h3v52h-3zM603 3170h3v52h-3zM609 3170h6v52h-6zM630 3170h6v52h-6zM203 3222h3v51h-3zM224 3222h3v51h-3zM251 3222h3v51h-3zM320 3222h3v51h-3zM421 3222h3v51h-3zM465 3222h6v51h-6zM474 3222h6v51h-6zM540 3222h6v51h-6zM558 3222h3v51h-3zM564 3222h3v51h-3zM594 3222h3v51h-3zM239 3273h3v52h-3zM290 3273h3v52h-3zM299 3273h3v52h-3zM308 3273h3v52h-3zM338 3273h3v52h-3zM383 3273h3v52h-3zM468 3273h3v52h-3zM483 3273h6v52h-6zM519 3273h6v52h-6zM540 3273h6v52h-6zM552 3273h3v52h-3zM558 3273h3v52h-3zM597 3273h9v52h-9zM275 3325h6v52h-6zM299 3325h3v52h-3zM427 3325h3v52h-3zM468 3325h3v52h-3zM540 3325h3v52h-3zM600 3325h3v52h-3zM615 3325h9v52h-9zM230 3377h3v52h-3zM326 3377h3v52h-3zM495 3377h3v52h-3zM522 3377h6v52h-6zM531 3377h6v52h-6zM588 3377h15v52h-15zM612 3377h12v52h-12zM627 3377h6v52h-6zM251 3429h3v52h-3zM260 3429h3v52h-3zM290 3429h3v52h-3zM332 3429h3v52h-3zM383 3429h3v52h-3zM480 3429h3v52h-3zM519 3429h3v52h-3zM576 3429h3v52h-3zM591 3429h3v52h-3zM606 3429h3v52h-3zM266 3481h3v51h-3zM371 3481h3v51h-3zM480 3481h6v51h-6zM546 3481h3v51h-3zM558 3481h3v51h-3zM567 3481h3v51h-3zM582 3481h3v51h-3zM603 3481h3v51h-3zM615 3481h3v51h-3zM621 3481h3v51h-3zM278 3532h3v52h-3zM299 3532h3v52h-3zM314 3532h3v52h-3zM326 3532h3v52h-3zM332 3532h3v52h-3zM344 3532h6v52h-6zM371 3532h3v52h-3zM380 3532h3v52h-3zM395 3532h6v52h-6zM424 3532h3v52h-3zM459 3532h3v52h-3zM555 3532h3v52h-3zM585 3532h3v52h-3zM606 3532h3v52h-3zM627 3532h3v52h-3zM263 3584h3v52h-3zM278 3584h3v52h-3zM314 3584h3v52h-3zM332 3584h3v52h-3zM380 3584h3v52h-3zM392 3584h3v52h-3zM421 3584h3v52h-3zM447 3584h3v52h-3zM576 3584h3v52h-3zM633 3584h3v52h-3zM278 3636h3v52h-3zM314 3636h3v52h-3zM338 3636h6v52h-6zM433 3636h6v52h-6zM498 3636h3v52h-3zM504 3636h3v52h-3zM540 3636h3v52h-3zM585 3636h3v52h-3zM260 3688h3v52h-3zM332 3688h3v52h-3zM347 3688h3v52h-3zM456 3688h3v52h-3zM525 3688h3v52h-3zM534 3688h3v52h-3zM540 3688h3v52h-3zM576 3688h3v52h-3zM588 3688h9v52h-9zM618 3688h3v52h-3zM627 3688h9v52h-9zM308 3740h3v52h-3zM344 3740h6v52h-6zM389 3740h3v52h-3zM398 3740h3v52h-3zM430 3740h3v52h-3zM436 3740h3v52h-3zM579 3740h9v52h-9zM606 3740h9v52h-9z"/>
<path fill="#00003C" d="M224 2755h3v52h-3zM233 2755h3v52h-3zM251 2755h3v52h-3zM269 2755h3v52h-3zM278 2755h3v52h-3zM284 2755h3v52h-3zM305 2755h6v52h-6zM338 2755h3v52h-3zM248 2807h3v52h-3zM338 2807h3v52h-3zM359 2807h3v52h-3zM395 2807h3v52h-3zM474 2807h6v52h-6zM567 2807h3v52h-3zM332 2859h3v52h-3zM347 2859h3v52h-3zM477 2859h3v52h-3zM567 2859h3v52h-3zM591 2859h3v52h-3zM224 2911h3v52h-3zM305 2911h3v52h-3zM359 2911h3v52h-3zM389 2911h3v52h-3zM456 2911h3v52h-3zM483 2911h3v52h-3zM230 2963h3v51h-3zM311 2963h3v51h-3zM371 2963h6v51h-6zM212 3014h3v52h-3zM239 3014h3v52h-3zM371 3014h3v52h-3zM474 3014h3v52h-3zM212 3066h3v52h-3zM374 3066h3v52h-3zM549 3066h6v52h-6zM558 3066h3v52h-3zM290 3118h3v52h-3zM412 3118h3v52h-3zM459 3118h3v52h-3zM570 3118h3v52h-3zM618 3118h6v52h-6zM368 3170h3v52h-3zM380 3170h3v52h-3zM495 3170h3v52h-3zM546 3170h6v52h-6zM564 3170h3v52h-3zM606 3170h3v52h-3zM618 3170h6v52h-6zM221 3222h3v51h-3zM305 3222h3v51h-3zM326 3222h3v51h-3zM489 3222h3v51h-3zM546 3222h3v51h-3zM552 3222h3v51h-3zM597 3222h3v51h-3zM248 3273h6v52h-6zM260 3273h3v52h-3zM326 3273h3v52h-3zM465 3273h3v52h-3zM474 3273h3v52h-3zM555 3273h3v52h-3zM606 3273h3v52h-3zM308 3325h3v52h-3zM389 3325h3v52h-3zM436 3325h3v52h-3zM486 3325h3v52h-3zM495 3325h3v52h-3zM519 3325h3v52h-3zM543 3325h6v52h-6zM555 3325h3v52h-3zM612 3325h3v52h-3zM630 3325h3v52h-3zM260 3377h3v52h-3zM332 3377h3v52h-3zM456 3377h3v52h-3zM513 3377h3v52h-3zM540 3377h3v52h-3zM552 3377h3v52h-3zM603 3377h6v52h-6zM224 3429h3v52h-3zM230 3429h3v52h-3zM314 3429h3v52h-3zM540 3429h6v52h-6zM552 3429h9v52h-9zM588 3429h3v52h-3zM630 3429h3v52h-3zM224 3481h3v51h-3zM368 3481h3v51h-3zM392 3481h3v51h-3zM398 3481h3v51h-3zM442 3481h2v51h-2zM489 3481h3v51h-3zM531 3481h3v51h-3zM549 3481h3v51h-3zM561 3481h3v51h-3zM570 3481h3v51h-3zM600 3481h3v51h-3zM606 3481h3v51h-3zM618 3481h3v51h-3zM444 3532h6v52h-6zM546 3532h3v52h-3zM603 3532h3v52h-3zM621 3532h3v52h-3zM341 3584h3v52h-3zM433 3584h3v52h-3zM453 3584h3v52h-3zM504 3584h3v52h-3zM510 3584h3v52h-3zM540 3584h3v52h-3zM546 3584h3v52h-3zM582 3584h3v52h-3zM600 3584h3v52h-3zM257 3636h3v52h-3zM383 3636h3v52h-3zM474 3636h3v52h-3zM546 3636h3v52h-3zM579 3636h3v52h-3zM251 3688h3v52h-3zM480 3688h3v52h-3zM603 3688h6v52h-6zM621 3688h3v52h-3zM230 3740h3v52h-3zM239 3740h3v52h-3zM338 3740h3v52h-3zM386 3740h3v52h-3zM477 3740h3v52h-3zM558 3740h3v52h-3zM615 3740h3v52h-3z"/>
<path fill="#464600" d="M257 2755h3v52h-3zM374 2755h3v52h-3zM498 2755h3v52h-3zM588 2755h6v52h-6zM597 2755h6v52h-6zM621 2755h6v52h-6zM281 2807h3v52h-3zM299 2807h3v52h-3zM383 2807h3v52h-3zM427 2807h3v52h-3zM456 2807h3v52h-3zM510 2807h3v52h-3zM546 2807h3v52h-3zM552 2807h3v52h-3zM603 2807h3v52h-3zM627 2807h3v52h-3zM299 2859h3v52h-3zM392 2859h3v52h-3zM427 2859h3v52h-3zM456 2859h3v52h-3zM474 2859h3v52h-3zM498 2859h3v52h-3zM531 2859h3v52h-3zM546 2859h3v52h-3zM585 2859h6v52h-6zM627 2859h3v52h-3zM374 2911h3v52h-3zM525 2911h6v52h-6zM591 2911h3v52h-3zM278 2963h3v51h-3zM299 2963h3v51h-3zM314 2963h3v51h-3zM359 2963h3v51h-3zM459 2963h3v51h-3zM504 2963h3v51h-3zM570 2963h3v51h-3zM603 2963h6v51h-6zM290 3014h3v52h-3zM374 3014h3v52h-3zM427 3014h3v52h-3zM439 3014h3v52h-3zM528 3014h3v52h-3zM543 3014h3v52h-3zM564 3014h3v52h-3zM594 3014h6v52h-6zM606 3014h3v52h-3zM564 3066h3v52h-3zM242 3118h3v52h-3zM311 3118h3v52h-3zM326 3118h3v52h-3zM347 3118h3v52h-3zM368 3118h3v52h-3zM383 3118h3v52h-3zM486 3118h3v52h-3zM495 3118h3v52h-3zM275 3170h3v52h-3zM305 3170h3v52h-3zM350 3170h3v52h-3zM474 3170h3v52h-3zM489 3170h3v52h-3zM567 3170h6v52h-6zM594 3170h3v52h-3zM627 3170h3v52h-3zM263 3222h6v51h-6zM356 3222h3v51h-3zM398 3222h3v51h-3zM537 3222h3v51h-3zM555 3222h3v51h-3zM588 3222h3v51h-3zM627 3222h3v51h-3zM230 3273h3v52h-3zM365 3273h3v52h-3zM627 3273h3v52h-3zM326 3325h3v52h-3zM398 3325h3v52h-3zM203 3377h3v52h-3zM263 3377h3v52h-3zM290 3377h3v52h-3zM392 3377h3v52h-3zM427 3377h3v52h-3zM200 3429h3v52h-3zM266 3429h3v52h-3zM341 3429h3v52h-3zM368 3429h3v52h-3zM534 3429h3v52h-3zM612 3429h3v52h-3zM633 3429h3v52h-3zM200 3481h3v51h-3zM221 3481h3v51h-3zM320 3481h3v51h-3zM344 3481h6v51h-6zM386 3481h3v51h-3zM528 3481h3v51h-3zM594 3481h6v51h-6zM197 3532h3v52h-3zM221 3532h3v52h-3zM465 3532h6v52h-6zM525 3532h3v52h-3zM549 3532h3v52h-3zM212 3584h3v52h-3zM224 3584h3v52h-3zM290 3584h3v52h-3zM311 3584h3v52h-3zM368 3584h3v52h-3zM377 3584h3v52h-3zM480 3584h3v52h-3zM227 3636h3v52h-3zM290 3636h3v52h-3zM299 3636h3v52h-3zM308 3636h6v52h-6zM320 3636h3v52h-3zM332 3636h3v52h-3zM486 3636h3v52h-3zM510 3636h6v52h-6zM552 3636h9v52h-9zM197 3688h3v52h-3zM227 3688h3v52h-3zM242 3688h3v52h-3zM281 3688h3v52h-3zM314 3688h3v52h-3zM489 3688h3v52h-3zM197 3740h3v52h-3zM227 3740h3v52h-3zM254 3740h3v52h-3zM290 3740h3v52h-3zM311 3740h3v52h-3zM332 3740h3v52h-3zM588 3740h3v52h-3zM600 3740h3v52h-3z"/>
<path fill="#080804" d="M272 2755h3v52h-3zM459 2755h3v52h-3zM465 2755h3v52h-3zM480 2755h3v52h-3zM501 2755h6v52h-6zM558 2755h3v52h-3zM570 2755h6v52h-6zM579 2755h3v52h-3zM618 2755h3v52h-3zM194 2807h3v52h-3zM209 2807h3v52h-3zM263 2807h3v52h-3zM332 2807h6v52h-6zM392 2807h3v52h-3zM495 2807h3v52h-3zM525 2807h3v52h-3zM531 2807h3v52h-3zM543 2807h3v52h-3zM549 2807h3v52h-3zM582 2807h6v52h-6zM600 2807h3v52h-3zM278 2859h6v52h-6zM311 2859h3v52h-3zM486 2859h3v52h-3zM495 2859h3v52h-3zM510 2859h3v52h-3zM543 2859h3v52h-3zM603 2859h3v52h-3zM633 2859h3v52h-3zM263 2911h6v52h-6zM424 2911h3v52h-3zM447 2911h3v52h-3zM459 2911h3v52h-3zM486 2911h3v52h-3zM564 2911h6v52h-6zM585 2911h3v52h-3zM597 2911h3v52h-3zM239 2963h3v51h-3zM263 2963h6v51h-6zM392 2963h6v51h-6zM412 2963h3v51h-3zM474 2963h3v51h-3zM528 2963h6v51h-6zM576 2963h3v51h-3zM633 2963h3v51h-3zM305 3014h3v52h-3zM412 3014h3v52h-3zM525 3014h3v52h-3zM540 3014h3v52h-3zM576 3014h3v52h-3zM633 3014h3v52h-3zM239 3066h3v52h-3zM305 3066h3v52h-3zM371 3066h3v52h-3zM380 3066h3v52h-3zM412 3066h3v52h-3zM439 3066h3v52h-3zM477 3066h3v52h-3zM525 3066h6v52h-6zM576 3066h3v52h-3zM585 3066h3v52h-3zM597 3066h6v52h-6zM633 3066h3v52h-3zM230 3118h3v52h-3zM239 3118h3v52h-3zM251 3118h3v52h-3zM263 3118h6v52h-6zM299 3118h3v52h-3zM305 3118h3v52h-3zM320 3118h3v52h-3zM332 3118h3v52h-3zM380 3118h3v52h-3zM398 3118h3v52h-3zM433 3118h3v52h-3zM477 3118h6v52h-6zM489 3118h3v52h-3zM594 3118h3v52h-3zM612 3118h3v52h-3zM627 3118h6v52h-6zM200 3170h3v52h-3zM320 3170h3v52h-3zM436 3170h3v52h-3zM480 3170h3v52h-3zM528 3170h3v52h-3zM239 3222h3v51h-3zM290 3222h3v51h-3zM329 3222h6v51h-6zM365 3222h3v51h-3zM371 3222h3v51h-3zM486 3222h3v51h-3zM624 3222h3v51h-3zM203 3273h3v52h-3zM263 3273h6v52h-6zM275 3273h3v52h-3zM305 3273h3v52h-3zM320 3273h3v52h-3zM329 3273h6v52h-6zM371 3273h3v52h-3zM392 3273h3v52h-3zM477 3273h6v52h-6zM576 3273h3v52h-3zM200 3325h6v52h-6zM290 3325h3v52h-3zM332 3325h3v52h-3zM504 3325h3v52h-3zM552 3325h3v52h-3zM371 3377h3v52h-3zM477 3377h3v52h-3zM489 3377h3v52h-3zM555 3377h3v52h-3zM239 3429h3v52h-3zM263 3429h3v52h-3zM299 3429h3v52h-3zM308 3429h6v52h-6zM326 3429h3v52h-3zM371 3429h3v52h-3zM427 3429h3v52h-3zM436 3429h3v52h-3zM474 3429h6v52h-6zM537 3429h3v52h-3zM627 3429h3v52h-3zM197 3481h3v51h-3zM239 3481h3v51h-3zM284 3481h3v51h-3zM290 3481h3v51h-3zM365 3481h3v51h-3zM380 3481h6v51h-6zM450 3481h3v51h-3zM492 3481h3v51h-3zM579 3481h3v51h-3zM627 3481h3v51h-3zM230 3532h3v52h-3zM251 3532h3v52h-3zM260 3532h3v52h-3zM275 3532h3v52h-3zM311 3532h3v52h-3zM320 3532h3v52h-3zM329 3532h3v52h-3zM383 3532h3v52h-3zM483 3532h3v52h-3zM510 3532h3v52h-3zM522 3532h3v52h-3zM531 3532h6v52h-6zM251 3584h3v52h-3zM275 3584h3v52h-3zM284 3584h3v52h-3zM299 3584h3v52h-3zM308 3584h3v52h-3zM338 3584h3v52h-3zM386 3584h6v52h-6zM398 3584h3v52h-3zM477 3584h3v52h-3zM555 3584h6v52h-6zM594 3584h3v52h-3zM621 3584h6v52h-6zM230 3636h3v52h-3zM251 3636h6v52h-6zM284 3636h3v52h-3zM347 3636h3v52h-3zM386 3636h9v52h-9zM576 3636h3v52h-3zM594 3636h3v52h-3zM624 3636h3v52h-3zM230 3688h3v52h-3zM266 3688h3v52h-3zM308 3688h6v52h-6zM383 3688h3v52h-3zM546 3688h3v52h-3zM314 3740h3v52h-3zM380 3740h6v52h-6zM468 3740h3v52h-3zM486 3740h3v52h-3zM534 3740h3v52h-3zM546 3740h3v52h-3z"/>
<path fill="#E4E400" d="M293 2755h3v52h-3zM383 2755h3v52h-3zM424 2755h3v52h-3zM430 2755h3v52h-3zM453 2755h3v52h-3zM477 2755h3v52h-3zM510 2755h3v52h-3zM543 2755h3v52h-3zM549 2755h3v52h-3zM627 2755h3v52h-3zM633 2755h3v52h-3zM266 2807h3v52h-3zM421 2807h3v52h-3zM465 2807h3v52h-3zM492 2807h3v52h-3zM561 2807h3v52h-3zM621 2807h3v52h-3zM212 2859h3v52h-3zM290 2859h3v52h-3zM380 2859h3v52h-3zM418 2859h3v52h-3zM465 2859h3v52h-3zM480 2859h3v52h-3zM492 2859h3v52h-3zM507 2859h3v52h-3zM561 2859h3v52h-3zM606 2859h3v52h-3zM621 2859h3v52h-3zM239 2911h3v52h-3zM260 2911h3v52h-3zM278 2911h3v52h-3zM299 2911h3v52h-3zM308 2911h3v52h-3zM412 2911h6v52h-6zM498 2911h6v52h-6zM516 2911h3v52h-3zM534 2911h3v52h-3zM561 2911h3v52h-3zM573 2911h3v52h-3zM621 2911h6v52h-6zM418 2963h3v51h-3zM439 2963h3v51h-3zM495 2963h3v51h-3zM546 2963h3v51h-3zM561 2963h3v51h-3zM588 2963h3v51h-3zM308 3014h3v52h-3zM359 3014h3v52h-3zM421 3014h3v52h-3zM430 3014h3v52h-3zM459 3014h3v52h-3zM513 3014h3v52h-3zM522 3014h3v52h-3zM534 3014h3v52h-3zM561 3014h3v52h-3zM591 3014h3v52h-3zM260 3066h3v52h-3zM308 3066h3v52h-3zM359 3066h3v52h-3zM418 3066h3v52h-3zM442 3066h2v52h-2zM459 3066h3v52h-3zM513 3066h6v52h-6zM534 3066h3v52h-3zM561 3066h3v52h-3zM573 3066h3v52h-3zM603 3066h3v52h-3zM197 3118h3v52h-3zM287 3118h3v52h-3zM317 3118h3v52h-3zM323 3118h3v52h-3zM329 3118h3v52h-3zM335 3118h3v52h-3zM350 3118h3v52h-3zM359 3118h3v52h-3zM197 3170h3v52h-3zM239 3170h3v52h-3zM284 3170h3v52h-3zM296 3170h3v52h-3zM317 3170h3v52h-3zM326 3170h3v52h-3zM335 3170h3v52h-3zM359 3170h3v52h-3zM365 3170h3v52h-3zM374 3170h3v52h-3zM215 3222h3v51h-3zM245 3222h6v51h-6zM317 3222h3v51h-3zM323 3222h3v51h-3zM335 3222h3v51h-3zM359 3222h3v51h-3zM380 3222h3v51h-3zM392 3222h3v51h-3zM504 3222h3v51h-3zM528 3222h3v51h-3zM302 3273h3v52h-3zM335 3273h3v52h-3zM347 3273h6v52h-6zM495 3273h3v52h-3zM537 3273h3v52h-3zM209 3325h3v52h-3zM242 3325h3v52h-3zM266 3325h3v52h-3zM356 3325h3v52h-3zM380 3325h3v52h-3zM549 3325h3v52h-3zM209 3377h3v52h-3zM227 3377h3v52h-3zM320 3377h3v52h-3zM329 3377h3v52h-3zM335 3377h3v52h-3zM356 3377h6v52h-6zM398 3377h3v52h-3zM245 3429h3v52h-3zM302 3429h3v52h-3zM323 3429h3v52h-3zM365 3429h3v52h-3zM489 3429h3v52h-3zM504 3429h3v52h-3zM549 3429h3v52h-3zM206 3481h3v51h-3zM251 3481h6v51h-6zM293 3481h6v51h-6zM302 3481h3v51h-3zM314 3481h3v51h-3zM326 3481h6v51h-6zM335 3481h3v51h-3zM341 3481h3v51h-3zM353 3481h3v51h-3zM486 3481h3v51h-3zM552 3481h3v51h-3zM200 3532h3v52h-3zM206 3532h3v52h-3zM212 3532h3v52h-3zM284 3532h3v52h-3zM290 3532h6v52h-6zM356 3532h3v52h-3zM368 3532h3v52h-3zM433 3532h3v52h-3zM528 3532h3v52h-3zM200 3584h3v52h-3zM227 3584h3v52h-3zM302 3584h3v52h-3zM329 3584h3v52h-3zM335 3584h3v52h-3zM347 3584h3v52h-3zM356 3584h3v52h-3zM365 3584h3v52h-3zM486 3584h3v52h-3zM200 3636h3v52h-3zM224 3636h3v52h-3zM323 3636h3v52h-3zM329 3636h3v52h-3zM359 3636h3v52h-3zM600 3636h3v52h-3zM212 3688h3v52h-3zM248 3688h3v52h-3zM275 3688h3v52h-3zM284 3688h3v52h-3zM341 3688h6v52h-6zM356 3688h3v52h-3zM371 3688h6v52h-6zM386 3688h3v52h-3zM398 3688h3v52h-3zM206 3740h3v52h-3zM242 3740h9v52h-9zM284 3740h3v52h-3zM329 3740h3v52h-3zM341 3740h3v52h-3zM356 3740h6v52h-6zM395 3740h3v52h-3zM510 3740h3v52h-3zM549 3740h3v52h-3z"/>
<path fill="#FFFF00" d="M415 2755h9v52h-9zM427 2755h3v52h-3zM439 2755h14v52h-14zM468 2755h3v52h-3zM489 2755h6v52h-6zM507 2755h3v52h-3zM516 2755h6v52h-6zM546 2755h3v52h-3zM582 2755h6v52h-6zM603 2755h9v52h-9zM615 2755h3v52h-3zM630 2755h3v52h-3zM260 2807h3v52h-3zM412 2807h9v52h-9zM430 2807h3v52h-3zM436 2807h20v52h-20zM459 2807h6v52h-6zM468 2807h6v52h-6zM486 2807h3v52h-3zM507 2807h3v52h-3zM513 2807h3v52h-3zM519 2807h3v52h-3zM534 2807h3v52h-3zM570 2807h6v52h-6zM579 2807h3v52h-3zM609 2807h9v52h-9zM624 2807h3v52h-3zM630 2807h3v52h-3zM260 2859h3v52h-3zM266 2859h3v52h-3zM412 2859h3v52h-3zM421 2859h3v52h-3zM430 2859h3v52h-3zM436 2859h20v52h-20zM459 2859h6v52h-6zM468 2859h6v52h-6zM489 2859h3v52h-3zM519 2859h6v52h-6zM570 2859h6v52h-6zM579 2859h3v52h-3zM612 2859h6v52h-6zM624 2859h3v52h-3zM630 2859h3v52h-3zM383 2911h3v52h-3zM430 2911h3v52h-3zM436 2911h6v52h-6zM444 2911h3v52h-3zM450 2911h6v52h-6zM462 2911h12v52h-12zM480 2911h3v52h-3zM507 2911h3v52h-3zM513 2911h3v52h-3zM522 2911h3v52h-3zM603 2911h15v52h-15zM627 2911h9v52h-9zM380 2963h3v51h-3zM415 2963h3v51h-3zM424 2963h3v51h-3zM430 2963h3v51h-3zM442 2963h14v51h-14zM462 2963h12v51h-12zM492 2963h3v51h-3zM501 2963h3v51h-3zM507 2963h3v51h-3zM513 2963h12v51h-12zM534 2963h3v51h-3zM579 2963h6v51h-6zM609 2963h18v51h-18zM630 2963h3v51h-3zM383 3014h3v52h-3zM415 3014h3v52h-3zM444 3014h3v52h-3zM450 3014h6v52h-6zM462 3014h12v52h-12zM501 3014h3v52h-3zM507 3014h3v52h-3zM519 3014h3v52h-3zM579 3014h6v52h-6zM609 3014h9v52h-9zM621 3014h6v52h-6zM630 3014h3v52h-3zM383 3066h3v52h-3zM415 3066h3v52h-3zM421 3066h3v52h-3zM444 3066h3v52h-3zM450 3066h6v52h-6zM462 3066h12v52h-12zM501 3066h3v52h-3zM507 3066h3v52h-3zM519 3066h6v52h-6zM579 3066h6v52h-6zM609 3066h9v52h-9zM621 3066h6v52h-6zM630 3066h3v52h-3zM194 3118h3v52h-3zM206 3118h3v52h-3zM212 3118h12v52h-12zM227 3118h3v52h-3zM233 3118h6v52h-6zM245 3118h3v52h-3zM254 3118h6v52h-6zM269 3118h6v52h-6zM281 3118h6v52h-6zM293 3118h6v52h-6zM341 3118h6v52h-6zM353 3118h3v52h-3zM371 3118h9v52h-9zM194 3170h3v52h-3zM203 3170h18v52h-18zM227 3170h3v52h-3zM233 3170h6v52h-6zM245 3170h3v52h-3zM254 3170h6v52h-6zM269 3170h6v52h-6zM281 3170h3v52h-3zM287 3170h3v52h-3zM293 3170h3v52h-3zM323 3170h3v52h-3zM329 3170h3v52h-3zM341 3170h3v52h-3zM353 3170h6v52h-6zM371 3170h3v52h-3zM377 3170h3v52h-3zM392 3170h6v52h-6zM194 3222h6v51h-6zM206 3222h3v51h-3zM212 3222h3v51h-3zM218 3222h3v51h-3zM227 3222h3v51h-3zM233 3222h6v51h-6zM254 3222h6v51h-6zM269 3222h6v51h-6zM281 3222h9v51h-9zM293 3222h6v51h-6zM341 3222h15v51h-15zM368 3222h3v51h-3zM374 3222h6v51h-6zM194 3273h6v52h-6zM206 3273h3v52h-3zM212 3273h9v52h-9zM227 3273h3v52h-3zM233 3273h6v52h-6zM245 3273h3v52h-3zM254 3273h6v52h-6zM269 3273h6v52h-6zM281 3273h3v52h-3zM287 3273h3v52h-3zM293 3273h6v52h-6zM317 3273h3v52h-3zM323 3273h3v52h-3zM341 3273h6v52h-6zM353 3273h3v52h-3zM362 3273h3v52h-3zM368 3273h3v52h-3zM374 3273h9v52h-9zM395 3273h3v52h-3zM534 3273h3v52h-3zM194 3325h3v52h-3zM206 3325h3v52h-3zM212 3325h12v52h-12zM233 3325h6v52h-6zM245 3325h6v52h-6zM257 3325h3v52h-3zM263 3325h3v52h-3zM269 3325h6v52h-6zM281 3325h3v52h-3zM287 3325h3v52h-3zM293 3325h6v52h-6zM317 3325h3v52h-3zM323 3325h3v52h-3zM335 3325h3v52h-3zM341 3325h6v52h-6zM350 3325h6v52h-6zM359 3325h6v52h-6zM374 3325h6v52h-6zM395 3325h3v52h-3zM194 3377h9v52h-9zM206 3377h3v52h-3zM212 3377h9v52h-9zM233 3377h6v52h-6zM254 3377h6v52h-6zM266 3377h9v52h-9zM281 3377h9v52h-9zM293 3377h6v52h-6zM317 3377h3v52h-3zM323 3377h3v52h-3zM341 3377h6v52h-6zM350 3377h6v52h-6zM362 3377h9v52h-9zM374 3377h9v52h-9zM395 3377h3v52h-3zM504 3377h3v52h-3zM510 3377h3v52h-3zM528 3377h3v52h-3zM549 3377h3v52h-3zM194 3429h3v52h-3zM206 3429h18v52h-18zM233 3429h6v52h-6zM254 3429h3v52h-3zM269 3429h6v52h-6zM287 3429h3v52h-3zM293 3429h6v52h-6zM317 3429h3v52h-3zM344 3429h3v52h-3zM350 3429h15v52h-15zM374 3429h9v52h-9zM395 3429h3v52h-3zM510 3429h3v52h-3zM528 3429h3v52h-3zM194 3481h3v51h-3zM218 3481h3v51h-3zM236 3481h3v51h-3zM242 3481h9v51h-9zM269 3481h6v51h-6zM281 3481h3v51h-3zM287 3481h3v51h-3zM317 3481h3v51h-3zM323 3481h3v51h-3zM338 3481h3v51h-3zM350 3481h3v51h-3zM359 3481h6v51h-6zM374 3481h6v51h-6zM389 3481h3v51h-3zM194 3532h3v52h-3zM218 3532h3v52h-3zM233 3532h6v52h-6zM245 3532h6v52h-6zM254 3532h3v52h-3zM266 3532h9v52h-9zM281 3532h3v52h-3zM287 3532h3v52h-3zM296 3532h3v52h-3zM302 3532h9v52h-9zM317 3532h3v52h-3zM323 3532h3v52h-3zM350 3532h6v52h-6zM362 3532h3v52h-3zM374 3532h6v52h-6zM597 3532h3v52h-3zM194 3584h6v52h-6zM206 3584h6v52h-6zM215 3584h6v52h-6zM233 3584h6v52h-6zM242 3584h9v52h-9zM269 3584h6v52h-6zM281 3584h3v52h-3zM287 3584h3v52h-3zM293 3584h6v52h-6zM317 3584h3v52h-3zM323 3584h3v52h-3zM350 3584h6v52h-6zM362 3584h3v52h-3zM537 3584h3v52h-3zM194 3636h3v52h-3zM215 3636h9v52h-9zM233 3636h3v52h-3zM242 3636h3v52h-3zM248 3636h3v52h-3zM266 3636h9v52h-9zM287 3636h3v52h-3zM293 3636h6v52h-6zM302 3636h6v52h-6zM317 3636h3v52h-3zM335 3636h3v52h-3zM350 3636h9v52h-9zM362 3636h3v52h-3zM374 3636h6v52h-6zM395 3636h3v52h-3zM537 3636h3v52h-3zM549 3636h3v52h-3zM597 3636h3v52h-3zM194 3688h3v52h-3zM200 3688h6v52h-6zM209 3688h3v52h-3zM215 3688h9v52h-9zM233 3688h6v52h-6zM245 3688h3v52h-3zM269 3688h6v52h-6zM287 3688h3v52h-3zM293 3688h6v52h-6zM302 3688h6v52h-6zM317 3688h3v52h-3zM323 3688h3v52h-3zM329 3688h3v52h-3zM350 3688h6v52h-6zM359 3688h12v52h-12zM377 3688h3v52h-3zM395 3688h3v52h-3zM510 3688h3v52h-3zM537 3688h3v52h-3zM549 3688h3v52h-3zM194 3740h3v52h-3zM233 3740h6v52h-6zM251 3740h3v52h-3zM269 3740h6v52h-6zM287 3740h3v52h-3zM293 3740h6v52h-6zM302 3740h3v52h-3zM317 3740h3v52h-3zM323 3740h6v52h-6zM335 3740h3v52h-3zM350 3740h6v52h-6zM362 3740h3v52h-3zM374 3740h6v52h-6zM392 3740h3v52h-3zM537 3740h3v52h-3zM555 3740h3v52h-3z"/></g>
<text x="653.1" y="2787.8" class="row">REACTOME_GLYCOLYSIS</text>
<text x="653.1" y="2839.6" class="row">REACTOME_ANCHORING_OF_THE_BASAL_BODY_TO_THE_PLASMA_MEMBRANE</text>
<text x="653.1" y="2891.4" class="row">REACTOME_RECRUITMENT_OF_NUMA_TO_MITOTIC_CENTROSOMES</text>
<text x="653.1" y="2943.2" class="row">REACTOME_FGFR2_ALTERNATIVE_SPLICING</text>
<text x="653.1" y="2995" class="row">REACTOME_SUMOYLATION_OF_CHROMATIN_ORGANIZATION_PROTEINS</text>
<text x="653.1" y="3046.9" class="row">REACTOME_TRANSCRIPTIONAL_REGULATION_BY_SMALL_RNAS</text>
<text x="653.1" y="3098.7" class="row">REACTOME_VIRAL_MESSENGER_RNA_SYNTHESIS</text>
<text x="653.1" y="3150.5" class="row">REACTOME_G_PROTEIN_BETA_GAMMA_SIGNALLING</text>
<text x="653.1" y="3202.3" class="row">REACTOME_G_BETA_GAMMA_SIGNALLING_THROUGH_CDC42</text>
<text x="653.1" y="3254.1" class="row">REACTOME_ANTIGEN_ACTIVATES_B_CELL_RECEPTOR_BCR_LEADING_TO_GENERATION_OF_SECOND_MESSENGERS</text>
<text x="653.1" y="3305.9" class="row">REACTOME_FCERI_MEDIATED_CA_2_MOBILIZATION</text>
<text x="653.1" y="3357.7" class="row">REACTOME_GPVI_MEDIATED_ACTIVATION_CASCADE</text>
<text x="653.1" y="3409.5" class="row">REACTOME_INTERLEUKIN_2_SIGNALING</text>
<text x="653.1" y="3461.3" class="row">REACTOME_GENERATION_OF_SECOND_MESSENGER_MOLECULES</text>
<text x="653.1" y="3513.1" class="row">REACTOME_SIALIC_ACID_METABOLISM</text>
<text x="653.1" y="3565" class="row">REACTOME_EICOSANOID_LIGAND_BINDING_RECEPTORS</text>
<text x="653.1" y="3616.8" class="row">REACTOME_COMPLEMENT_CASCADE</text>
<text x="653.1" y="3668.6" class="row">REACTOME_INITIAL_TRIGGERING_OF_COMPLEMENT</text>
<text x="653.1" y="3720.4" class="row">REACTOME_IMMUNOREGULATORY_INTERACTIONS_BETWEEN_A_LYMPHOID_AND_A_NON_LYMPHOID_CELL</text>
<text x="653.1" y="3772.2" class="row">REACTOME_TRAFFICKING_AND_PROCESSING_OF_ENDOSOMAL_TLR</text>
<path d="M194.3 2833H171.9V2884.8H194.3M194.3 3040.3H181.5V3092.1H194.3M194.3 2988.4H163.4V3066.2H181.5M194.3 2936.6H150.4V3027.3H163.4M171.9 2858.9H145.3V2982H150.4M194.3 2781.2H134V2920.4H145.3M194.3 3143.9H163.2V3195.7H194.3M194.3 3247.5H167.6V3299.3H194.3M194.3 3402.9H160.7V3454.7H194.3M194.3 3351.1H157.8V3428.8H160.7M167.6 3273.4H152.6V3390H157.8M163.2 3169.8H135.3V3331.7H152.6M194.3 3610.2H164.4V3662H194.3M194.3 3713.8H153.9V3765.6H194.3M164.4 3636.1H149V3739.7H153.9M194.3 3558.4H139.1V3687.9H149M194.3 3506.5H129.3V3623.1H139.1M135.3 3250.7H127.1V3564.8H129.3M134 2850.8H56.6V3407.8H127.1" fill="none" stroke="#000" stroke-width="2.8" stroke-linejoin="miter" stroke-linecap="butt"/>
<g shape-rendering="crispEdges"><rect x="1733" y="3072" width="26" height="8" fill="#0000FF"/><rect x="1733" y="3064" width="26" height="8" fill="#0000FF"/><rect x="1733" y="3056" width="26" height="8" fill="#0000FF"/><rect x="1733" y="3048" width="26" height="8" fill="#0000FF"/><rect x="1733" y="3041" width="26" height="7" fill="#0000FF"/><rect x="1733" y="3033" width="26" height="8" fill="#0000FF"/><rect x="1733" y="3025" width="26" height="8" fill="#0000FF"/><rect x="1733" y="3017" width="26" height="8" fill="#0000FF"/><rect x="1733" y="3009" width="26" height="8" fill="#0000FF"/><rect x="1733" y="3001" width="26" height="8" fill="#0000FF"/><rect x="1733" y="2993" width="26" height="8" fill="#0000FF"/><rect x="1733" y="2986" width="26" height="7" fill="#0000FF"/><rect x="1733" y="2978" width="26" height="8" fill="#0000FF"/><rect x="1733" y="2970" width="26" height="8" fill="#0000EF"/><rect x="1733" y="2962" width="26" height="8" fill="#0000DB"/><rect x="1733" y="2954" width="26" height="8" fill="#0000C6"/><rect x="1733" y="2946" width="26" height="8" fill="#0000B1"/><rect x="1733" y="2938" width="26" height="8" fill="#00009C"/><rect x="1733" y="2930" width="26" height="8" fill="#000087"/><rect x="1733" y="2923" width="26" height="7" fill="#000072"/><rect x="1733" y="2915" width="26" height="8" fill="#00005E"/><rect x="1733" y="2907" width="26" height="8" fill="#000049"/><rect x="1733" y="2899" width="26" height="8" fill="#000034"/><rect x="1733" y="2891" width="26" height="8" fill="#00001F"/><rect x="1733" y="2883" width="26" height="8" fill="#00000A"/><rect x="1733" y="2875" width="26" height="8" fill="#0A0A00"/><rect x="1733" y="2868" width="26" height="7" fill="#1F1F00"/><rect x="1733" y="2860" width="26" height="8" fill="#343400"/><rect x="1733" y="2852" width="26" height="8" fill="#494900"/><rect x="1733" y="2844" width="26" height="8" fill="#5E5E00"/><rect x="1733" y="2836" width="26" height="8" fill="#727200"/><rect x="1733" y="2828" width="26" height="8" fill="#878700"/><rect x="1733" y="2820" width="26" height="8" fill="#9C9C00"/><rect x="1733" y="2813" width="26" height="7" fill="#B1B100"/><rect x="1733" y="2805" width="26" height="8" fill="#C6C600"/><rect x="1733" y="2797" width="26" height="8" fill="#DBDB00"/><rect x="1733" y="2789" width="26" height="8" fill="#EFEF00"/><rect x="1733" y="2781" width="26" height="8" fill="#FFFF00"/><rect x="1733" y="2773" width="26" height="8" fill="#FFFF00"/><rect x="1733" y="2765" width="26" height="8" fill="#FFFF00"/><rect x="1733" y="2757" width="26" height="8" fill="#FFFF00"/><rect x="1733" y="2750" width="26" height="7" fill="#FFFF00"/><rect x="1733" y="2742" width="26" height="8" fill="#FFFF00"/><rect x="1733" y="2734" width="26" height="8" fill="#FFFF00"/><rect x="1733" y="2726" width="26" height="8" fill="#FFFF00"/><rect x="1733" y="2718" width="26" height="8" fill="#FFFF00"/><rect x="1733" y="2710" width="26" height="8" fill="#FFFF00"/><rect x="1733" y="2702" width="26" height="8" fill="#FFFF00"/><rect x="1733" y="2695" width="26" height="7" fill="#FFFF00"/><rect x="1733" y="2687" width="26" height="8" fill="#FFFF00"/></g>
<text x="1770.3" y="2719.2" class="tick">2</text>
<text x="1770.3" y="2805.7" class="tick">1</text>
<text x="1770.3" y="2892.2" class="tick">0</text>
<text x="1770.3" y="2978.7" class="tick">−1</text>
<text x="1770.3" y="3065.2" class="tick">−2</text>
<text x="1808.6" y="2705.5" class="ann">cluster</text>
<rect x="1808.6" y="2715.4" width="37.5" height="37.5" fill="#0066FF"/>
<rect x="1808.6" y="2752.9" width="37.5" height="37.5" fill="#FF9900"/>
<text x="1854.3" y="2743.5" class="leg">A</text>
<text x="1854.3" y="2780.9" class="leg">B</text>
<text x="1808.6" y="2836.5" class="ann">Project</text>
<rect x="1808.6" y="2847.4" width="37.5" height="37.2" fill="#00D65C"/>
<text x="1854.3" y="2874.3" class="leg">Sepsis</text>
</svg>
</body></html>
